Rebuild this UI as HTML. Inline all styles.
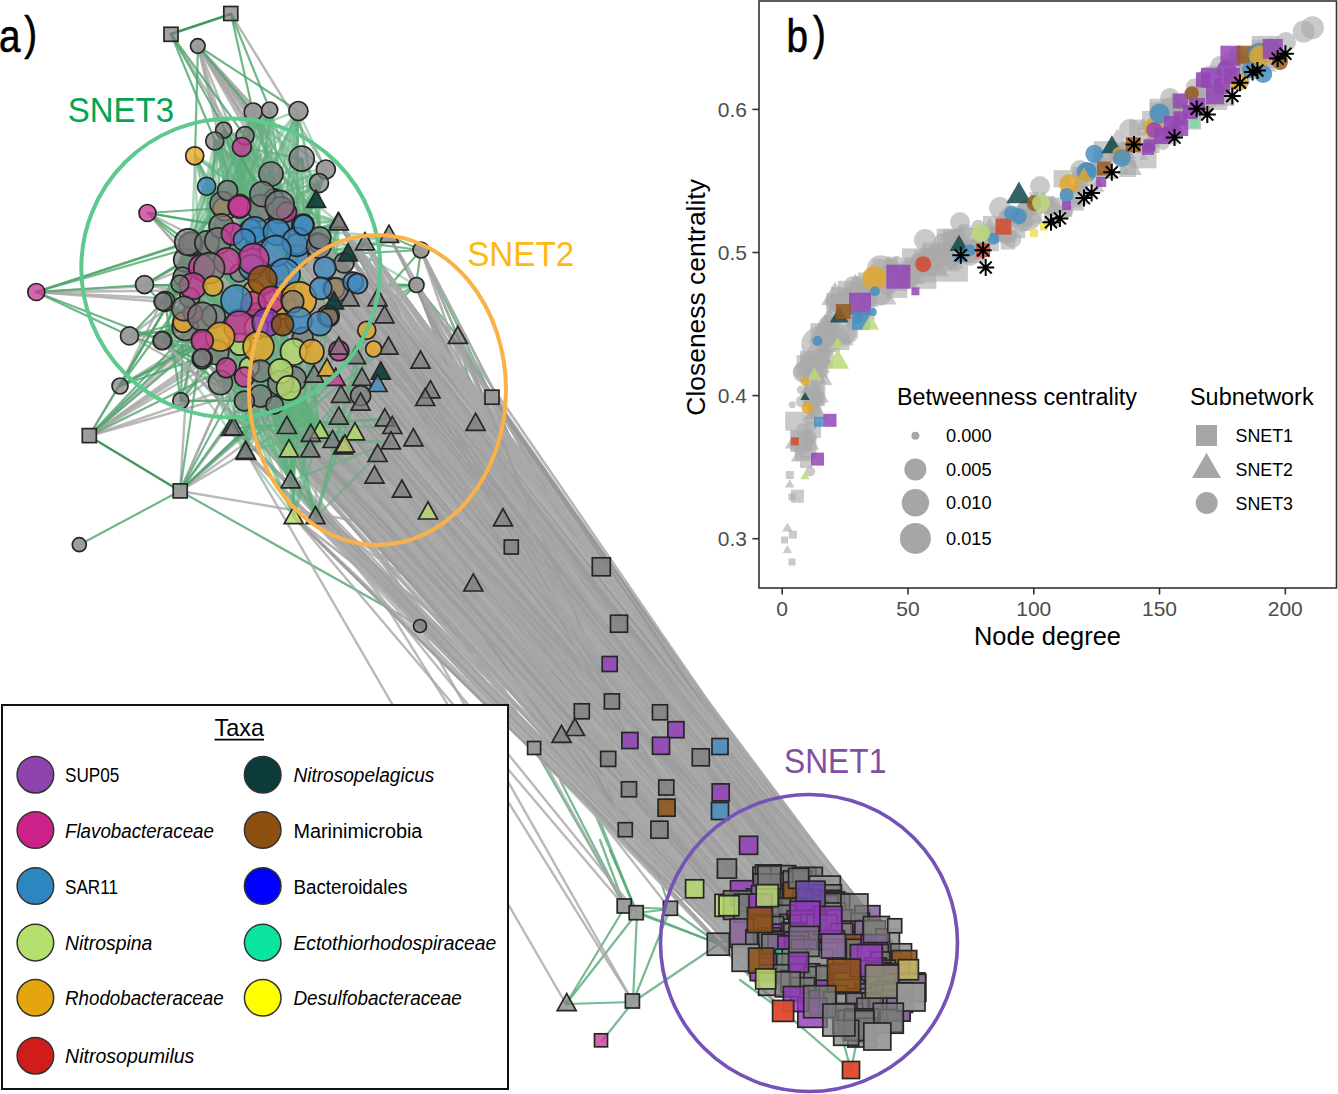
<!DOCTYPE html><html><head><meta charset="utf-8"><style>html,body{margin:0;padding:0;background:#fff;}body{width:1338px;height:1094px;overflow:hidden;}svg{display:block;}</style></head><body>
<svg width="1338" height="1094" viewBox="0 0 1338 1094" font-family="Liberation Sans, sans-serif">
<g stroke-linecap="round">
<path d="M198 46L256 125M198 46L266 137M198 46L267 133M144 285L277 232M130 336L220 337M162 341L281 383" stroke="#a8a8a8" stroke-width="2.4" stroke-opacity="0.8" fill="none"/>
<path d="M89 436L327 369M130 336L281 223M198 46L251 133M36 292L165 302M202 358L293 302M198 46L262 122" stroke="#a8a8a8" stroke-width="2.4" stroke-opacity="0.8" fill="none"/>
<path d="M198 46L257 238M148 213L213 286M198 46L267 121M180 491L341 396M89 436L348 254M231 14L330 175" stroke="#a8a8a8" stroke-width="2.4" stroke-opacity="0.8" fill="none"/>
<path d="M162 341L254 230M198 46L264 139M171 34L262 180M163 302L325 268M163 302L254 259M120 386L253 304" stroke="#a8a8a8" stroke-width="2.4" stroke-opacity="0.8" fill="none"/>
<path d="M163 302L183 322M198 46L257 137M198 46L268 132M180 491L314 375M89 436L180 284M144 285L281 210" stroke="#a8a8a8" stroke-width="2.4" stroke-opacity="0.8" fill="none"/>
<path d="M198 46L270 135M198 46L353 282M198 46L265 132M89 436L266 323M180 491L277 273M198 46L299 300" stroke="#a8a8a8" stroke-width="2.4" stroke-opacity="0.8" fill="none"/>
<path d="M198 46L254 292M89 436L277 273M36 292L262 280M180 491L277 273M89 436L336 290M144 285L236 300" stroke="#a8a8a8" stroke-width="2.4" stroke-opacity="0.8" fill="none"/>
<path d="M36 292L334 289M120 386L191 242M180 491L511 547M162 341L277 273M198 46L254 133M180 491L193 286" stroke="#a8a8a8" stroke-width="2.4" stroke-opacity="0.8" fill="none"/>
<path d="M148 213L207 243M198 46L269 125M130 336L402 490M180 491L289 388M180 491L374 349M202 358L348 254" stroke="#a8a8a8" stroke-width="2.4" stroke-opacity="0.8" fill="none"/>
<path d="M36 292L200 300M89 436L236 300M89 436L339 351M181 401L361 396M198 46L240 206M180 491L365 243" stroke="#a8a8a8" stroke-width="2.4" stroke-opacity="0.8" fill="none"/>
<path d="M202 358L239 273M181 401L254 292M148 213L213 286M89 436L283 306M120 386L321 288M198 46L256 121" stroke="#a8a8a8" stroke-width="2.4" stroke-opacity="0.8" fill="none"/>
<path d="M181 401L283 325M198 46L325 268" stroke="#a8a8a8" stroke-width="2.4" stroke-opacity="0.8" fill="none"/>
<path d="M260 371L232 234M183 322L191 244M260 208L222 204M297 242L191 244M339 351L258 347M220 383L299 300M242 147L214 316M239 327L356 357M321 288L221 226M252 267L317 242M222 204L184 308M240 206L242 147M184 308L343 447M183 322L252 267M165 302L341 396M262 194L232 234M239 207L185 328M353 282L256 327M240 206L253 112M165 302L260 396M339 351L345 445M252 267L341 396M244 240L239 273M297 242L188 242M220 337L262 194M207 243L353 282M183 322L236 300M239 322L392 427M325 268L216 352M220 383L413 439" stroke="#5fb07e" stroke-width="2.4" stroke-opacity="0.5" fill="none"/>
<path d="M281 223L334 302M297 242L281 223M251 230L184 308M321 288L374 476M220 383L281 223M218 241L252 267M245 136L287 212M317 242L320 324M165 302L202 341M260 396L294 517M207 186L328 316M258 347L207 186M195 156L244 377M239 207L343 447M272 300L385 419M260 371L311 434M209 268L215 141M277 232L319 246M202 359L239 322M302 159L336 290M214 316L239 207M258 347L316 517M232 234L270 110M299 321L185 328M293 379L374 476M281 383L251 308M202 359L244 401M344 263L224 130M275 405L163 341M227 261L261 313" stroke="#5fb07e" stroke-width="2.4" stroke-opacity="0.5" fill="none"/>
<path d="M320 238L298 111M239 327L239 322M328 316L287 427M274 199L222 204M297 244L215 141M297 244L303 225M281 223L339 417M216 352L381 372M320 324L274 199M277 232L334 302M339 351L327 369M254 259L333 441M220 383L291 481M281 210L336 290M297 256L298 111M260 208L385 419M202 359L195 156M297 256L202 267M185 328L316 517M222 204L294 352M202 341L184 308M185 328L320 238M260 208L289 450M202 359L374 349M274 199L317 242M297 244L319 246M184 308L353 282M232 234L321 288M193 313L260 371M289 388L334 289" stroke="#5fb07e" stroke-width="2.4" stroke-opacity="0.5" fill="none"/>
<path d="M285 291L416 285M239 207L297 242M220 337L356 357M281 223L338 222M303 338L391 442M193 313L239 322M254 230L388 347M256 319L416 285M275 405L221 226M216 352L336 378M215 141L298 111M302 159L339 351M213 286L392 427M321 288L281 223M260 396L343 447M353 282L291 481M254 292L374 349M339 351L303 338M163 341L299 300M339 351L343 447M193 286L184 308M215 141L227 261M186 260L389 236M220 383L239 322M214 316L378 299M190 298L270 110M316 201L254 259M321 288L225 209M287 212L207 243M244 240L291 481" stroke="#5fb07e" stroke-width="2.4" stroke-opacity="0.5" fill="none"/>
<path d="M339 351L378 385M207 243L163 341M251 308L260 371M254 292L389 236M334 289L339 223M298 111L260 371M297 256L254 292M329 317L218 241M183 322L188 242M336 290L336 378M239 273L317 242M285 291L207 243M277 232L251 230M207 243L240 344M245 136L226 368M317 242L242 147M226 368L298 111M244 401L339 417M281 371L328 316M299 300L378 385M312 352L193 286M304 225L215 141M298 111L202 317M275 405L361 396M239 327L362 378M266 323L202 341M317 242L344 263M297 256L183 322M285 274L320 238M336 290L328 316" stroke="#5fb07e" stroke-width="2.4" stroke-opacity="0.5" fill="none"/>
<path d="M260 208L240 206M257 238L291 481M188 242L316 201M232 234L334 302M253 304L254 292M320 238L291 481M303 338L260 371M239 207L338 222M244 240L391 442M277 273L339 347M272 300L339 223M281 371L289 450M289 388L256 327M218 241L252 267M180 284L256 327M262 280L297 244M271 174L184 308M321 288L334 302M184 308L256 327M297 256L276 251M239 273L183 322M319 246L260 371M220 383L299 300M262 194L193 313M293 302L281 371M232 234L384 316M319 246L391 442M202 341L186 260M319 246L299 321M239 273L221 226" stroke="#5fb07e" stroke-width="2.4" stroke-opacity="0.5" fill="none"/>
<path d="M353 282L185 328M338 222L227 261M226 368L391 442M202 317L193 313M283 306L402 490M183 322L348 254M227 261L336 290M193 286L183 322M239 207L246 452M321 288L239 322M215 141L253 304M329 317L202 341M183 322L314 375M190 298L239 207M207 186L285 291M218 241L213 286M239 207L252 267M207 243L298 111M213 286L252 267M245 136L272 300M180 284L249 367M334 289L355 433M251 260L220 337M207 186L216 352M226 368L333 441M214 316L378 385M293 302L251 308M316 201L209 268M294 352L281 223M256 327L184 308" stroke="#5fb07e" stroke-width="2.4" stroke-opacity="0.5" fill="none"/>
<path d="M262 194L202 341M283 306L221 226M276 251L218 241M180 284L260 396M283 306L165 302M303 338L224 130M244 377L281 210M222 204L297 256M287 212L253 112M220 337L193 286M239 273L271 174M254 292L165 302M218 241L339 347M258 347L344 263M221 226L239 322M260 396L291 481M236 300L256 327M252 267L293 379M202 341L266 323M207 186L240 206M293 379L220 337M297 256L339 351M207 186L183 322M285 291L361 403M266 323L303 225M298 111L326 170M277 273L367 330M214 316L207 243M303 338L338 222M303 338L358 284" stroke="#5fb07e" stroke-width="2.4" stroke-opacity="0.5" fill="none"/>
<path d="M224 130L276 251M285 274L207 243M312 352L344 263M207 243L289 450M281 223L224 130M256 327L391 442M240 206L207 186M191 244L216 352M244 377L202 267M226 368L345 445M254 259L336 290M280 205L274 199M202 341L242 147M283 325L281 371M240 206L215 141M281 371L262 280M202 317L336 290M260 208L213 286M244 401L374 349M190 298L355 433M222 204L202 341M262 280L182 276M293 379L319 246M232 234L191 242M277 232L320 238M209 268L244 401M202 359L297 256M240 206L202 359M283 325L302 159M249 367L207 243" stroke="#5fb07e" stroke-width="2.4" stroke-opacity="0.5" fill="none"/>
<path d="M294 352L416 285M277 273L281 371M221 226L378 455M285 291L202 341M297 256L251 260M228 190L207 243M202 267L240 344M244 377L239 322M227 261L348 254M207 186L254 230M281 223L325 268M303 225L289 450M182 276L191 244M256 327L202 341M287 212L378 455M209 268L163 341M293 302L314 375M184 308L183 322M220 337L321 288M222 204L276 251M289 388L336 290M216 352L319 246M285 274L260 208M316 201L240 206M274 199L202 341M163 341L249 367M344 263L266 323M251 308L345 445M240 344L338 222M297 244L220 337" stroke="#5fb07e" stroke-width="2.4" stroke-opacity="0.5" fill="none"/>
<path d="M244 377L327 369M283 325L320 431M193 286L281 383M258 347L294 352M185 328L256 319M297 256L240 344M221 226L277 273M260 208L251 308M260 396L345 445M317 242L281 210M316 201L256 319M353 282L221 226M163 341L367 330M283 306L338 222M216 352L251 260M287 212L299 321M297 244L326 170M213 286L260 208M240 206L193 286M254 292L258 347M207 186L319 246M274 199L244 401M281 383L251 308M329 317L361 403M344 263L287 427M289 388L303 338M240 344L207 243M271 174L270 110M329 317L413 439M214 316L339 223" stroke="#5fb07e" stroke-width="2.4" stroke-opacity="0.5" fill="none"/>
<path d="M260 208L227 261M328 316L339 347M312 352L245 136M202 341L297 256M297 256L302 159M256 327L325 268M325 268L320 324M266 323L246 452M244 401L191 244M281 223L378 385M261 313L220 337M285 274L339 417M190 298L356 357M277 232L239 273M256 327L285 291M281 210L328 316M239 327L280 205M281 223L294 517M275 405L392 427M353 282L253 112M260 396L193 313M207 243L378 455M302 159L304 225M180 284L361 403M271 174L326 170M251 260L281 371M239 322L304 225M320 238L224 130M256 319L240 206M289 388L385 419" stroke="#5fb07e" stroke-width="2.4" stroke-opacity="0.5" fill="none"/>
<path d="M207 243L244 401M213 286L287 427M226 368L184 308M334 289L336 378M226 368L304 225M193 286L281 210M297 242L314 375M209 268L304 225M338 222L190 298M303 338L215 141M260 396L195 156M244 240L234 428M298 111L256 327M215 141L302 159M185 328L297 256M186 260L325 268M326 170L253 112M239 327L389 236M183 322L202 359M281 210L165 302M274 199L384 316M303 338L304 225M256 319L220 383M240 344L185 328M216 352L391 442M297 244L283 306M163 341L294 517M239 322L254 292M251 260L260 371M193 286L367 330" stroke="#5fb07e" stroke-width="2.4" stroke-opacity="0.5" fill="none"/>
<path d="M249 367L242 147M297 242L334 302M165 302L218 241M257 238L222 204M254 259L289 388M240 206L256 327M165 302L245 136M225 209L195 156M216 352L202 317M294 352L188 242M213 286L202 317M180 284L378 455M285 274L182 276M244 401L240 344M258 347L355 433M260 371L291 481M227 261L207 243M344 263L320 324M328 316L186 260M251 230L385 419M316 201L328 316M245 136L277 273M224 130L320 324M277 273L298 111M285 274L298 111M244 377L362 378M225 209L392 427M285 291L385 419M287 212L289 388M180 284L416 285" stroke="#5fb07e" stroke-width="2.4" stroke-opacity="0.5" fill="none"/>
<path d="M326 170L316 201M328 316L240 206M299 321L325 268M303 338L285 274M281 223L216 352M202 317L207 243M277 232L299 321M183 322L236 300M220 383L384 316M254 259L413 439M202 341L297 244M303 225L213 286M251 230L262 280M226 368L285 291M184 308L378 299M220 337L242 147M252 267L339 347M303 225L293 379M277 232L341 396M338 222L320 324M258 347L339 347M303 225L289 450M260 371L274 199M270 110L227 261M254 292L385 419M277 232L251 260M239 322L345 445M220 383L236 300M316 201L202 341M285 274L327 369" stroke="#5fb07e" stroke-width="2.4" stroke-opacity="0.5" fill="none"/>
<path d="M262 280L327 369M244 377L240 206M283 306L260 208M281 383L321 288M285 291L240 206M299 321L294 517M202 317L291 481M244 401L319 183M298 111L213 286M193 286L287 212M242 147L251 308M249 367L317 242M260 208L240 344M245 136L329 317M253 304L190 298M182 276L256 327M262 194L226 368M271 174L321 288M258 347L274 199M294 352L299 321M338 222L274 199M285 274L285 291M320 238L319 183M293 379L416 285M191 242L190 298M312 352L221 226M244 401L256 327M163 341L244 377M240 206L183 322M202 341L339 417" stroke="#5fb07e" stroke-width="2.4" stroke-opacity="0.5" fill="none"/>
<path d="M272 300L374 476M275 405L374 476M319 183L222 204M236 300L381 372M304 225L245 136M276 251L244 240M240 344L245 136M260 396L320 431M266 323L326 170M252 267L287 212M339 351L258 347M281 371L180 284M336 290L253 304M202 359L215 141M232 234L195 156M245 136L244 240M328 316L334 289M302 159L304 225M312 352L304 225M232 234L202 267M302 159L281 210M180 284L253 112M338 222L281 223M244 401L326 170M240 206L186 260M222 204L281 371M281 210L240 206M336 290L239 273M258 347L270 110M183 322L297 242" stroke="#5fb07e" stroke-width="2.4" stroke-opacity="0.5" fill="none"/>
<path d="M240 344L325 268M182 276L277 273M258 347L207 186M252 267L227 261M293 302L260 396M202 341L275 405M299 300L374 349M251 230L358 284M240 206L222 204M202 341L256 327M353 282L254 230M299 321L381 372M244 401L182 276M287 212L416 285M227 261L344 263M191 242L239 327M202 267L188 242M251 308L325 268M254 292L202 267M274 199L260 208M312 352L191 242M303 338L339 223M262 194L317 242M191 244L328 316M213 286L348 254M254 230L353 282M277 273L165 302M190 298L325 268M209 268L245 136M213 286L334 289" stroke="#5fb07e" stroke-width="2.4" stroke-opacity="0.5" fill="none"/>
<path d="M260 371L416 285M182 276L262 280M224 130L163 341M202 341L183 322M182 276L224 130M240 206L326 170M213 286L343 447M353 282L277 232M320 324L297 256M319 246L319 183M272 300L253 304M353 282L240 206M329 317L336 378M207 243L262 280M317 242L239 322M251 230L299 321M191 242L254 230M281 223L374 349M244 401L362 378M191 242L350 299M297 242L317 242M216 352L320 324M185 328L297 244M281 223L165 302M320 324L281 210M303 338L261 313M221 226L272 300M193 286L253 304M240 206L299 321M188 242L297 242" stroke="#5fb07e" stroke-width="2.4" stroke-opacity="0.5" fill="none"/>
<path d="M258 347L272 300M344 263L283 306M253 304L285 291M353 282L262 194M249 367L402 490M260 396L256 319M312 352L224 130M202 317L239 322M304 225L320 238M227 261L277 273M277 232L193 286M165 302L202 341M297 244L262 194M191 242L314 375M260 208L341 396M256 319L226 368M287 212L384 316M328 316L329 317M299 300L367 330M218 241L374 349M281 383L298 111M244 240L303 338M353 282L202 359M193 286L365 243M225 209L285 291M191 242L339 351M289 388L348 254M244 401L261 313M293 302L297 256M304 225L262 194" stroke="#5fb07e" stroke-width="2.4" stroke-opacity="0.5" fill="none"/>
<path d="M165 302L320 431M276 251L310 450M253 112L251 260M277 273L339 347M319 183L280 205M216 352L280 205M220 337L256 327M202 341L299 321M293 379L385 419M319 183L244 401M165 302L227 261M334 289L334 302M245 136L214 316M303 338L374 349M232 234L321 288M303 225L180 284M224 130L283 306M226 368L225 209M244 240L334 289M213 286L336 290M209 268L378 299M293 302L281 383M334 289L391 442M184 308L251 260M244 377L271 174M191 242L293 379M202 341L272 300M186 260L202 359M287 212L353 282M297 242L188 242" stroke="#5fb07e" stroke-width="2.4" stroke-opacity="0.5" fill="none"/>
<path d="M185 328L239 207M251 230L272 300M214 316L341 396M297 242L207 186M260 208L253 304M249 367L257 238M216 352L202 317M216 352L334 289M325 268L232 234M281 383L341 396M186 260L281 383M281 223L253 304M260 208L221 226M261 313L185 328M254 292L333 441M207 243L348 254M182 276L232 234M214 316L289 450M207 186L321 288M207 243L378 385M336 290L289 388M236 300L283 306M298 111L262 194M260 371L345 445M251 260L190 298M297 256L184 308M281 223L291 481M260 371L345 445M297 242L319 246M353 282L389 236" stroke="#5fb07e" stroke-width="2.4" stroke-opacity="0.5" fill="none"/>
<path d="M193 313L299 321M220 337L297 256M329 317L244 377M281 210L281 223M257 238L341 396M261 313L262 194M207 186L329 317M254 259L252 267M266 323L392 427M299 300L281 223M216 352L316 201M299 321L191 242M251 260L303 225M254 292L232 234M188 242L242 147M213 286L251 260M207 186L220 383M165 302L314 375M242 147L266 323M261 313L262 194M317 242L343 447M239 273L277 232M236 300L381 372M336 290L374 349M240 206L242 147M281 223L339 351M297 244L281 371M281 210L299 321M293 379L202 341M260 208L262 280" stroke="#5fb07e" stroke-width="2.4" stroke-opacity="0.5" fill="none"/>
<path d="M298 111L216 352M163 341L297 242M218 241L312 352M239 207L193 313M239 207L314 375M260 208L277 273M251 308L385 419M251 308L274 199M240 344L298 111M240 206L244 401M183 322L232 234M283 325L202 317M287 212L291 481M281 223L341 396M297 242L254 292M281 223L228 190M289 388L344 263M239 207L242 147M193 286L312 352M239 207L303 225M254 259L185 328M221 226L191 242M240 344L252 267M226 368L257 238M239 327L277 232M258 347L236 300M165 302L249 367M227 261L339 351M277 232L221 226M297 244L182 276" stroke="#5fb07e" stroke-width="2.4" stroke-opacity="0.5" fill="none"/>
<path d="M215 141L191 244M271 174L221 226M293 379L374 349M344 263L221 226M242 147L302 159M221 226L244 377M183 322L355 433M183 322L297 242M244 401L367 330M236 300L193 286M193 286L239 273M251 230L202 359M253 304L384 316M220 383L362 378M249 367L190 298M202 341L291 481M260 371L320 324M281 210L193 286M239 327L249 367M244 401L289 388M320 324L272 300M344 263L239 207M294 352L289 388M274 199L350 299M239 273L293 302M283 325L202 317M281 371L297 242M321 288L218 241M202 341L299 321M289 388L202 359" stroke="#5fb07e" stroke-width="2.4" stroke-opacity="0.5" fill="none"/>
<path d="M165 302L402 490M202 341L281 223M188 242L202 359M252 267L215 141M256 319L186 260M251 260L239 273M221 226L262 280M221 226L226 368M271 174L207 186M276 251L251 230M260 371L325 268M251 308L191 244M272 300L281 383M281 223L195 156M275 405L183 322M281 210L261 313M266 323L402 490M316 201L339 351M242 147L193 313M302 159L183 322M256 327L254 292M193 286L240 344M260 396L240 206M334 289L378 455M321 288L325 268M193 286L339 351M285 291L209 268M253 304L209 268M281 383L239 273M188 242L289 388" stroke="#5fb07e" stroke-width="2.4" stroke-opacity="0.5" fill="none"/>
<path d="M251 308L202 267M207 243L345 445M218 241L299 300M251 230L341 396M260 396L378 385M283 306L186 260M277 232L225 209M320 324L311 434M299 321L320 324M277 232L311 434M218 241L239 322M227 261L378 455M239 327L350 299M260 371L207 243M239 322L191 244M239 273L280 205M257 238L362 378M244 240L165 302M202 341L207 243M303 225L245 136M224 130L240 206M257 238L202 341M289 388L193 313M256 327L339 347M321 288L416 285M283 325L249 367M270 110L303 338M226 368L254 259M275 405L191 244M244 401L165 302" stroke="#5fb07e" stroke-width="2.4" stroke-opacity="0.5" fill="none"/>
<path d="M283 306L297 256M207 186L249 367M260 396L262 280M222 204L329 317M277 232L246 452M215 141L283 325M251 230L321 288M294 352L254 292M188 242L258 347M339 351L339 347M272 300L254 292M319 183L202 341M257 238L260 208M344 263L281 210M188 242L182 276M299 321L261 313M325 268L413 439M294 352L191 242M191 242L334 302M227 261L327 369M191 242L294 352M285 274L240 206M303 225L336 378M253 112L218 241M182 276L228 190M299 321L402 490M193 286L374 476M316 201L220 337M163 341L188 242M195 156L281 371" stroke="#5fb07e" stroke-width="2.4" stroke-opacity="0.5" fill="none"/>
<path d="M299 300L281 210M325 268L374 476M281 371L254 259M297 256L256 327M260 371L311 434M281 210L215 141M260 371L251 260M242 147L270 110M214 316L289 450M182 276L209 268M207 186L316 201M303 338L260 208M180 284L165 302M344 263L215 141M224 130L240 344M297 256L334 302M334 289L374 476M226 368L281 223M338 222L285 291M221 226L165 302M202 267L362 378M226 368L254 292M232 234L281 210M226 368L320 238M266 323L339 347M260 396L381 372M183 322L234 428M202 341L225 209M188 242L287 427M236 300L291 481" stroke="#5fb07e" stroke-width="2.4" stroke-opacity="0.5" fill="none"/>
<path d="M260 396L185 328M297 242L374 476M185 328L333 441M163 341L274 199M283 325L240 206M281 383L185 328M319 246L299 321M188 242L327 369M317 242L193 286M214 316L355 433M232 234L361 403M202 359L215 141M253 112L297 244M184 308L304 225M207 243L209 268M191 242L281 383M188 242L275 405M251 230L298 111M287 212L254 230M185 328L202 341M262 194L239 273M283 325L224 130M239 207L320 324M338 222L299 300M297 242L220 383M245 136L320 324M262 280L182 276M321 288L260 396M272 300L215 141M202 341L291 481" stroke="#5fb07e" stroke-width="2.4" stroke-opacity="0.5" fill="none"/>
<path d="M253 112L281 210M239 273L365 243M293 302L298 111M220 383L287 212M256 319L218 241M240 206L261 313M222 204L220 337M193 313L281 371M249 367L320 238M239 327L334 302M297 244L277 232M182 276L254 292M266 323L385 419M262 280L257 238M191 242L214 316M185 328L202 341M297 244L245 136M244 240L304 225M251 260L276 251M287 212L320 238M283 306L207 186M190 298L252 267M195 156L190 298M281 371L240 206M242 147L260 208M283 325L281 210M244 377L385 419M260 371L277 273M285 291L334 302M325 268L355 433" stroke="#5fb07e" stroke-width="2.4" stroke-opacity="0.5" fill="none"/>
<path d="M236 300L262 280M256 319L281 210M191 242L254 292M298 111L297 242M182 276L191 244M294 352L378 455M272 300L207 186M239 273L320 431M319 183L281 210M344 263L320 324M251 308L280 205M225 209L327 369M207 243L202 341M193 313L236 300M244 377L202 267M270 110L186 260M239 273L262 280M287 212L402 490M256 319L227 261M228 190L202 341M254 230L258 347M244 377L257 238M338 222L224 130M285 291L253 112M256 327L378 455M271 174L253 112M283 325L262 280M186 260L341 396M184 308L260 371M242 147L277 232" stroke="#5fb07e" stroke-width="2.4" stroke-opacity="0.5" fill="none"/>
<path d="M209 268L339 223M270 110L252 267M180 284L214 316M256 319L276 251M224 130L220 383M182 276L350 299M326 170L222 204M220 337L209 268M240 206L253 304M220 383L378 299M271 174L299 321M165 302L348 254M256 327L202 341M319 246L185 328M215 141L336 290M287 212L378 385M283 306L374 349M260 371L180 284M193 313L356 357M226 368L287 427M293 302L320 431M298 111L297 242M272 300L374 349M289 388L312 352M244 401L251 260M283 325L367 330M220 383L256 319M293 379L228 190M239 207L355 433M256 327L262 280" stroke="#5fb07e" stroke-width="2.4" stroke-opacity="0.5" fill="none"/>
<path d="M221 226L283 325M262 194L281 371M213 286L253 112M220 337L251 230M293 379L256 327M271 174L321 288M202 267L163 341M254 292L257 238M207 186L274 199M271 174L281 210M299 300L343 447M191 242L367 330M214 316L180 284M188 242L392 427M329 317L256 319M232 234L374 476M329 317L310 450M270 110L317 242M281 223L348 254M207 186L312 352M228 190L285 274M299 300L215 141M262 280L195 156M191 244L345 445M256 319L378 299M328 316L283 325M285 291L338 222M277 232L336 290M186 260L242 147M240 206L253 112" stroke="#5fb07e" stroke-width="2.4" stroke-opacity="0.5" fill="none"/>
<path d="M215 141L328 316M253 112L336 290M283 306L381 372M232 234L314 375M285 274L281 210M319 183L253 112M180 284L367 330M253 112L262 194M182 276L225 209M216 352L384 316M253 112L180 284M180 284L334 289M245 136L207 186M191 244L299 300M244 401L270 110M283 325L361 396M190 298L182 276M256 327L274 199M226 368L325 268M271 174L249 367M252 267L270 110M220 337L378 455M339 351L240 344M319 246L252 267M226 368L361 396M184 308L262 194M251 308L293 379M244 240L213 286M186 260L254 259M222 204L391 442" stroke="#5fb07e" stroke-width="2.4" stroke-opacity="0.5" fill="none"/>
<path d="M236 300L291 481M320 324L214 316M163 341L256 319M277 232L326 170M320 324L333 441M317 242L236 300M193 313L283 306M186 260L327 369M254 259L221 226M226 368L311 434M244 240L339 351M202 341L227 261M262 280L186 260M193 286L274 199M262 194L195 156M326 170L213 286M260 371L327 369M184 308L224 130M272 300L185 328M215 141L220 383M336 290L236 300M244 401L293 302M281 223L251 260M294 352L388 347M302 159L191 244M253 304L207 186M245 136L232 234M277 232L251 308M207 186L274 199M312 352L260 396" stroke="#5fb07e" stroke-width="2.4" stroke-opacity="0.5" fill="none"/>
<path d="M191 242L165 302M289 388L329 317M232 234L202 359M249 367L365 243M260 396L246 452M262 280L287 427M275 405L384 316M185 328L261 313M221 226L365 243M289 388L361 403M202 341L310 450M182 276L389 236M193 286L297 242M283 325L262 280M244 401L319 183M262 280L240 206M209 268L254 259M193 313L249 367M277 273L319 183M316 201L252 267M329 317L339 223M334 289L191 244M242 147L260 371M334 289L358 284M190 298L339 223M294 352L367 330M228 190L260 371M252 267L289 388M186 260L339 223M242 147L257 238" stroke="#5fb07e" stroke-width="2.4" stroke-opacity="0.5" fill="none"/>
<path d="M202 341L218 241M299 300L281 223M283 325L391 442M182 276L378 385M293 302L362 378M180 284L193 313M221 226L207 243M281 210L256 327M244 401L232 234M224 130L272 300M222 204L191 242M240 206L362 378M261 313L251 230M240 206L254 230M218 241L291 481M216 352L374 349M236 300L281 371M202 359L327 369M253 112L329 317M244 240L361 403M202 359L251 260M183 322L240 344M353 282L303 225M303 338L287 212M277 273L254 230M299 321L320 431M202 359L251 260M260 208L384 316M228 190L338 222M256 319L361 403" stroke="#5fb07e" stroke-width="2.4" stroke-opacity="0.5" fill="none"/>
<path d="M261 313L251 230M329 317L270 110M281 371L311 434M239 327L244 240M285 291L343 447M188 242L298 111M216 352L239 273M195 156L319 246M191 242L275 405M239 273L256 319M260 396L246 452M239 207L190 298M193 286L319 246M262 280L327 369M271 174L281 371M239 322L326 170M236 300L245 136M253 112L213 286M185 328L378 385M317 242L244 401M185 328L183 322M297 256L274 199M285 291L236 300M336 290L254 259M266 323L195 156M252 267L283 325M240 206L251 308M260 208L320 324M319 246L218 241M299 321L193 286" stroke="#5fb07e" stroke-width="2.4" stroke-opacity="0.5" fill="none"/>
<path d="M249 367L334 302M236 300L336 290M239 322L251 308M227 261L317 242M294 352L317 242M317 242L261 313M202 341L338 222M191 242L333 441M285 274L365 243M221 226L389 236M183 322L341 396M165 302L281 371M319 183L285 291M283 325L207 186M283 306L385 419M261 313L345 445M202 341L244 240M270 110L299 321M256 327L294 352M257 238L183 322M218 241L232 234M221 226L254 259M251 230L213 286M258 347L209 268M224 130L165 302M329 317L283 325M213 286L303 338M244 401L291 481M270 110L274 199M180 284L191 242" stroke="#5fb07e" stroke-width="2.4" stroke-opacity="0.5" fill="none"/>
<path d="M329 317L214 316M202 267L378 455M193 286L275 405M272 300L416 285M283 325L312 352M222 204L277 273M163 341L384 316M299 321L391 442M316 201L298 111M328 316L367 330M320 238L254 230M254 230L262 280M304 225L207 186M209 268L266 323M232 234L202 359M328 316L183 322M240 344L202 267M207 186L293 302M186 260L378 299M251 260L413 439M297 244L245 136M180 284L319 183M275 405L293 302M191 244L297 244M240 206L320 431M207 186L254 259M260 371L236 300M283 306L391 442M285 274L257 238M299 300L220 383" stroke="#5fb07e" stroke-width="2.4" stroke-opacity="0.5" fill="none"/>
<path d="M253 304L262 194M320 324L336 290M304 225L215 141M289 388L260 371M190 298L277 232M225 209L333 441M221 226L310 450M317 242L281 210M221 226L202 341M191 244L184 308M253 112L258 347M184 308L218 241M271 174L216 352M260 208L326 170M239 273L182 276M280 205L180 284M193 286L378 385M207 243L220 337M225 209L319 183M317 242L311 434M221 226L202 341M329 317L226 368M285 291L202 359M293 379L317 242M240 206L392 427M257 238L287 212M213 286L311 434M334 289L218 241M185 328L258 347M180 284L234 428" stroke="#5fb07e" stroke-width="2.4" stroke-opacity="0.5" fill="none"/>
<path d="M281 371L320 431M320 238L355 433M283 306L392 427M245 136L257 238M281 210L163 341M281 371L236 300M251 260L254 230M283 306L256 327M299 300L261 313M244 401L325 268M320 324L226 368M188 242L345 445M245 136L281 383M281 223L334 289M297 242L329 317M226 368L321 288M253 112L353 282M277 232L378 299M320 324L285 291M184 308L163 341M303 338L190 298M299 321L215 141M202 341L224 130M293 379L358 284M281 223L184 308M191 244L163 341M220 383L350 299M334 289L378 299M312 352L343 447M182 276L338 222" stroke="#5fb07e" stroke-width="2.4" stroke-opacity="0.5" fill="none"/>
<path d="M225 209L325 268M312 352L266 323M218 241L299 321M252 267L413 439M283 325L362 378M293 302L384 316M258 347L303 225M252 267L226 368M163 341L297 244M218 241L239 207M202 267L260 371M239 322L191 244M224 130L191 242M207 243L285 291M252 267L334 289M236 300L266 323M251 260L353 282M220 383L378 385M239 207L236 300M312 352L336 378M328 316L182 276M320 324L358 284M182 276L260 396M191 244L358 284M239 207L275 405M239 207L220 337M281 223L311 434M185 328L202 267M344 263L216 352M221 226L240 206" stroke="#5fb07e" stroke-width="2.4" stroke-opacity="0.5" fill="none"/>
<path d="M240 206L209 268M220 337L316 201M253 304L344 263M321 288L339 223M289 388L240 344M317 242L316 517M202 359L254 292M239 327L239 273M270 110L260 208M277 273L190 298M251 308L345 445M328 316L271 174M191 242L239 322M303 225L244 401M287 212L276 251M260 396L256 327M185 328L320 324M256 319L215 141M191 244L254 292M262 280L261 313M285 274L261 313M297 242L182 276" stroke="#5fb07e" stroke-width="2.4" stroke-opacity="0.5" fill="none"/>
<path d="M162 341L240 344M171 34L215 141M458 337L511 547M231 14L270 110M148 213L239 207M130 336L185 328" stroke="#4ea56c" stroke-width="2.2" stroke-opacity="0.8" fill="none"/>
<path d="M148 213L251 230M180 491L420 626M180 491L258 347M148 213L188 242M162 341L190 298M36 292L130 336" stroke="#4ea56c" stroke-width="2.2" stroke-opacity="0.8" fill="none"/>
<path d="M120 386L180 284M120 386L202 341M89 436L202 341M144 285L213 286M163 302L185 328M36 292L188 242" stroke="#4ea56c" stroke-width="2.2" stroke-opacity="0.8" fill="none"/>
<path d="M148 213L209 268M421 250L378 299M163 302L220 337M421 250L348 254M416 285L384 316M181 401L165 302" stroke="#4ea56c" stroke-width="2.2" stroke-opacity="0.8" fill="none"/>
<path d="M198 46L195 156M36 292L163 341M120 386L216 352M144 285L186 260M89 436L226 368M421 250L365 243" stroke="#4ea56c" stroke-width="2.2" stroke-opacity="0.8" fill="none"/>
<path d="M130 336L183 322M171 34L262 194M198 46L253 112M163 302L188 242M421 250L492 397M144 285L186 260" stroke="#4ea56c" stroke-width="2.2" stroke-opacity="0.8" fill="none"/>
<path d="M202 358L244 401M421 250L458 337M181 401L244 401M389 236L421 250M181 401L183 322M130 336L226 368" stroke="#4ea56c" stroke-width="2.2" stroke-opacity="0.8" fill="none"/>
<path d="M198 46L298 111M181 401L239 327M458 337L492 397M416 285L421 250M36 292L207 243M144 285L202 341" stroke="#4ea56c" stroke-width="2.2" stroke-opacity="0.8" fill="none"/>
<path d="M180 491L202 341M202 358L184 308M231 14L253 112M36 292L144 285M162 341L220 383M180 491L275 405" stroke="#4ea56c" stroke-width="2.2" stroke-opacity="0.8" fill="none"/>
<path d="M36 292L191 242M130 336L180 284M79 545L180 491M180 491L289 388M416 285L358 284M416 285L458 337" stroke="#4ea56c" stroke-width="2.2" stroke-opacity="0.8" fill="none"/>
<path d="M89 436L180 284M416 285L476 424M144 285L213 286M120 386L193 286M181 401L202 317M202 358L202 341" stroke="#4ea56c" stroke-width="2.2" stroke-opacity="0.8" fill="none"/>
<path d="M120 386L239 322M202 358L202 341M180 491L244 401M89 436L214 316M162 341L216 352M89 436L202 317" stroke="#4ea56c" stroke-width="2.2" stroke-opacity="0.8" fill="none"/>
<path d="M492 397L601 567M163 302L190 298M202 358L202 359M171 34L245 136M163 302L193 286M130 336L185 328" stroke="#4ea56c" stroke-width="2.2" stroke-opacity="0.8" fill="none"/>
<path d="M148 213L221 226M162 341L183 322" stroke="#4ea56c" stroke-width="2.2" stroke-opacity="0.8" fill="none"/>
<path d="M231 14L171 34M89 436L180 491" stroke="#2f8a4c" stroke-width="2.4" stroke-opacity="0.9" fill="none"/>
<path d="M851 1070L860 1025M625 907L560 780M566 1004L625 907M633 1002L637 913M719 944L746 958M637 913L670 909" stroke="#55a874" stroke-width="2.2" stroke-opacity="0.8" fill="none"/>
<path d="M633 1002L719 944M670 909L695 889M670 909L719 944M783 1011L740 980M670 909L719 944M625 907L600 840" stroke="#55a874" stroke-width="2.2" stroke-opacity="0.8" fill="none"/>
<path d="M637 913L719 944M637 913L719 944M420 626L534 748M851 1070L840 1030M783 1011L851 1070M670 909L650 850" stroke="#55a874" stroke-width="2.2" stroke-opacity="0.8" fill="none"/>
<path d="M625 907L670 909M625 907L719 944M534 748L575 729M566 1004L637 913M534 748L625 907M566 1004L633 1002" stroke="#55a874" stroke-width="2.2" stroke-opacity="0.8" fill="none"/>
<path d="M633 1002L670 909M602 1041L633 1002M637 913L575 760M534 748L562 736M562 736L637 913M719 944L760 920" stroke="#55a874" stroke-width="2.2" stroke-opacity="0.8" fill="none"/>
<path d="M637 913L610 850" stroke="#55a874" stroke-width="2.2" stroke-opacity="0.8" fill="none"/>
<path d="M333 441L534 748M341 396L625 907M289 450L534 748M294 517L625 907M246 452L566 1004" stroke="#a8a8a8" stroke-width="2.4" stroke-opacity="0.8" fill="none"/>
<path d="M311 434L633 1002M310 450L670 909M234 428L420 626M320 431L420 626M291 481L420 626" stroke="#a8a8a8" stroke-width="2.4" stroke-opacity="0.8" fill="none"/>
<path d="M289 450L633 1002M316 517L637 913" stroke="#a8a8a8" stroke-width="2.4" stroke-opacity="0.8" fill="none"/>
<path d="M320 431L817 980M355 433L667 808M476 424L873 960M374 476L826 991M374 476L839 1020M378 299L898 998M511 547L821 893M355 433L769 877M473 584L875 1005M328 316L832 958M430 391L848 951M503 519L695 889M425 399L806 878M392 427L782 935M345 445L769 931M202 317L791 981M253 304L848 1020M334 302L874 948M190 298L760 920M266 323L763 896" stroke="#969696" stroke-width="2.6" stroke-opacity="0.85" fill="none"/>
<path d="M430 391L889 984M244 240L845 1003M374 476L799 962M256 327L695 889M348 254L879 975M378 299L868 933M339 347L802 926M336 378L610 664M374 349L828 920M428 512L806 941M260 396L812 1013M260 371L601 567M316 517L774 980M361 396L828 920M339 417L782 935M193 313L783 1011M328 316L832 951M333 441L676 730M391 442L877 1036M348 254L816 902" stroke="#b0b0b0" stroke-width="2.6" stroke-opacity="0.85" fill="none"/>
<path d="M256 327L782 935M293 302L848 987M339 347L875 1005M378 455L792 885M239 207L832 951M430 391L912 988M317 242L880 994M320 431L782 935M378 455L859 1001M283 306L805 916M285 274L877 1036M350 299L660 712M329 317L810 901M425 399L601 567M297 256L876 968M266 323L817 980M339 417L875 1005M316 517L695 889M378 299L897 976M333 441L791 981" stroke="#a9a9a9" stroke-width="2.6" stroke-opacity="0.85" fill="none"/>
<path d="M350 299L701 757M362 378L806 921M388 347L879 975M310 450L755 939M343 447L867 1020M388 347L871 1013M355 433L768 878M274 199L832 951M430 391L825 892M365 243L832 904M285 291L764 878M367 330L826 905M327 369L813 927M378 299L825 892M320 324L848 1018M316 517L766 979M361 396L805 916M281 383L788 984M348 254L867 918M476 424L608 759" stroke="#9c9c9c" stroke-width="2.6" stroke-opacity="0.85" fill="none"/>
<path d="M254 259L845 979M186 260L748 908M473 584L862 1033M277 232L813 927M281 210L805 916M367 330L854 908M321 288L859 974M334 302L817 980M381 372L842 934M391 442L676 730M334 302L783 878M327 369L795 930M350 299L880 962M311 434L826 991M378 385L806 921M341 396L766 900M348 254L901 954M385 419L625 830M503 519L793 910M333 441L791 981" stroke="#a4a4a4" stroke-width="2.6" stroke-opacity="0.85" fill="none"/>
<path d="M293 302L830 979M378 455L791 969M289 388L846 1033M327 369L832 951M272 300L630 740M287 212L832 958M361 396L795 930M260 208L833 946M356 357L815 920M378 455L806 921M277 232L828 920M367 330L876 930M336 378L832 958M402 490L830 979M381 372L798 897M344 263L911 997M358 284L799 878M334 302L783 878M334 289L848 951M260 208L832 904" stroke="#a4a4a4" stroke-width="2.6" stroke-opacity="0.85" fill="none"/>
<path d="M358 284L825 892M511 547L827 899M420 361L880 962M320 431L767 896M281 371L839 1020M391 442L890 1004M314 375L805 953M314 375L806 941M361 403L859 1001M503 519L880 962M413 439L660 712M476 424L911 997M316 517L761 961M511 547L608 759M299 300L871 1013M476 424L904 963M381 372L822 930M388 347L912 988M336 378L848 1018M316 517L796 999" stroke="#b0b0b0" stroke-width="2.6" stroke-opacity="0.85" fill="none"/>
<path d="M343 447L846 1033M365 243L908 970M345 445L856 1028M356 357L721 792M316 517L774 980M312 352L862 1032M473 584L661 746M334 302L799 878M350 299L827 899M274 199L806 921M378 385L806 878M425 399L897 976M420 361L808 882M297 244L835 908M289 450L774 980M289 388L749 901M272 300L817 980M333 441L848 1018M336 378L848 1018M358 284L897 976" stroke="#9c9c9c" stroke-width="2.6" stroke-opacity="0.85" fill="none"/>
<path d="M334 302L797 885M402 490L786 920M378 385L888 1018M321 288L659 830M320 431L797 964M428 512L749 845M333 441L760 920M276 251L802 926M341 396L839 1020M353 282L860 922M358 284L816 902M180 284L788 984M428 512L802 926M339 417L859 1026M378 299L720 811M356 357L880 994M339 347L891 998M220 337L748 908M297 242L813 927M341 396L760 905" stroke="#a9a9a9" stroke-width="2.6" stroke-opacity="0.85" fill="none"/>
<path d="M385 419L805 953M425 399L799 878M374 476L786 920M246 452L783 1011M358 284L904 963M385 419L867 1020M257 238L888 1018M336 378L882 1007M416 285L860 922M244 240L813 927M328 316L875 1005M356 357L792 911M291 481L774 980M392 427L806 921M232 234L610 664M430 391L805 916M251 230L796 936M384 316L832 904M257 238L822 930M345 445L791 949" stroke="#b0b0b0" stroke-width="2.6" stroke-opacity="0.85" fill="none"/>
<path d="M319 246L874 932M361 396L832 951M339 223L912 988M251 260L792 911M277 273L720 811M381 372L848 951M402 490L805 953M320 431L857 1004M348 254L904 963M385 419L844 976M402 490L695 889M511 547L888 1018M276 251L857 1004M341 396L806 921M281 210L880 962M240 206L813 927M320 431L738 905M361 403L805 953M428 512L791 969M293 302L720 811" stroke="#acacac" stroke-width="2.6" stroke-opacity="0.85" fill="none"/>
<path d="M350 299L768 878M254 230L816 902M367 330L867 918M316 517L769 940M294 352L792 885M358 284L888 941M316 517L761 961M252 267L830 979M425 399L720 811M339 417L846 1033M333 441L822 1003M402 490L774 946M367 330L859 974M251 308L608 759M321 288L831 944M254 292L831 944M317 242L873 960M277 232L629 789M428 512L848 1018M385 419L859 974" stroke="#b0b0b0" stroke-width="2.6" stroke-opacity="0.85" fill="none"/>
<path d="M327 369L849 995M503 519L842 934M361 396L832 958M339 347L871 1013M374 349L817 912M413 439L890 1004M388 347L874 948M344 263L695 889M343 447L727 869M239 273L871 1013M336 290L897 976M367 330L882 1007M358 284L868 933M303 225L828 920M355 433L778 942M336 378L721 792M358 284L845 979M402 490L803 929M388 347L815 920M276 251L888 1018" stroke="#969696" stroke-width="2.6" stroke-opacity="0.85" fill="none"/>
<path d="M420 361L867 918M239 322L826 991M320 431L729 906M299 300L701 757M293 302L848 1018M260 208L835 914M425 399L880 962M378 385L793 910M320 431L763 926M262 280L859 974M316 517L608 759M254 230L855 1019M343 447L822 1003M333 441L844 976M378 455L839 1020M365 243L876 930M283 325L867 1020M374 349L797 885M361 396L848 1018M378 455L860 1025" stroke="#a4a4a4" stroke-width="2.6" stroke-opacity="0.85" fill="none"/>
<path d="M420 361L835 908M285 291L806 941M348 254L880 962M476 424L832 904M314 375L844 976M226 368L761 961M374 476L837 1004M272 300L871 1013M350 299L868 933M384 316L880 962M244 401L839 1020M378 385L877 1036M256 327L760 905M339 223L874 948M378 385L720 811M303 225L891 1021M365 243L660 712M384 316L861 919M355 433L822 1003M365 243L904 963" stroke="#acacac" stroke-width="2.6" stroke-opacity="0.85" fill="none"/>
<path d="M183 322L791 981M430 391L828 920M378 299L825 892M385 419L768 889M239 207L822 930M311 434L748 908M365 243L874 932M430 391L832 958M430 391L911 997M317 242L842 934M348 254L880 994M251 230L882 1007M311 434L788 984M320 431L748 908M336 378L797 885M316 517L796 999M428 512L857 1004M503 519L825 892M355 433L720 746M473 584L695 889" stroke="#b0b0b0" stroke-width="2.6" stroke-opacity="0.85" fill="none"/>
<path d="M180 284L749 845M425 399L701 757M361 396L888 1018M325 268L625 830M281 210L898 998M285 291L859 1001M339 417L769 931M511 547L871 1013M358 284L891 1021M293 379L761 961M336 378L845 979M425 399L619 624M367 330L810 901M344 263L874 932M336 378L833 946M276 251L822 930M391 442L794 935M355 433L833 1000M374 349L832 904M388 347L859 974" stroke="#a4a4a4" stroke-width="2.6" stroke-opacity="0.85" fill="none"/>
<path d="M367 330L835 908M289 388L761 961M378 385L898 998M274 199L880 994M334 289L832 958M320 431L769 877M252 267L763 926M220 383L766 979M378 455L804 941M385 419L885 970M240 206L844 976M361 396L849 995M458 337L727 869M251 230L803 929M345 445L867 1020M293 379L743 893M185 328L771 943M388 347L797 885M303 338L827 899M413 439L832 958" stroke="#9c9c9c" stroke-width="2.6" stroke-opacity="0.85" fill="none"/>
<path d="M345 445L773 894M254 230L832 958M244 401L796 999M276 251L825 909M329 317L891 998M428 512L837 1004M244 240L813 927M473 584L804 941M476 424L910 988M319 246L861 919M339 417L805 953M511 547L793 910M283 325L794 935M299 300L832 904M413 439L720 746M281 210L817 912M260 208L844 976M336 290L911 997M251 230L625 830M275 405L738 905" stroke="#acacac" stroke-width="2.6" stroke-opacity="0.85" fill="none"/>
<path d="M384 316L898 998M320 431L761 961M310 450L800 980M327 369L803 929M341 396L786 920M232 234L848 1020M374 349L810 896M327 369L817 980M234 428L774 980M350 299L799 878M281 223L859 974M299 300L802 910M345 445L791 981M339 223L867 918M299 321L859 1001M336 290L876 968M285 274L749 845M239 273L845 1003M226 368L746 958M361 403L792 911" stroke="#9c9c9c" stroke-width="2.6" stroke-opacity="0.85" fill="none"/>
<path d="M303 225L874 948M476 424L854 908M425 399L835 914M299 321L764 878M297 244L805 916M356 357L875 1005M254 230L830 979M374 349L891 998M319 246L910 988M420 361L874 932M402 490L815 920M311 434L797 964M361 396L813 927M297 244L879 975M430 391L866 961M511 547L827 899M348 254L879 975M294 352L769 931M356 357L890 1004M356 357L848 951" stroke="#a9a9a9" stroke-width="2.6" stroke-opacity="0.85" fill="none"/>
<path d="M333 441L820 1002M289 388L744 933M374 476L795 930M420 361L832 951M256 327L803 990M345 445L769 940M384 316L912 988M294 517L746 958M234 428L774 980M348 254L630 740M285 274L842 934M378 455L848 1020M327 369L806 921M334 302L799 878M218 241L868 996M303 338L830 979M391 442L768 878M350 299L676 730M253 304L749 845M388 347L799 878" stroke="#b2b2b2" stroke-width="2.6" stroke-opacity="0.85" fill="none"/>
<path d="M339 223L821 893M336 378L832 951M343 447L749 901M345 445L721 792M299 321L880 994M299 321L803 929M321 288L871 1013M311 434L817 980M511 547L880 962M251 260L802 926M299 300L612 701M339 223L868 933M328 316L841 924M358 284L874 932M378 455L849 995M339 347L721 792M350 299L891 998M428 512L832 951M348 254L885 970M503 519L830 904" stroke="#a4a4a4" stroke-width="2.6" stroke-opacity="0.85" fill="none"/>
<path d="M384 316L825 892M334 302L898 1009M325 268L867 918M503 519L749 845M384 316L810 901M336 378L877 1036M334 302L889 984M378 385L880 962M188 242L778 942M236 300L774 946M391 442L844 976M503 519L842 934M261 313L767 896M476 424L885 970M430 391L835 914M254 259L880 1007M413 439L768 889M289 388L803 929M336 290L749 845M392 427L799 878" stroke="#b2b2b2" stroke-width="2.6" stroke-opacity="0.85" fill="none"/>
<path d="M339 417L859 1001M511 547L827 899M367 330L825 909M384 316L848 951M511 547L817 912M253 304L727 869M339 351L845 1003M333 441L856 1028M336 290L803 929M329 317L831 944M374 476L855 1019M374 349L783 878M361 396L806 921M413 439L880 1007M388 347L676 730M251 260L810 901M329 317L859 974M320 431L782 935M339 347L701 757M392 427L806 921" stroke="#a8a8a8" stroke-width="2.6" stroke-opacity="0.85" fill="none"/>
<path d="M378 299L876 930M285 291L796 936M260 208L629 789M348 254L861 919M361 403L871 1013M236 300L794 935M378 455L766 900M317 242L867 918M413 439L828 920M388 347L860 922M345 445L771 943M392 427L796 936M281 223L910 988M320 431L820 1002M251 260L792 911M341 396L804 941M430 391L783 878M473 584L768 889M339 347L848 987M339 347L817 912" stroke="#b0b0b0" stroke-width="2.6" stroke-opacity="0.85" fill="none"/>
<path d="M378 299L666 788M374 476L727 869M384 316L832 904M361 403L862 1032M276 251L848 987M334 302L676 730M476 424L874 932M511 547L810 896M416 285L630 740M473 584L659 830M299 321L845 1003M225 209L867 1020M281 210L799 878M303 225L874 948M361 396L773 894M388 347L810 896M320 238L848 951M328 316L805 916M253 304L805 979M239 322L803 990" stroke="#a8a8a8" stroke-width="2.6" stroke-opacity="0.85" fill="none"/>
<path d="M303 338L831 944M285 291L806 941M319 246L810 896M473 584L768 889M327 369L795 930M416 285L898 1009M251 260L630 740M348 254L860 922M339 417L720 746M378 299L808 882M511 547L848 951M416 285L667 808M378 299L806 878M353 282L876 930M316 517L676 730M276 251L802 910M266 323L833 946M473 584L666 788M402 490L768 878M385 419L877 1036" stroke="#b2b2b2" stroke-width="2.6" stroke-opacity="0.85" fill="none"/>
<path d="M222 204L773 894M402 490L875 1005M254 259L832 951M339 223L826 905M355 433L767 896M430 391L898 998M319 246L910 988M361 403L888 1018M310 450L755 939M367 330L842 934M365 243L867 918M314 375L793 910M320 431L659 830M256 327L848 1018M202 341L766 979M260 208L769 877M276 251L859 974M476 424L659 830M391 442L862 1032M299 321L844 976" stroke="#b0b0b0" stroke-width="2.6" stroke-opacity="0.85" fill="none"/>
<path d="M384 316L842 934M333 441L769 940M294 517L766 979M303 225L898 1009M358 284L897 976M355 433L862 1032M391 442L857 1004M385 419L898 1009M334 302L828 920M285 274L721 792M262 280L842 934M425 399L898 998M356 357L868 933M378 385L871 1013M391 442L835 914M299 321L667 808M511 547L866 961M384 316L813 927M319 246L835 914M374 349L831 944" stroke="#a8a8a8" stroke-width="2.6" stroke-opacity="0.85" fill="none"/>
<path d="M339 351L810 901M209 268L630 740M378 385L660 712M356 357L876 968M333 441L855 1019M202 341L764 967M374 476L805 979M391 442L862 1033M388 347L876 968M361 396L786 920M289 450L601 567M341 396L813 927M256 319L791 949M244 240L845 1003M276 251L835 914M344 263L860 922M428 512L797 885M391 442L804 941M274 199L873 960M391 442L727 869" stroke="#a8a8a8" stroke-width="2.6" stroke-opacity="0.85" fill="none"/>
<path d="M378 455L868 996M361 396L833 1000M348 254L859 974M392 427L815 920M374 349L815 920M389 236L721 792M281 210L830 904M385 419L727 869M374 349L810 896M262 280L833 1000M303 225L827 899M254 230L797 885M297 244L727 869M374 476L855 1019M381 372L859 974M365 243L667 808M413 439L832 951M391 442L831 944M355 433L805 953M260 208L889 984" stroke="#a8a8a8" stroke-width="2.6" stroke-opacity="0.85" fill="none"/>
<path d="M283 306L660 712M430 391L826 905M312 352L798 897M388 347L882 1007M328 316L833 946M413 439L880 994M381 372L661 746M365 243L882 982M262 280L891 1021M361 396L862 1033M321 288L816 902M325 268L783 878M334 302L882 982M341 396L612 701M291 481L791 981M297 242L792 885M350 299L873 960M336 378L806 941M378 385L871 1013M476 424L860 922" stroke="#a9a9a9" stroke-width="2.6" stroke-opacity="0.85" fill="none"/>
<path d="M256 327L782 935M367 330L826 905M391 442L721 792M333 441L749 901M378 299L835 908M358 284L897 976M320 324L804 941M374 349L890 1004M378 455L797 944M361 396L795 930M385 419L608 759M378 455L797 944M365 243L889 984M281 210L880 962M428 512L755 939M339 347L799 878M374 349L885 970M234 428L761 961M220 337L729 906M378 455L768 889" stroke="#9c9c9c" stroke-width="2.6" stroke-opacity="0.85" fill="none"/>
<path d="M311 434L610 664M258 347L760 920M413 439L888 1018M355 433L612 701M425 399L882 1007M361 396L806 921M378 385L862 1032M378 455L857 1004M345 445L796 999M251 308L806 941M402 490L792 911M343 447L720 811M287 212L821 893M362 378L849 995M365 243L825 892M378 385L825 909M289 388L846 1033M316 517L783 1011M334 302L895 1008M333 441L788 984" stroke="#a9a9a9" stroke-width="2.6" stroke-opacity="0.85" fill="none"/>
<path d="M339 223L897 976M253 304L763 896M378 455L832 951M339 417L774 946M310 450L766 979M362 378L790 924M381 372L880 994M281 383L761 961M361 403L608 759M343 447L796 936M345 445L748 908M277 273L796 936M361 403L844 976M325 268L866 961M385 419L802 910M334 302L873 960M420 361L835 908M287 212L813 927M392 427L833 946M476 424L889 984" stroke="#969696" stroke-width="2.6" stroke-opacity="0.85" fill="none"/>
<path d="M425 399L888 1018M275 405L771 943M333 441L743 893M492 397L701 757M392 427L798 897M293 302L769 940M473 584L768 878M345 445L748 908M476 424L832 904M339 351L793 910M334 289L833 946M336 378L767 896M402 490L804 941M428 512L757 899M492 397L861 919M325 268L810 901M252 267L805 916M320 324L833 946M476 424L897 976M334 302L877 1036" stroke="#a4a4a4" stroke-width="2.6" stroke-opacity="0.85" fill="none"/>
<path d="M334 302L842 934M473 584L612 701M253 304L667 808M421 250L660 712M193 286L839 1020M253 304L748 908M378 385L806 921M281 223L882 1007M336 378L790 924M358 284L891 998M385 419L895 1008M356 357L721 792M260 208L821 893M344 263L867 918M358 284L808 882M402 490L805 953M384 316L608 759M384 316L868 933M261 313L625 830M402 490L755 939" stroke="#acacac" stroke-width="2.6" stroke-opacity="0.85" fill="none"/>
<path d="M362 378L798 897M428 512L860 1025M299 300L783 878M388 347L891 1021M384 316L861 919M339 347L757 899M244 377L761 961M314 375L820 963M361 403L815 920M511 547L891 1021M378 385L769 877M249 367L738 905M391 442L859 1001M374 349L813 927M277 232L797 885M277 232L888 1018M327 369L877 1036M428 512L661 746M303 338L802 926M345 445L760 920" stroke="#b2b2b2" stroke-width="2.6" stroke-opacity="0.85" fill="none"/>
<path d="M283 325L849 995M285 291L868 996M430 391L608 759M299 321L805 916M303 225L816 902M361 396L764 878M310 450L846 1033M402 490L768 889M274 199L842 934M334 302L880 994M291 481L764 967M420 361L860 922M388 347L727 869M425 399L859 974M428 512L695 889M413 439L832 958M339 351L768 878M232 234L764 878M316 517L761 961M316 517L661 746" stroke="#b0b0b0" stroke-width="2.6" stroke-opacity="0.85" fill="none"/>
<path d="M339 223L619 624M343 447L774 946M425 399L810 901M343 447L839 1020M339 417L860 1025M391 442L832 958M345 445L769 931M374 476L791 969M281 223L833 946M425 399L882 1007M425 399L880 994M503 519L797 885M378 385L822 930M293 379L817 980M416 285L666 788M277 232L825 892M336 378L880 994M358 284L871 1013M378 385L768 878M356 357L879 975" stroke="#a4a4a4" stroke-width="2.6" stroke-opacity="0.85" fill="none"/>
<path d="M261 313L848 987M361 403L768 878M303 225L858 949M392 427L791 949M285 291L768 889M476 424L876 930M320 431L791 969M350 299L874 932M392 427L802 910M350 299L612 701M317 242L889 984M334 302L904 963M374 476L763 896M328 316L803 929M336 378L767 896M339 223L876 930M388 347L612 701M281 223L880 962M341 396L803 929M378 455L844 976" stroke="#a9a9a9" stroke-width="2.6" stroke-opacity="0.85" fill="none"/>
<path d="M430 391L874 948M316 517L766 979M361 403L783 878M216 352L761 961M320 238L898 998M385 419L667 808M362 378L820 963M413 439L612 701M385 419L871 1013M385 419L803 929M336 378L773 894M275 405L782 935M378 385L858 949M381 372L830 904M339 417L767 896M374 476L849 995M473 584L837 1004M260 208L842 934M287 212L861 919M334 302L849 995" stroke="#969696" stroke-width="2.6" stroke-opacity="0.85" fill="none"/>
<path d="M297 242L720 746M328 316L866 961M503 519L625 830M274 199L799 878M362 378L786 920M310 450L774 946M378 455L797 944M336 290L910 988M358 284L835 908M257 238L816 902M378 455L805 979M285 291L769 877M492 397L910 988M333 441L846 1033M328 316L848 951M374 476L769 940M320 324L859 974M428 512L817 912M378 299L874 948M476 424L876 930" stroke="#a4a4a4" stroke-width="2.6" stroke-opacity="0.85" fill="none"/>
<path d="M339 347L882 1007M193 286L755 939M473 584L891 1021M299 300L888 1018M277 273L845 979M350 299L854 908M428 512L804 941M334 302L895 1008M334 302L825 892M339 223L612 701M473 584L820 963M428 512L845 979M339 223L908 970M343 447L791 981M388 347L898 998M275 405L788 984M511 547L874 948M202 317L763 926M362 378L792 885M320 431L764 967" stroke="#969696" stroke-width="2.6" stroke-opacity="0.85" fill="none"/>
<path d="M341 396L796 936M473 584L804 941M251 308L720 811M402 490L805 979M299 321L813 927M251 308L791 949M339 417L817 980M287 212L816 902M374 349L848 951M381 372L832 904M503 519L895 1005M253 304L833 1000M420 361L619 624M325 268L875 1005M244 401L796 999M381 372L832 958M303 338L882 1007M511 547L630 740M473 584L676 730M361 403L791 949" stroke="#a4a4a4" stroke-width="2.6" stroke-opacity="0.85" fill="none"/>
<path d="M275 405L761 961M316 517L774 980M333 441L630 740M402 490L859 1026M299 321L720 746M348 254L897 976M281 383L791 981M365 243L891 1021M339 347L813 927M336 378L805 979M333 441L817 980M343 447L799 962M355 433L813 927M381 372L890 1004M365 243L866 961M378 455L612 701M257 238L880 994M320 431L791 969M339 417L837 1004M281 210L830 904" stroke="#b0b0b0" stroke-width="2.6" stroke-opacity="0.85" fill="none"/>
<path d="M402 490L701 757M339 347L844 976M378 385L806 878M193 286L796 999M348 254L660 712M402 490L871 1013M293 302L630 740M413 439L880 994M358 284L904 963M320 431L857 1004M252 267L844 976M276 251L666 788M358 284L880 962M430 391L890 1004M334 289L862 1032M374 476L826 991M339 347L844 976M299 321L760 905M339 223L630 740M348 254L721 792" stroke="#a4a4a4" stroke-width="2.6" stroke-opacity="0.85" fill="none"/>
<path d="M343 447L790 924M367 330L868 933M476 424L830 904M341 396L793 910M327 369L831 944M334 289L854 908M277 232L835 908M413 439L769 877M473 584L877 1036M339 347L888 1018M413 439L798 897M348 254L874 948M374 476L862 1033M260 208L610 664M260 208L908 970M277 273L619 624M281 210L910 988M314 375L727 869M378 299L908 970M289 388L782 935" stroke="#9c9c9c" stroke-width="2.6" stroke-opacity="0.85" fill="none"/>
<path d="M327 369L867 1020M356 357L764 878M476 424L861 919M503 519L867 1020M367 330L792 885M361 396L848 951M316 517L774 980M254 259L877 1036M336 290L887 994M310 450L805 979M476 424L874 948M425 399L868 933M244 240L857 1004M310 450L660 712M260 371L833 1000M345 445L877 1036M254 259L877 1036M343 447L749 901M358 284L885 970M385 419L701 757" stroke="#b2b2b2" stroke-width="2.6" stroke-opacity="0.85" fill="none"/>
<path d="M378 385L857 1004M334 302L861 919M333 441L845 979M503 519L911 997M244 377L812 1013M251 260L806 921M327 369L833 946M511 547L882 1007M329 317L810 896M492 397L841 924M262 280L805 916M256 319L812 1013M320 238L866 961M361 396L619 624M341 396L661 746M402 490L782 935M213 286L630 740M321 288L825 909M343 447L820 963M428 512L817 912" stroke="#b0b0b0" stroke-width="2.6" stroke-opacity="0.85" fill="none"/>
<path d="M503 519L816 902M374 476L803 990M251 230L891 1021M374 349L810 896M251 230L859 974M297 256L727 869M420 361L720 746M320 238L867 918M252 267L891 1021M503 519L828 920M261 313L845 979M339 223L885 970M402 490L848 987M355 433L760 905M334 302L890 1004M191 242L766 900M336 378L848 1018M339 417L806 941M240 344L788 984M320 238L721 792" stroke="#b2b2b2" stroke-width="2.6" stroke-opacity="0.85" fill="none"/>
<path d="M333 441L856 1028M261 313L831 944M289 388L760 905M511 547L895 1005M239 322L738 905M320 431L774 946M345 445L782 935M253 304L805 916M343 447L862 1033M339 417L805 979M345 445L782 935M374 349L825 909M344 263L880 962M246 452L746 958M341 396L760 905M350 299L830 904M388 347L816 902M294 517L667 808M402 490L769 940M358 284L629 789" stroke="#a4a4a4" stroke-width="2.6" stroke-opacity="0.85" fill="none"/>
<path d="M275 405L774 946M320 238L861 919M402 490L839 1020M222 204L786 920M420 361L876 930M251 308L773 894M311 434L766 979M333 441L846 1033M262 280L810 896M336 378L848 1018M492 397L885 970M511 547L831 944M220 337L846 1033M256 319L629 789M476 424L867 918M287 212L825 892M234 428L774 980M355 433L816 902M246 452L764 967M413 439L831 944" stroke="#9c9c9c" stroke-width="2.6" stroke-opacity="0.85" fill="none"/>
<path d="M378 455L743 893M358 284L882 1007M511 547L817 912M316 517L774 980M378 299L874 932M425 399L835 914M353 282L835 914M358 284L904 963M345 445L763 926M287 212L661 746M294 352L805 916M281 210L817 912M320 238L832 904M350 299L887 994M374 476L791 949M275 405L796 999M251 260L667 808M260 371L761 961M348 254L876 930M391 442L608 759" stroke="#a8a8a8" stroke-width="2.6" stroke-opacity="0.85" fill="none"/>
<path d="M202 341L791 949M321 288L882 1007M180 284L791 981M365 243L868 933M339 417L749 901M367 330L873 960M287 427L769 940M365 243L876 930M339 417L877 1036M256 327L764 878M281 210L797 885M473 584L830 979M428 512L808 882M428 512L676 730M254 292L803 929M476 424L854 908M378 299L808 882M476 424L874 948M327 369L820 963M385 419L766 900" stroke="#969696" stroke-width="2.6" stroke-opacity="0.85" fill="none"/>
<path d="M381 372L659 830M356 357L798 897M336 378L806 941M334 302L768 889M336 378L608 759M341 396L820 1002M319 246L783 878M428 512L767 896M345 445L768 889M281 210L911 997M511 547L882 982M362 378L815 920M384 316L873 960M511 547L816 902M311 434L797 964M362 378L857 1004M492 397L666 788M328 316L695 889M385 419L793 910M378 299L874 948" stroke="#9c9c9c" stroke-width="2.6" stroke-opacity="0.85" fill="none"/>
<path d="M345 445L763 926M334 302L879 975M378 455L764 878M384 316L601 567M381 372L768 878M362 378L797 885M430 391L880 994M207 243L812 1013M503 519L890 1004M355 433L773 894M341 396L805 916M339 347L619 624M336 290L854 908M333 441L800 980M428 512L782 935M365 243L861 919M374 349L601 567M511 547L619 624M492 397L861 919M297 256L887 994" stroke="#a8a8a8" stroke-width="2.6" stroke-opacity="0.85" fill="none"/>
<path d="M420 361L880 994M385 419L826 905M254 259L760 905M221 226L763 896M320 431L721 792M297 244L911 997M420 361L888 941M328 316L858 949M391 442L875 1005M281 371L812 1013M316 517L729 906M355 433L738 905M388 347L827 899M285 274L806 921M343 447L833 1000M365 243L612 701M420 361L911 997M239 207L832 951M511 547L885 970M416 285L832 904" stroke="#b0b0b0" stroke-width="2.6" stroke-opacity="0.85" fill="none"/>
<path d="M362 378L832 958M355 433L848 1020M294 517L625 830M260 396L761 961M328 316L822 930M430 391L889 984M378 385L898 998M294 517L774 980M345 445L794 935M339 223L904 963M251 308L659 830M276 251L768 878M378 299L885 970M283 325L763 896M297 242L828 920M365 243L860 922M402 490L676 730M374 349L889 984M234 428L774 980M503 519L727 869" stroke="#b2b2b2" stroke-width="2.6" stroke-opacity="0.85" fill="none"/>
<path d="M341 396L855 1019M334 302L832 904M391 442L768 889M392 427L832 951M327 369L796 936M319 246L882 982M327 369L768 889M356 357L832 951M350 299L888 1018M320 431L743 893M341 396L832 951M511 547L695 889M367 330L908 970M385 419L844 976M428 512L792 911M336 290L910 988M402 490L822 1003M339 417L701 757M385 419L820 963M353 282L888 941" stroke="#a8a8a8" stroke-width="2.6" stroke-opacity="0.85" fill="none"/>
<path d="M297 242L868 933M385 419L806 921M339 417L757 899M339 417L848 1020M311 434L796 999M256 327L797 944M385 419L877 1036M320 431L791 949M262 280L629 789M320 238L842 934M316 517L782 935M281 371L748 908M334 302L803 929M425 399L835 914M473 584L661 746M425 399L817 912M362 378L793 910M430 391L874 948M345 445L846 1033M287 427L766 979" stroke="#b2b2b2" stroke-width="2.6" stroke-opacity="0.85" fill="none"/>
<path d="M350 299L874 932M334 289L880 994M202 341L761 961M391 442L792 911M316 517L667 808M339 417L799 962M258 347L748 908M327 369L805 953M283 306L849 995M358 284L897 976M320 238L908 970M402 490L806 941M184 308L788 984M378 455L845 1003M254 230L898 998M348 254L810 896M430 391L835 914M420 361L891 998M339 347L802 910M257 238L875 1005" stroke="#a8a8a8" stroke-width="2.6" stroke-opacity="0.85" fill="none"/>
<path d="M388 347L797 885M476 424L835 908M343 447L846 1033M416 285L660 712M334 302L661 746M281 383L743 893M365 243L835 908M476 424L885 970M310 450L846 1033M413 439L858 949M350 299L797 885M185 328L812 1013M339 347L895 1008M328 316L721 792M316 517L774 980M261 313L773 894M226 368L796 999M378 455L805 953M356 357L828 920M281 223L764 878" stroke="#9c9c9c" stroke-width="2.6" stroke-opacity="0.85" fill="none"/>
<path d="M343 447L748 908M341 396L859 1026M361 403L768 889M361 403L876 968M374 349L629 789M336 290L841 924M256 319L817 980M362 378L848 1018M374 349L831 944M392 427L773 894M291 481L791 981M367 330L898 1009M362 378L805 953M256 327L848 1018M361 403L875 1005M254 230L816 902M413 439L875 1005M356 357L810 896M391 442L875 1005M511 547L810 896" stroke="#b0b0b0" stroke-width="2.6" stroke-opacity="0.85" fill="none"/>
<path d="M388 347L808 882M428 512L871 1013M254 259L832 951M339 417L796 936M336 378L792 911M297 256L841 924M361 403L848 951M420 361L876 930M356 357L797 885M252 267L808 882M336 290L890 1004M476 424L880 994M384 316L911 997M503 519L854 908M276 251L882 1007M378 385L630 740M297 244L859 974M355 433L880 1007M339 223L827 899M421 250L612 701" stroke="#a8a8a8" stroke-width="2.6" stroke-opacity="0.85" fill="none"/>
<path d="M353 282L879 975M391 442L666 788M297 242L832 904M244 240L830 979M339 223L876 930M244 377L761 961M262 280L831 944M297 256L875 1005M348 254L868 933M334 302L873 960M202 267L820 1002M355 433L839 1020M391 442L875 1005M355 433L793 910M312 352L849 995M428 512L721 792M420 361L661 746M244 240L805 979M350 299L659 830M213 286L757 899" stroke="#acacac" stroke-width="2.6" stroke-opacity="0.85" fill="none"/>
<path d="M367 330L891 1021M184 308L612 701M336 378L783 878M402 490L766 900M345 445L796 999M358 284L816 902M362 378L882 1007M184 308L846 1033M378 299L858 949M374 476L630 740M378 299L874 932M254 230L848 951M476 424L860 922M381 372L810 901M361 403L877 1036M392 427L832 958M388 347L897 976M367 330L749 845M492 397L667 808M336 378L804 941" stroke="#969696" stroke-width="2.6" stroke-opacity="0.85" fill="none"/>
<path d="M348 254L888 941M362 378L844 976M334 289L833 946M392 427L667 808M345 445L743 893M345 445L769 940M311 434L837 1004M218 241L837 1004M239 273L782 935M252 267L877 1036M374 476L868 996M281 383L755 939M274 199L891 1021M374 476L803 929M374 349L859 1001M348 254L880 962M413 439L816 902M254 259L820 963M336 290L832 904M374 476L701 757" stroke="#a4a4a4" stroke-width="2.6" stroke-opacity="0.85" fill="none"/>
<path d="M343 447L845 1003M316 517L796 999M348 254L867 918M240 206L859 1001M339 347L813 927M348 254L882 982M356 357L826 905M391 442L695 889M362 378L769 877M378 299L721 792M356 357L822 930M381 372L695 889M294 352L727 869M473 584L802 926M213 286L749 901M365 243L880 962M413 439L890 1004M402 490L738 905M361 396L859 1001M339 347L805 953" stroke="#9c9c9c" stroke-width="2.6" stroke-opacity="0.85" fill="none"/>
<path d="M260 208L859 1001M378 385L822 930M378 455L800 980M389 236L610 664M339 417L793 910M299 300L848 951M362 378L831 944M251 308L848 1020M378 299L867 918M328 316L830 979M344 263L898 998M473 584L820 1002M327 369L862 1032M256 319L763 926M253 304L791 949M384 316L874 948M297 256L799 878M336 378L832 958M321 288L773 894M213 286L769 940" stroke="#969696" stroke-width="2.6" stroke-opacity="0.85" fill="none"/>
<path d="M274 199L625 830M345 445L862 1033M341 396L867 1020M428 512L803 929M251 308L748 908M274 199L880 962M384 316L854 908M350 299L885 970M356 357L768 878M358 284L868 933M327 369L790 924M374 349L868 996M353 282L826 905M413 439L859 974M341 396L830 979M299 300L875 1005M367 330L848 951M266 323L796 936M348 254L911 997M272 300L763 896" stroke="#b0b0b0" stroke-width="2.6" stroke-opacity="0.85" fill="none"/>
<path d="M327 369L859 1026M350 299L876 968M384 316L867 918M381 372L889 984M220 383L729 906M283 325L845 979M327 369L790 924M361 396L879 975M402 490L877 1036M350 299L898 1009M374 349L887 994M185 328L755 939M348 254L891 998M416 285L608 759M274 199L842 934M287 427L676 730M320 324L773 894M339 347L845 979M327 369L833 946M339 223L876 930" stroke="#acacac" stroke-width="2.6" stroke-opacity="0.85" fill="none"/>
<path d="M339 351L832 904M374 349L898 1009M251 230L802 926M297 242L880 962M320 238L848 951M272 300L868 996M289 388L862 1033M362 378L825 892M334 302L844 976M314 375L760 905M285 274L848 951M367 330L910 988M341 396L802 926M343 447L766 900M381 372L895 1008M327 369L792 885M361 403L782 935M378 385L880 994M476 424L835 908M384 316L904 963" stroke="#a4a4a4" stroke-width="2.6" stroke-opacity="0.85" fill="none"/>
<path d="M316 517L764 967M430 391L817 912M425 399L830 904M425 399L895 1008M256 327L786 920M334 302L612 701M339 417L796 936M430 391L875 1005M503 519L882 982M254 259L833 946M257 238L813 927M385 419L877 1036M345 445L848 1020M350 299L827 899M413 439L792 911M348 254L897 976M385 419L833 946M374 349L868 996M297 242L880 994M392 427L773 894" stroke="#a9a9a9" stroke-width="2.6" stroke-opacity="0.85" fill="none"/>
<path d="M320 431L727 869M348 254L867 918M320 431L771 943M294 352L721 792M283 306L769 877M413 439L795 930M275 405L721 792M209 268L788 984M299 321L871 1013M249 367L796 999M388 347L874 948M299 300L859 1001M244 401L788 984M511 547L871 1013M311 434L727 869M353 282L841 924M289 450L744 933M350 299L842 934M334 289L880 962M345 445L805 953" stroke="#9c9c9c" stroke-width="2.6" stroke-opacity="0.85" fill="none"/>
<path d="M256 327L760 905M425 399L799 878M374 476L748 908M356 357L868 996M257 238L630 740M385 419L786 920M314 375L743 893M341 396L804 941M388 347L831 944M402 490L764 878M503 519L873 960M374 476L845 1003M378 299L666 788M358 284L835 914M355 433L612 701M252 267L813 927M361 396L797 885M473 584L763 896M361 403L849 995M356 357L845 1003" stroke="#acacac" stroke-width="2.6" stroke-opacity="0.85" fill="none"/>
<path d="M361 396L845 979M378 299L874 932M413 439L882 1007M388 347L873 960M316 517L761 961M281 210L817 912M355 433L805 916M339 351L802 926M251 260L845 979M317 242L841 924M476 424L841 924M358 284L874 948M350 299L895 1008M388 347L873 960M391 442L660 712M391 442L848 987M381 372L769 877M361 403L867 1020M339 223L860 922M281 223L868 996" stroke="#b2b2b2" stroke-width="2.6" stroke-opacity="0.85" fill="none"/>
<path d="M254 259L772 941M329 317L882 1007M362 378L810 896M244 377L749 901M430 391L885 970M260 396L769 940M225 209L792 911M260 208L831 944M362 378L875 1005M402 490L796 936M392 427L871 1013M216 352L720 746M473 584L845 1003M202 341L748 908M285 274L859 952M343 447L832 958M358 284L873 960M473 584L764 878M385 419L832 958M339 347L797 885" stroke="#b2b2b2" stroke-width="2.6" stroke-opacity="0.85" fill="none"/>
<path d="M281 210L797 885M358 284L898 1009M420 361L825 892M511 547L828 920M361 403L875 1005M262 280L792 885M314 375L773 894M289 388L659 830M256 319L729 906M289 450L729 906M430 391L832 904M285 291L830 979M251 308L748 908M381 372L799 878M361 403L608 759M367 330L868 933M365 243L876 930M413 439L667 808M356 357L769 877M333 441L806 921" stroke="#b0b0b0" stroke-width="2.6" stroke-opacity="0.85" fill="none"/>
<path d="M185 328L848 1018M428 512L630 740M413 439L797 885M413 439L859 952M285 291L768 878M297 256L810 896M362 378L766 900M281 223L813 927M428 512L804 941M384 316L880 962M358 284L867 918M341 396L763 896M388 347L895 1008M385 419L769 877M476 424L885 970M285 291L810 901M341 396L832 951M289 450L729 906M356 357L833 946M361 396L676 730" stroke="#9c9c9c" stroke-width="2.6" stroke-opacity="0.85" fill="none"/>
<path d="M257 238L612 701M473 584L813 927M384 316L821 893M252 267L832 951M413 439L826 905M339 347L833 946M361 396L871 1013M336 378L799 962M361 403L833 946M341 396L720 811M240 344L729 906M341 396L868 996M378 299L868 933M277 273L802 910M339 347L831 944M341 396L791 949M425 399L810 896M365 243L601 567M333 441L837 1004M503 519L873 960" stroke="#acacac" stroke-width="2.6" stroke-opacity="0.85" fill="none"/>
<path d="M384 316L835 908M193 313L729 906M310 450L766 900M367 330L874 948M336 378L891 1021M473 584L764 878M297 242L871 1013M350 299L816 902M289 388L760 905M381 372L815 920M344 263L873 960M339 417L855 1019M254 259L802 926M251 308L832 958M385 419L868 996M378 385L805 916M374 476L757 899M339 223L808 882M339 417L839 1020M365 243L867 918" stroke="#a9a9a9" stroke-width="2.6" stroke-opacity="0.85" fill="none"/>
<path d="M384 316L720 746M343 447L796 999M254 230L813 927M388 347L799 878M297 244L816 902M262 280L749 901M473 584L855 1019M350 299L858 949M348 254L861 919M345 445L769 877M320 431L794 935M336 378L727 869M378 299L661 746M333 441L660 712M503 519L882 1007M378 385L799 878M385 419L875 1005M355 433L860 1025M339 417L768 889M328 316L666 788" stroke="#b0b0b0" stroke-width="2.6" stroke-opacity="0.85" fill="none"/>
<path d="M348 254L897 976M350 299L805 916M246 452L764 967M339 417L766 900M428 512L813 927M503 519L830 904M303 338L855 1019M262 280L832 951M503 519L890 1004M320 431L855 1019M381 372L802 910M361 396L848 987M391 442L659 830M336 378L839 1020M361 396L768 889M503 519L799 878M367 330L832 958M361 396L610 664M503 519L885 970M339 351L835 908" stroke="#b2b2b2" stroke-width="2.6" stroke-opacity="0.85" fill="none"/>
<path d="M378 455L766 900M391 442L803 929M428 512L797 944M348 254L911 997M186 260L676 730M428 512L748 908M339 347L630 740M254 292L848 1020M276 251L882 1007M350 299L608 759M361 396L877 1036M336 290L826 905M312 352L792 885M365 243L629 789M350 299L610 664M260 208L802 926M214 316L755 939M428 512L786 920M348 254L895 1005M285 274L845 979" stroke="#9c9c9c" stroke-width="2.6" stroke-opacity="0.85" fill="none"/>
<path d="M384 316L860 922M310 450L760 920M343 447L845 1003M339 347L880 994M334 302L833 946M336 290L895 1005M185 328L667 808M336 378L822 930M336 290L891 1021M361 403L660 712M420 361L897 976M384 316L854 908M378 455L832 958M333 441L805 953M327 369L862 1033M314 375L817 980M251 308L839 1020M287 212L835 908M311 434L743 893M327 369L773 894" stroke="#acacac" stroke-width="2.6" stroke-opacity="0.85" fill="none"/>
<path d="M339 417L757 899M367 330L841 924M374 349L831 944M378 455L768 878M320 431L720 811M283 306L666 788M384 316L797 885M274 199L660 712M310 450L661 746M374 476L760 920M391 442L797 885M361 396L859 974M184 308L749 901M287 212L911 997M378 455L667 808M297 242L783 878M384 316L808 882M310 450L761 961M345 445L832 951M281 210L844 976" stroke="#a4a4a4" stroke-width="2.6" stroke-opacity="0.85" fill="none"/>
<path d="M392 427L601 567M378 385L841 924M388 347L825 909M378 455L806 878M333 441L608 759M234 428L761 961M253 304L826 991M384 316L861 919M274 199L666 788M378 299L832 951M311 434L760 920M339 347L831 944M320 431L760 905M163 341L766 979M388 347L889 984M254 259L820 1002M420 361L898 1009M297 242L880 1007M314 375L833 946M320 431L797 964" stroke="#9c9c9c" stroke-width="2.6" stroke-opacity="0.85" fill="none"/>
<path d="M420 361L854 908M428 512L857 1004M355 433L812 1013M257 238L768 878M339 351L833 946M256 327L848 1018M374 476L749 901M266 323L743 893M251 260L880 1007M321 288L817 912M257 238L612 701M283 306L849 995M378 299L629 789M355 433L871 1013M257 238L660 712M325 268L783 878M320 431L625 830M378 385L803 929M374 476L660 712M262 280L769 877" stroke="#b0b0b0" stroke-width="2.6" stroke-opacity="0.85" fill="none"/>
<path d="M254 230L797 885M336 378L845 979M413 439L802 910M252 267L794 935M367 330L897 976M413 439L608 759M473 584L786 920M275 405L761 961M277 232L822 930M333 441L830 979M348 254L817 912M244 377L766 979M355 433L802 910M350 299L835 914M367 330L873 960M339 417L859 1026M339 223L867 918M339 351L794 935M391 442L796 936M291 481L783 1011" stroke="#969696" stroke-width="2.6" stroke-opacity="0.85" fill="none"/>
<path d="M385 419L831 944M276 251L867 1020M272 300L795 930M425 399L891 1021M299 321L839 1020M511 547L610 664M473 584L820 963M232 234L806 921M339 351L802 910M384 316L861 919M420 361L888 941M339 347L859 974M428 512L862 1033M345 445L667 808M361 396L867 1020M336 378L805 953M325 268L842 934M384 316L897 976M350 299L898 998M361 403L802 926" stroke="#a8a8a8" stroke-width="2.6" stroke-opacity="0.85" fill="none"/>
<path d="M374 349L890 1004M320 431L791 981M311 434L749 845M281 210L867 918M333 441L667 808M239 327L788 984M339 417L796 936M381 372L888 1018M244 240L795 930M374 349L825 909M473 584L799 962M511 547L802 910M374 476L760 905M283 325L796 936M374 349L882 982M378 299L876 930M350 299L835 914M334 302L911 997M511 547L866 961M299 321L764 878" stroke="#b0b0b0" stroke-width="2.6" stroke-opacity="0.85" fill="none"/>
<path d="M277 232L802 910M202 267L859 1001M378 385L832 958M365 243L806 878M385 419L849 995M287 212L854 908M339 223L860 922M361 396L888 1018M287 212L910 988M244 377L746 958M336 378L757 899M253 304L791 949M225 209L783 878M281 371L630 740M356 357L825 892M277 232L848 951M361 396L790 924M341 396L803 929M356 357L844 976M341 396L806 921" stroke="#acacac" stroke-width="2.6" stroke-opacity="0.85" fill="none"/>
<path d="M333 441L748 908M420 361L874 948M345 445L817 980M362 378L911 997M378 455L792 911M209 268L848 1020M355 433L848 1020M339 347L820 963M251 230L608 759M294 352L844 976M355 433L849 995M251 230L792 911M391 442L792 885M350 299L835 908M430 391L832 904M420 361L827 899M293 379L667 808M503 519L895 1008M327 369L804 941M218 241L790 924" stroke="#acacac" stroke-width="2.6" stroke-opacity="0.85" fill="none"/>
<path d="M253 304L763 926M283 306L786 920M339 417L812 1013M416 285L661 746M254 230L720 746M333 441L796 936M336 378L783 878M327 369L845 979M348 254L888 941M341 396L867 1020M378 385L830 904M421 250L660 712M274 199L859 974M294 352L839 1020M310 450L791 981M378 385L820 963M260 371L839 1020M425 399L619 624M381 372L891 1021M310 450L764 967" stroke="#a8a8a8" stroke-width="2.6" stroke-opacity="0.85" fill="none"/>
<path d="M345 445L771 943M256 319L790 924M384 316L835 908M252 267L820 963M378 455L813 927M341 396L601 567M293 302L845 979M261 313L849 995M420 361L898 998M252 267L629 789M348 254L859 952M348 254L866 961M299 300L813 927M392 427L848 987M252 267L813 927M183 322L764 967M348 254L910 988M293 302L849 995M511 547L828 920M343 447L748 908" stroke="#b0b0b0" stroke-width="2.6" stroke-opacity="0.85" fill="none"/>
<path d="M285 274L792 911M348 254L874 948M339 417L790 924M350 299L810 896M294 352L856 1028M428 512L695 889M256 327L826 991M297 244L888 1018M413 439L877 1036M311 434L744 933M358 284L667 808M392 427L831 944M378 455L845 1003M381 372L720 746M240 206L764 878M297 256L817 912M218 241L848 1020M254 292L797 964M339 223L873 960M328 316L769 877" stroke="#9c9c9c" stroke-width="2.6" stroke-opacity="0.85" fill="none"/>
<path d="M285 274L701 757M378 299L912 988M339 223L908 970M425 399L799 878M266 323L799 962M256 319L860 1025M425 399L827 899M339 347L695 889M281 223L813 927M358 284L792 885M251 308L857 1004M336 378L802 910M193 286L804 941M202 317L744 933M310 450L766 979M287 212L792 885M274 199L832 958M283 306L849 995M385 419L720 811M473 584L749 845" stroke="#a9a9a9" stroke-width="2.6" stroke-opacity="0.85" fill="none"/>
<path d="M381 372L817 912M384 316L832 904M314 375L803 990M344 263L612 701M343 447L661 746M381 372L825 909M362 378L868 996M328 316L797 885M378 299L897 976M339 417L862 1033M320 238L873 960M378 299L873 960M336 378L803 929M277 232L727 869M361 396L832 958M277 232L821 893M281 383L799 962M413 439L891 998M336 378L768 878M244 240L831 944" stroke="#b0b0b0" stroke-width="2.6" stroke-opacity="0.85" fill="none"/>
<path d="M350 299L885 970M473 584L820 963M303 338L848 1018M293 302L764 878M392 427L871 1013M430 391L880 994M356 357L805 916M492 397L630 740M283 306L855 1019M362 378L816 902M186 260L761 961M333 441L799 962M367 330L666 788M333 441L849 995M285 291L813 927M244 401L761 961M420 361L876 930M425 399L897 976M511 547L720 746M384 316L861 919" stroke="#a4a4a4" stroke-width="2.6" stroke-opacity="0.85" fill="none"/>
<path d="M355 433L768 889M232 234L815 920M317 242L835 914M361 396L830 979M336 290L882 982M492 397L721 792M378 455L848 987M186 260L788 984M227 261L778 942M361 403L806 921M281 371L769 940M430 391L841 924M343 447L830 979M416 285L868 933M362 378L832 951M358 284L858 949M294 517L766 979M503 519L805 916M339 417L839 1020M391 442L727 869" stroke="#9c9c9c" stroke-width="2.6" stroke-opacity="0.85" fill="none"/>
<path d="M336 378L882 1007M492 397L861 919M503 519L841 924M321 288L882 982M362 378L891 1021M251 230L888 1018M339 417L806 921M339 417L806 921M277 273L833 946M391 442L625 830M329 317L660 712M321 288L889 984M503 519L799 878M339 351L764 878M334 289L802 910M334 302L799 878M388 347L815 920M361 396L802 926M420 361L873 960M287 212L813 927" stroke="#969696" stroke-width="2.6" stroke-opacity="0.85" fill="none"/>
<path d="M511 547L882 1007M297 256L720 746M356 357L813 927M339 347L804 941M374 349L625 830M425 399L911 997M254 230L820 963M339 223L854 908M345 445L760 920M213 286L782 935M327 369L619 624M285 274L783 878M339 347L799 962M356 357L844 976M378 299L912 988M339 417L743 893M253 304L871 1013M333 441L619 624M334 302L625 830M336 378L768 889" stroke="#a4a4a4" stroke-width="2.6" stroke-opacity="0.85" fill="none"/>
<path d="M402 490L833 1000M374 349L874 948M402 490L796 936M367 330L889 984M297 256L816 902M327 369L875 1005M251 260L859 974M261 313L659 830M511 547L898 1009M391 442L803 929M391 442L856 1028M476 424L895 1008M254 292L817 980M281 223L830 904M283 306L855 1019M320 238L874 948M367 330L898 1009M257 238L786 920M428 512L832 958M420 361L727 869" stroke="#a4a4a4" stroke-width="2.6" stroke-opacity="0.85" fill="none"/>
<path d="M385 419L797 885M325 268L898 1009M353 282L874 948M356 357L764 878M361 403L882 1007M378 385L897 976M277 273L796 936M420 361L885 970M183 322L788 984M425 399L901 954M262 280L805 916M392 427L773 894M289 388L797 964M261 313L856 1028M503 519L895 1005M276 251L727 869M355 433L839 1020M283 325L839 1020M492 397L799 878M476 424L666 788" stroke="#a8a8a8" stroke-width="2.6" stroke-opacity="0.85" fill="none"/>
<path d="M336 378L810 896M183 322L755 939M336 378L833 1000M339 223L825 892M312 352L773 894M378 299L825 892M320 431L774 946M339 223L720 811M327 369L767 896M334 289L805 916M358 284L867 918M266 323L783 878M503 519L825 892M327 369L844 976M341 396L630 740M297 244L830 979M343 447L757 899M355 433L720 811M343 447L797 964M251 230L797 885" stroke="#a9a9a9" stroke-width="2.6" stroke-opacity="0.85" fill="none"/>
<path d="M281 383L791 969M276 251L727 869M378 385L822 930M283 325L805 916M299 300L768 878M277 232L898 1009M388 347L874 948M339 347L845 979M385 419L817 980M283 306L792 911M311 434L748 908M328 316L880 1007M281 210L891 1021M339 223L861 919M353 282L831 944M328 316L882 1007M348 254L889 984M428 512L790 924M310 450L771 943M339 417L837 1004" stroke="#a4a4a4" stroke-width="2.6" stroke-opacity="0.85" fill="none"/>
<path d="M381 372L837 1004M251 260L848 951M392 427L828 920M348 254L898 998M391 442L806 941M336 378L877 1036M283 306L813 927M378 385L832 958M391 442L804 941M388 347L821 893M473 584L832 951M367 330L808 882M355 433L767 896M220 337L805 979M297 242L859 974M416 285L720 746M378 299L910 988M260 396L791 969M320 431L755 939M333 441L848 1018" stroke="#a9a9a9" stroke-width="2.6" stroke-opacity="0.85" fill="none"/>
<path d="M385 419L831 944M327 369L701 757M218 241L790 924M345 445L820 963M312 352L891 1021M256 327L867 1020M334 289L798 897M327 369L610 664M333 441L612 701M339 417L676 730M476 424L806 878M260 371L796 999M503 519L891 998M473 584L768 889M293 379L826 991M374 476L799 962M334 302L835 908M378 455L763 896M361 396L783 878M392 427L802 926" stroke="#a4a4a4" stroke-width="2.6" stroke-opacity="0.85" fill="none"/>
<path d="M244 377L791 949M281 371L667 808M350 299L816 902M378 455L797 964M430 391L826 905M283 306L859 1001M339 347L803 990M254 230L831 944M320 431L755 939M402 490L805 953M367 330L889 984M327 369L701 757M341 396L612 701M413 439L858 949M355 433L845 1003M334 302L666 788M336 378L844 976M355 433L760 905M341 396L820 963M430 391L783 878" stroke="#9c9c9c" stroke-width="2.6" stroke-opacity="0.85" fill="none"/>
<path d="M193 313L721 792M339 347L882 982M252 267L855 1019M350 299L873 960M381 372L797 885M246 452L766 979M343 447L800 980M320 431L839 1020M402 490L813 927M413 439L830 904M344 263L885 970M374 349L835 914M281 210L841 924M293 302L832 958M425 399L898 998M303 225L835 914M511 547L832 958M378 299L848 951M299 321L831 944M336 378L803 929" stroke="#9c9c9c" stroke-width="2.6" stroke-opacity="0.85" fill="none"/>
<path d="M378 299L889 984M294 352L803 990M336 290L661 746M293 379L769 931M428 512L764 878M202 317L744 933M356 357L727 869M350 299L908 970M254 259L768 878M339 223L610 664M319 246L910 988M283 325L773 894M378 385L806 921M413 439L816 902M392 427L871 1013M392 427L844 976M343 447L774 946M402 490L806 941M425 399L880 994M362 378L885 970" stroke="#acacac" stroke-width="2.6" stroke-opacity="0.85" fill="none"/>
<path d="M353 282L910 988M339 223L876 930M355 433L749 901M511 547L831 944M266 323L848 1020M413 439L880 994M378 385L661 746M254 292L806 941M378 299L895 1005M285 274L608 759M503 519L848 951M297 244L831 944M348 254L868 933M378 455L867 1020M311 434L803 990M254 292L832 951M281 371L630 740M378 299L860 922M503 519L891 1021M339 351L891 1021" stroke="#a4a4a4" stroke-width="2.6" stroke-opacity="0.85" fill="none"/>
<path d="M430 391L854 908M428 512L848 1018M374 349L832 958M343 447L797 885M358 284L911 997M333 441L791 969M339 347L825 909M316 517L746 958M281 223L727 869M378 299L676 730M381 372L791 949M249 367L701 757M358 284L898 998M283 306L832 951M413 439L882 1007M319 246L792 911M320 238L810 896M367 330L874 948M239 273L786 920M261 313L769 877" stroke="#a9a9a9" stroke-width="2.6" stroke-opacity="0.85" fill="none"/>
<path d="M378 299L908 970M341 396L848 987M333 441L791 949M378 455L792 911M251 308L629 789M202 341L803 990M476 424L901 954M362 378L815 920M274 199L831 944M345 445L799 962M276 251L795 930M348 254L601 567M244 401L701 757M392 427L891 1021M503 519L882 982M402 490L844 976M416 285L625 830M361 396L805 916M343 447L788 984M281 223L874 948" stroke="#969696" stroke-width="2.6" stroke-opacity="0.85" fill="none"/>
<path d="M391 442L630 740M476 424L861 919M256 327L804 941M362 378L610 664M388 347L880 962M261 313L805 979M339 347L630 740M378 455L822 1003M420 361L911 997M283 325L805 953M378 455L817 980M244 377L601 567M316 517L774 980M388 347L868 933M378 385L859 1026M355 433L792 885M476 424L868 933M365 243L889 984M358 284L861 919M378 455L804 941" stroke="#acacac" stroke-width="2.6" stroke-opacity="0.85" fill="none"/>
<path d="M262 280L868 996M207 243L802 926M350 299L799 878M430 391L860 922M413 439L810 901M355 433L768 878M336 378L797 964M281 223L882 982M327 369L837 1004M345 445L785 959M310 450L822 1003M251 230L806 941M428 512L767 896M388 347L601 567M388 347L873 960M476 424L876 930M361 403L701 757M381 372L880 962M320 324L860 1025M473 584L857 1004" stroke="#b0b0b0" stroke-width="2.6" stroke-opacity="0.85" fill="none"/>
<path d="M277 232L842 934M257 238L797 944M374 349L873 960M266 323L826 991M276 251L766 900M343 447L862 1032M333 441L774 946M297 256L816 902M310 450L837 1004M365 243L897 976M385 419L832 951M476 424L612 701M430 391L887 994M413 439L859 1001M391 442L797 885M214 316L760 920M339 347L768 878M314 375L859 1001M356 357L880 994M384 316L889 984" stroke="#a9a9a9" stroke-width="2.6" stroke-opacity="0.85" fill="none"/>
<path d="M297 256L848 987M222 204L813 927M277 273L803 929M281 223L882 1007M348 254L887 994M339 223L897 976M374 349L860 922M317 242L844 976M391 442L804 941M275 405L796 999M327 369L798 897M186 260L755 939M310 450L812 1013M256 319L792 885M358 284L841 924M356 357L825 892M367 330L880 962M244 240L802 926M458 337L612 701M251 230L830 904" stroke="#acacac" stroke-width="2.6" stroke-opacity="0.85" fill="none"/>
<path d="M334 302L799 878M384 316L825 909M262 280L877 1036M336 378L810 896M254 292L833 1000M402 490L783 878M334 289L895 1005M385 419L805 916M367 330L887 994M258 347L805 916M299 300L749 845M350 299L601 567M384 316L749 845M277 232L830 979M385 419L839 1020M362 378L888 1018M276 251L880 994M362 378L810 901M254 230L845 1003M320 324L835 908" stroke="#b2b2b2" stroke-width="2.6" stroke-opacity="0.85" fill="none"/>
<path d="M473 584L625 830M341 396L794 935M430 391L874 948M362 378L764 878M362 378L880 994M333 441L800 980M339 417L782 935M333 441L848 1018M316 517L766 979M336 378L625 830M392 427L798 897M361 396L822 930M244 401L764 967M503 519L832 904M334 302L858 949M384 316L831 944M402 490L830 979M214 316L667 808M333 441L748 908M413 439L804 941" stroke="#9c9c9c" stroke-width="2.6" stroke-opacity="0.85" fill="none"/>
<path d="M202 341L729 906M378 299L871 1013M421 250L625 830M333 441L748 908M289 450L769 940M473 584L806 878M293 302L846 1033M202 359L666 788M348 254L868 933M420 361L897 976M381 372L808 882M385 419L763 896M327 369L877 1036M336 290L805 916M358 284L860 922M297 244L806 941M392 427L764 878M297 242L798 897M378 385L795 930M334 302L891 998" stroke="#a8a8a8" stroke-width="2.6" stroke-opacity="0.85" fill="none"/>
<path d="M381 372L890 1004M420 361L880 994M413 439L859 952M299 300L797 944M420 361L830 904M336 378L844 976M328 316L875 1005M327 369L799 962M293 379L667 808M476 424L874 948M319 246L806 878M511 547L880 1007M274 199L816 902M299 321L806 941M378 385L895 1005M365 243L873 960M339 223L889 984M336 290L769 877M244 377L667 808M381 372L793 910" stroke="#a8a8a8" stroke-width="2.6" stroke-opacity="0.85" fill="none"/>
<path d="M317 242L859 974M281 210L868 996M391 442L806 921M222 204L831 944M392 427L845 1003M374 476L822 1003M413 439L768 878M277 232L880 1007M355 433L877 1036M385 419L749 845M310 450L849 995M425 399L880 994M262 280L794 935M358 284L826 905M190 298L791 981M473 584L871 1013M356 357L880 1007M381 372L797 885M333 441L794 935M388 347L880 994" stroke="#b2b2b2" stroke-width="2.6" stroke-opacity="0.85" fill="none"/>
<path d="M381 372L794 935M355 433L862 1033M303 225L889 984M374 349L859 952M276 251L797 885M294 352L803 929M428 512L888 1018M361 403L803 929M283 325L797 964M345 445L794 935M336 378L773 894M339 223L612 701M511 547L880 994M428 512L877 1036M244 240L760 905M384 316L880 962M333 441L849 995M378 455L773 894M473 584L859 1026M320 431L791 969" stroke="#9c9c9c" stroke-width="2.6" stroke-opacity="0.85" fill="none"/>
<path d="M321 288L895 1005M361 396L720 746M214 316L755 939M345 445L625 830M348 254L874 948M260 371L738 905M392 427L848 951M339 351L817 912M311 434L771 943M283 325L720 746M283 325L766 900M367 330L625 830M361 403L877 1036M251 260L871 1013M425 399L826 905M378 299L629 789M511 547L882 1007M350 299L825 892M339 347L871 1013M355 433L749 845" stroke="#969696" stroke-width="2.6" stroke-opacity="0.85" fill="none"/>
<path d="M362 378L880 1007M503 519L612 701M381 372L891 1021M385 419L820 963M339 417L803 990M249 367L800 980M325 268L610 664M294 352L800 980M274 199L835 908M381 372L832 904M327 369L786 920M361 396L826 905M348 254L842 934M391 442L860 1025M381 372L882 1007M388 347L817 912M287 427L788 984M334 289L876 930M473 584L859 1026M503 519L832 904" stroke="#a8a8a8" stroke-width="2.6" stroke-opacity="0.85" fill="none"/>
<path d="M314 375L830 979M311 434L772 941M251 260L763 896M314 375L790 924M402 490L625 830M191 244L661 746M339 417L833 1000M213 286L839 1020M334 289L880 994M276 251L861 919M339 417L803 990M339 347L825 892M428 512L830 979M348 254L867 918M163 341L761 961M348 254L815 920M287 212L873 960M239 327L803 990M367 330L848 951M343 447L767 896" stroke="#a9a9a9" stroke-width="2.6" stroke-opacity="0.85" fill="none"/>
<path d="M420 361L860 922M285 291L816 902M333 441L822 1003M378 299L825 909M252 267L806 921M183 322L625 830M283 325L880 1007M343 447L774 946M378 455L769 877M285 274L802 910M320 431L782 935M476 424L867 918M343 447L786 920M384 316L860 922M350 299L880 1007M367 330L842 934M511 547L815 920M275 405L610 664M374 476L792 911M503 519L817 912" stroke="#9c9c9c" stroke-width="2.6" stroke-opacity="0.85" fill="none"/>
<path d="M365 243L897 976M333 441L749 845M333 441L625 830M320 431L812 1013M402 490L844 976M365 243L908 970M511 547L873 960M425 399L895 1005M234 428L764 967M239 207L882 1007M361 403L859 1001M287 212L885 970M348 254L661 746M413 439L769 877M236 300L768 889M339 417L855 1019M341 396L804 941M378 455L805 916M361 403L875 1005M353 282L842 934" stroke="#a9a9a9" stroke-width="2.6" stroke-opacity="0.85" fill="none"/>
<path d="M343 447L848 1020M350 299L810 896M428 512L895 1008M378 299L874 948M476 424L904 963M287 427L763 896M320 431L629 789M388 347L876 968M336 378L786 920M378 299L860 922M492 397L885 970M244 240L895 1005M345 445L820 963M261 313L769 931M254 230L806 941M336 378L813 927M258 347L757 899M388 347L701 757M285 274L610 664M254 230L844 976" stroke="#969696" stroke-width="2.6" stroke-opacity="0.85" fill="none"/>
<path d="M348 254L904 963M425 399L880 962M258 347L782 935M430 391L629 789M361 396L889 984M320 431L785 959M209 268L794 935M358 284L887 994M314 375L839 1020M336 378L720 811M365 243L667 808M339 351L766 900M384 316L876 930M402 490L783 878M356 357L749 901M476 424L854 908M367 330L835 914M473 584L805 916M430 391L825 909M311 434L749 901" stroke="#b0b0b0" stroke-width="2.6" stroke-opacity="0.85" fill="none"/>
<path d="M391 442L855 1019M339 223L912 988M202 359L766 979M327 369L862 1033M356 357L848 951M261 313L769 931M345 445L860 1025M392 427L797 885M374 476L766 900M186 260L796 936M473 584L797 885M402 490L608 759M327 369L767 896M391 442L857 1004M328 316L810 896M227 261L806 941M334 302L861 919M341 396L778 942M358 284L867 918M388 347L882 982" stroke="#a9a9a9" stroke-width="2.6" stroke-opacity="0.85" fill="none"/>
<path d="M476 424L797 885M361 396L799 878M281 223L880 1007M244 240L830 979M277 232L885 970M402 490L805 916M378 385L805 916M293 379L822 1003M350 299L901 954M251 260L877 1036M413 439L895 1005M256 319L629 789M381 372L895 1008M334 302L882 982M343 447L846 1033M473 584L817 980M277 232L832 958M336 378L844 976M246 452L746 958M430 391L828 920" stroke="#b2b2b2" stroke-width="2.6" stroke-opacity="0.85" fill="none"/>
<path d="M374 349L867 1020M251 308L848 1018M257 238L768 889M378 385L848 951M316 517L783 1011M358 284L911 997M430 391L889 984M257 238L806 921M392 427L859 974M339 347L813 927M260 208L826 905M251 230L875 1005M287 212L666 788M334 302L695 889M281 383L772 941M182 276L729 906M343 447L772 941M388 347L608 759M320 324L802 926M385 419L859 1026" stroke="#a8a8a8" stroke-width="2.6" stroke-opacity="0.85" fill="none"/>
<path d="M402 490L837 1004M367 330L667 808M345 445L848 1018M209 268L782 935M385 419L867 1020M341 396L848 1020M476 424L885 970M503 519L798 897M378 299L830 904M293 302L868 933M420 361L891 998M402 490L804 941M388 347L799 878M320 431L846 1033M310 450L771 943M428 512L803 929M388 347L890 1004M425 399L876 968M320 238L885 970M355 433L760 905" stroke="#9c9c9c" stroke-width="2.6" stroke-opacity="0.85" fill="none"/>
<path d="M356 357L783 878M381 372L882 1007M297 242L831 944M328 316L868 996M329 317L832 958M511 547L701 757M341 396L769 877M260 371L812 1013M350 299L821 893M362 378L859 1001M350 299L880 962M334 302L848 951M258 347L804 941M254 259L768 889M374 349L826 905M425 399L854 908M299 321L802 926M374 476L860 1025M361 403L798 897M384 316L885 970" stroke="#acacac" stroke-width="2.6" stroke-opacity="0.85" fill="none"/>
<path d="M312 352L891 1021M355 433L802 926M402 490L771 943M311 434L812 1013M299 321L797 885M339 351L845 979M378 299L827 899M341 396L859 1001M378 299L861 919M381 372L895 1008M297 242L891 1021M503 519L661 746M458 337L911 997M374 349L898 1009M378 385L666 788M345 445L795 930M253 304L749 901M327 369L844 976M283 325L802 910M420 361L898 998" stroke="#a9a9a9" stroke-width="2.6" stroke-opacity="0.85" fill="none"/>
<path d="M275 405L791 969M367 330L810 901M384 316L630 740M336 290L885 970M303 225L797 885M214 316L769 940M374 349L882 982M355 433L783 878M283 325L880 1007M458 337L612 701M348 254L821 893M336 378L868 996M378 299L666 788M341 396L877 1036M345 445L822 1003M244 240L802 926M430 391L867 918M277 232L810 901M356 357L832 951M339 347L875 1005" stroke="#9c9c9c" stroke-width="2.6" stroke-opacity="0.85" fill="none"/>
<path d="M253 304L803 990M183 322L746 958M378 299L805 916M339 223L749 845M276 251L873 960M240 206L769 877M253 304L805 953M185 328L661 746M388 347L876 930M374 476L820 1002M458 337L629 789M381 372L768 878M378 455L805 916M345 445L848 1020M320 238L880 962M356 357L880 994" stroke="#a4a4a4" stroke-width="2.6" stroke-opacity="0.85" fill="none"/>
<path d="M320 431L297 256M246 452L329 317M291 481L312 352M333 441L186 260M310 450L183 322M316 517L356 357M234 428L339 347M234 428L191 242M294 517L285 291M246 452L165 302M234 428L234 428M234 428L297 256" stroke="#5cb07c" stroke-width="2.4" stroke-opacity="0.6" fill="none"/>
<path d="M289 450L355 433M310 450L183 322M289 450L222 204M316 517L251 230M311 434L193 313M289 450L281 223M291 481L256 327M310 450L183 322M316 517L362 378M333 441L275 405M311 434L274 199M291 481L261 313" stroke="#5cb07c" stroke-width="2.4" stroke-opacity="0.6" fill="none"/>
<path d="M310 450L261 313M234 428L385 419M289 450L328 316M294 517L311 434M294 517L329 317M234 428L236 300M311 434L202 317M294 517L293 379M289 450L183 322M287 427L339 351M316 517L236 300M311 434L222 204" stroke="#5cb07c" stroke-width="2.4" stroke-opacity="0.6" fill="none"/>
<path d="M333 441L236 300M316 517L222 204M246 452L293 302M320 431L254 292M320 431L299 321M294 517L293 302M287 427L239 322M287 427L388 347M234 428L355 433M291 481L391 442M310 450L240 344M333 441L180 284" stroke="#5cb07c" stroke-width="2.4" stroke-opacity="0.6" fill="none"/>
<path d="M320 431L202 341M320 431L294 517M246 452L257 238M333 441L391 442M289 450L266 323M287 427L312 352M246 452L216 352M287 427L336 378M246 452L311 434M320 431L190 298M310 450L202 341M287 427L392 427" stroke="#5cb07c" stroke-width="2.4" stroke-opacity="0.6" fill="none"/>
<path d="M311 434L274 199M246 452L257 238M291 481L289 388M310 450L310 450M234 428L281 371M291 481L180 284M316 517L367 330M310 450L213 286M310 450L312 352M311 434L339 417M316 517L226 368M289 450L249 367" stroke="#5cb07c" stroke-width="2.4" stroke-opacity="0.6" fill="none"/>
<path d="M333 441L185 328M333 441L281 371M294 517L202 317M287 427L202 359M291 481L244 377M311 434L252 267M234 428L385 419M316 517L281 383M311 434L202 267M289 450L191 244M333 441L193 313M246 452L222 204" stroke="#5cb07c" stroke-width="2.4" stroke-opacity="0.6" fill="none"/>
<path d="M320 431L202 267M333 441L361 396M287 427L193 286M291 481L260 371M294 517L220 337M287 427L256 319M316 517L378 455M294 517L257 238M294 517L283 325M289 450L277 273M246 452L240 206M291 481L249 367" stroke="#5cb07c" stroke-width="2.4" stroke-opacity="0.6" fill="none"/>
<path d="M311 434L341 396M320 431L374 349M320 431L333 441" stroke="#5cb07c" stroke-width="2.4" stroke-opacity="0.6" fill="none"/>
</g>
<circle cx="251.4" cy="307.6" r="10.9" fill="#8e5216" fill-opacity="0.85" stroke="#262626" stroke-width="1.7"/>
<circle cx="261.4" cy="313.4" r="12.2" fill="#7a7a7a" fill-opacity="0.7" stroke="#262626" stroke-width="1.7"/>
<circle cx="255.6" cy="318.9" r="9.4" fill="#7a7a7a" fill-opacity="0.7" stroke="#262626" stroke-width="1.7"/>
<circle cx="224.6" cy="209.0" r="11.5" fill="#e7a728" fill-opacity="0.8" stroke="#262626" stroke-width="1.7"/>
<circle cx="277.2" cy="273.2" r="11.6" fill="#7a7a7a" fill-opacity="0.7" stroke="#262626" stroke-width="1.7"/>
<circle cx="280.8" cy="223.1" r="12.3" fill="#3d8ac2" fill-opacity="0.75" stroke="#262626" stroke-width="1.7"/>
<circle cx="328.3" cy="315.9" r="10.9" fill="#8e5216" fill-opacity="0.85" stroke="#262626" stroke-width="1.7"/>
<circle cx="249.3" cy="366.9" r="9.9" fill="#b8dc6e" fill-opacity="0.8" stroke="#262626" stroke-width="1.7"/>
<circle cx="185.3" cy="327.5" r="13.0" fill="#7a7a7a" fill-opacity="0.7" stroke="#262626" stroke-width="1.7"/>
<circle cx="297.4" cy="256.2" r="11.1" fill="#3d8ac2" fill-opacity="0.75" stroke="#262626" stroke-width="1.7"/>
<circle cx="222.4" cy="204.0" r="12.4" fill="#7a7a7a" fill-opacity="0.7" stroke="#262626" stroke-width="1.7"/>
<circle cx="333.8" cy="288.7" r="10.6" fill="#e7a728" fill-opacity="0.8" stroke="#262626" stroke-width="1.7"/>
<circle cx="183.1" cy="322.2" r="10.1" fill="#e7a728" fill-opacity="0.8" stroke="#262626" stroke-width="1.7"/>
<circle cx="185.7" cy="259.8" r="12.0" fill="#7a7a7a" fill-opacity="0.7" stroke="#262626" stroke-width="1.7"/>
<circle cx="191.2" cy="241.7" r="9.0" fill="#7a7a7a" fill-opacity="0.7" stroke="#262626" stroke-width="1.7"/>
<circle cx="253.7" cy="292.2" r="11.2" fill="#e7a728" fill-opacity="0.8" stroke="#262626" stroke-width="1.7"/>
<circle cx="250.5" cy="230.0" r="10.7" fill="#3d8ac2" fill-opacity="0.75" stroke="#262626" stroke-width="1.7"/>
<circle cx="239.1" cy="272.9" r="9.0" fill="#7a7a7a" fill-opacity="0.7" stroke="#262626" stroke-width="1.7"/>
<circle cx="273.9" cy="198.8" r="9.9" fill="#3d8ac2" fill-opacity="0.75" stroke="#262626" stroke-width="1.7"/>
<circle cx="216.5" cy="352.3" r="12.3" fill="#7a7a7a" fill-opacity="0.7" stroke="#262626" stroke-width="1.7"/>
<circle cx="239.5" cy="205.6" r="11.3" fill="#7a7a7a" fill-opacity="0.7" stroke="#262626" stroke-width="1.7"/>
<circle cx="213.7" cy="316.3" r="11.5" fill="#7a7a7a" fill-opacity="0.7" stroke="#262626" stroke-width="1.7"/>
<circle cx="192.9" cy="313.3" r="9.5" fill="#c93a96" fill-opacity="0.78" stroke="#262626" stroke-width="1.7"/>
<circle cx="239.5" cy="321.7" r="12.6" fill="#7a7a7a" fill-opacity="0.7" stroke="#262626" stroke-width="1.7"/>
<circle cx="317.2" cy="242.4" r="9.6" fill="#3d8ac2" fill-opacity="0.75" stroke="#262626" stroke-width="1.7"/>
<circle cx="283.2" cy="306.3" r="12.8" fill="#e7a728" fill-opacity="0.8" stroke="#262626" stroke-width="1.7"/>
<circle cx="328.8" cy="316.7" r="9.2" fill="#7a7a7a" fill-opacity="0.7" stroke="#262626" stroke-width="1.7"/>
<circle cx="189.6" cy="297.6" r="10.0" fill="#7a7a7a" fill-opacity="0.7" stroke="#262626" stroke-width="1.7"/>
<circle cx="296.8" cy="244.0" r="10.2" fill="#7a7a7a" fill-opacity="0.7" stroke="#262626" stroke-width="1.7"/>
<circle cx="201.6" cy="341.3" r="9.5" fill="#7a7a7a" fill-opacity="0.7" stroke="#262626" stroke-width="1.7"/>
<circle cx="256.3" cy="327.2" r="11.5" fill="#b8dc6e" fill-opacity="0.8" stroke="#262626" stroke-width="1.7"/>
<circle cx="220.4" cy="382.6" r="12.0" fill="#7a7a7a" fill-opacity="0.7" stroke="#262626" stroke-width="1.7"/>
<circle cx="182.4" cy="276.4" r="9.2" fill="#7a7a7a" fill-opacity="0.7" stroke="#262626" stroke-width="1.7"/>
<circle cx="201.7" cy="267.4" r="12.9" fill="#c93a96" fill-opacity="0.78" stroke="#262626" stroke-width="1.7"/>
<circle cx="251.1" cy="259.5" r="11.4" fill="#3d8ac2" fill-opacity="0.75" stroke="#262626" stroke-width="1.7"/>
<circle cx="336.2" cy="289.7" r="11.8" fill="#7a7a7a" fill-opacity="0.7" stroke="#262626" stroke-width="1.7"/>
<circle cx="284.5" cy="291.3" r="10.2" fill="#e7a728" fill-opacity="0.8" stroke="#262626" stroke-width="1.7"/>
<circle cx="251.6" cy="267.2" r="12.6" fill="#3d8ac2" fill-opacity="0.75" stroke="#262626" stroke-width="1.7"/>
<circle cx="302.7" cy="337.8" r="10.4" fill="#7a7a7a" fill-opacity="0.7" stroke="#262626" stroke-width="1.7"/>
<circle cx="293.3" cy="379.2" r="12.8" fill="#7a7a7a" fill-opacity="0.7" stroke="#262626" stroke-width="1.7"/>
<circle cx="190.8" cy="244.0" r="11.9" fill="#7a7a7a" fill-opacity="0.7" stroke="#262626" stroke-width="1.7"/>
<circle cx="239.9" cy="344.4" r="10.8" fill="#b8dc6e" fill-opacity="0.8" stroke="#262626" stroke-width="1.7"/>
<circle cx="253.3" cy="303.7" r="12.0" fill="#c93a96" fill-opacity="0.78" stroke="#262626" stroke-width="1.7"/>
<circle cx="256.6" cy="238.3" r="11.0" fill="#3d8ac2" fill-opacity="0.75" stroke="#262626" stroke-width="1.7"/>
<circle cx="280.6" cy="383.3" r="12.6" fill="#7a7a7a" fill-opacity="0.7" stroke="#262626" stroke-width="1.7"/>
<circle cx="188.0" cy="242.0" r="13.2" fill="#7a7a7a" fill-opacity="0.7" stroke="#262626" stroke-width="1.7"/>
<circle cx="207.0" cy="243.0" r="12.1" fill="#7a7a7a" fill-opacity="0.7" stroke="#262626" stroke-width="1.7"/>
<circle cx="221.3" cy="226.0" r="12.1" fill="#7a7a7a" fill-opacity="0.7" stroke="#262626" stroke-width="1.7"/>
<circle cx="218.0" cy="241.0" r="13.2" fill="#7a7a7a" fill-opacity="0.7" stroke="#262626" stroke-width="1.7"/>
<circle cx="239.4" cy="207.0" r="11.0" fill="#c93a96" fill-opacity="0.78" stroke="#262626" stroke-width="1.7"/>
<circle cx="260.5" cy="208.0" r="13.2" fill="#7a7a7a" fill-opacity="0.7" stroke="#262626" stroke-width="1.7"/>
<circle cx="280.6" cy="210.0" r="13.2" fill="#7a7a7a" fill-opacity="0.7" stroke="#262626" stroke-width="1.7"/>
<circle cx="286.6" cy="212.0" r="9.9" fill="#c93a96" fill-opacity="0.78" stroke="#262626" stroke-width="1.7"/>
<circle cx="303.0" cy="225.0" r="11.0" fill="#3d8ac2" fill-opacity="0.75" stroke="#262626" stroke-width="1.7"/>
<circle cx="232.4" cy="234.0" r="11.0" fill="#c93a96" fill-opacity="0.78" stroke="#262626" stroke-width="1.7"/>
<circle cx="254.5" cy="230.0" r="13.2" fill="#3d8ac2" fill-opacity="0.75" stroke="#262626" stroke-width="1.7"/>
<circle cx="276.6" cy="232.0" r="13.2" fill="#3d8ac2" fill-opacity="0.75" stroke="#262626" stroke-width="1.7"/>
<circle cx="296.7" cy="242.0" r="14.3" fill="#3d8ac2" fill-opacity="0.75" stroke="#262626" stroke-width="1.7"/>
<circle cx="244.4" cy="240.0" r="11.0" fill="#3d8ac2" fill-opacity="0.75" stroke="#262626" stroke-width="1.7"/>
<circle cx="318.8" cy="246.0" r="12.1" fill="#7a7a7a" fill-opacity="0.7" stroke="#262626" stroke-width="1.7"/>
<circle cx="319.8" cy="238.0" r="11.0" fill="#7a7a7a" fill-opacity="0.7" stroke="#262626" stroke-width="1.7"/>
<circle cx="275.6" cy="251.0" r="15.4" fill="#3d8ac2" fill-opacity="0.75" stroke="#262626" stroke-width="1.7"/>
<circle cx="253.5" cy="259.0" r="15.4" fill="#c93a96" fill-opacity="0.78" stroke="#262626" stroke-width="1.7"/>
<circle cx="227.3" cy="261.0" r="13.2" fill="#c93a96" fill-opacity="0.78" stroke="#262626" stroke-width="1.7"/>
<circle cx="209.2" cy="268.0" r="15.4" fill="#7a7a7a" fill-opacity="0.7" stroke="#262626" stroke-width="1.7"/>
<circle cx="344.0" cy="263.0" r="9.9" fill="#7a7a7a" fill-opacity="0.7" stroke="#262626" stroke-width="1.7"/>
<circle cx="324.8" cy="268.0" r="11.0" fill="#3d8ac2" fill-opacity="0.75" stroke="#262626" stroke-width="1.7"/>
<circle cx="353.0" cy="282.0" r="9.9" fill="#3d8ac2" fill-opacity="0.75" stroke="#262626" stroke-width="1.7"/>
<circle cx="284.6" cy="274.0" r="15.4" fill="#3d8ac2" fill-opacity="0.75" stroke="#262626" stroke-width="1.7"/>
<circle cx="262.5" cy="280.0" r="14.3" fill="#8e5216" fill-opacity="0.85" stroke="#262626" stroke-width="1.7"/>
<circle cx="193.0" cy="286.0" r="13.2" fill="#c93a96" fill-opacity="0.78" stroke="#262626" stroke-width="1.7"/>
<circle cx="213.0" cy="286.0" r="9.9" fill="#e7a728" fill-opacity="0.8" stroke="#262626" stroke-width="1.7"/>
<circle cx="180.0" cy="284.0" r="8.8" fill="#7a7a7a" fill-opacity="0.7" stroke="#262626" stroke-width="1.7"/>
<circle cx="165.0" cy="301.5" r="9.9" fill="#7a7a7a" fill-opacity="0.7" stroke="#262626" stroke-width="1.7"/>
<circle cx="184.0" cy="308.5" r="12.1" fill="#7a7a7a" fill-opacity="0.7" stroke="#262626" stroke-width="1.7"/>
<circle cx="202.2" cy="316.6" r="14.3" fill="#7a7a7a" fill-opacity="0.7" stroke="#262626" stroke-width="1.7"/>
<circle cx="236.4" cy="300.5" r="15.4" fill="#3d8ac2" fill-opacity="0.75" stroke="#262626" stroke-width="1.7"/>
<circle cx="271.6" cy="299.5" r="13.2" fill="#c93a96" fill-opacity="0.78" stroke="#262626" stroke-width="1.7"/>
<circle cx="298.7" cy="299.5" r="17.6" fill="#e7a728" fill-opacity="0.8" stroke="#262626" stroke-width="1.7"/>
<circle cx="292.7" cy="301.5" r="11.0" fill="#7a7a7a" fill-opacity="0.7" stroke="#262626" stroke-width="1.7"/>
<circle cx="320.8" cy="288.4" r="11.0" fill="#3d8ac2" fill-opacity="0.75" stroke="#262626" stroke-width="1.7"/>
<circle cx="298.7" cy="320.6" r="13.2" fill="#3d8ac2" fill-opacity="0.75" stroke="#262626" stroke-width="1.7"/>
<circle cx="319.8" cy="323.6" r="12.1" fill="#3d8ac2" fill-opacity="0.75" stroke="#262626" stroke-width="1.7"/>
<circle cx="239.4" cy="326.6" r="15.4" fill="#c93a96" fill-opacity="0.78" stroke="#262626" stroke-width="1.7"/>
<circle cx="266.5" cy="322.6" r="14.3" fill="#9238bb" fill-opacity="0.8" stroke="#262626" stroke-width="1.7"/>
<circle cx="282.6" cy="324.6" r="11.0" fill="#8e5216" fill-opacity="0.85" stroke="#262626" stroke-width="1.7"/>
<circle cx="220.3" cy="336.7" r="14.3" fill="#e7a728" fill-opacity="0.8" stroke="#262626" stroke-width="1.7"/>
<circle cx="202.2" cy="340.7" r="11.0" fill="#c93a96" fill-opacity="0.78" stroke="#262626" stroke-width="1.7"/>
<circle cx="258.5" cy="346.7" r="15.4" fill="#e7a728" fill-opacity="0.8" stroke="#262626" stroke-width="1.7"/>
<circle cx="293.7" cy="351.8" r="13.2" fill="#b8dc6e" fill-opacity="0.8" stroke="#262626" stroke-width="1.7"/>
<circle cx="311.8" cy="351.8" r="12.1" fill="#e7a728" fill-opacity="0.8" stroke="#262626" stroke-width="1.7"/>
<circle cx="338.9" cy="350.8" r="9.9" fill="#c93a96" fill-opacity="0.78" stroke="#262626" stroke-width="1.7"/>
<circle cx="202.2" cy="358.8" r="9.9" fill="#7a7a7a" fill-opacity="0.7" stroke="#262626" stroke-width="1.7"/>
<circle cx="226.3" cy="367.8" r="9.9" fill="#c93a96" fill-opacity="0.78" stroke="#262626" stroke-width="1.7"/>
<circle cx="244.4" cy="377.0" r="9.9" fill="#c93a96" fill-opacity="0.78" stroke="#262626" stroke-width="1.7"/>
<circle cx="260.5" cy="371.0" r="11.0" fill="#7a7a7a" fill-opacity="0.7" stroke="#262626" stroke-width="1.7"/>
<circle cx="280.6" cy="371.0" r="12.1" fill="#b8dc6e" fill-opacity="0.8" stroke="#262626" stroke-width="1.7"/>
<circle cx="288.6" cy="388.0" r="12.1" fill="#b8dc6e" fill-opacity="0.8" stroke="#262626" stroke-width="1.7"/>
<circle cx="260.5" cy="396.0" r="11.0" fill="#7a7a7a" fill-opacity="0.7" stroke="#262626" stroke-width="1.7"/>
<circle cx="244.4" cy="401.0" r="9.9" fill="#7a7a7a" fill-opacity="0.7" stroke="#262626" stroke-width="1.7"/>
<circle cx="274.6" cy="405.0" r="8.8" fill="#7a7a7a" fill-opacity="0.7" stroke="#262626" stroke-width="1.7"/>
<circle cx="163.0" cy="340.7" r="8.8" fill="#7a7a7a" fill-opacity="0.7" stroke="#262626" stroke-width="1.7"/>
<rect x="164.0" y="27.3" width="14.0" height="14.0" fill="#7a7a7a" fill-opacity="0.7" stroke="#262626" stroke-width="1.7"/>
<rect x="223.8" y="6.5" width="14.0" height="14.0" fill="#7a7a7a" fill-opacity="0.7" stroke="#262626" stroke-width="1.7"/>
<circle cx="197.8" cy="46.0" r="7.3" fill="#999999" fill-opacity="0.95" stroke="#262626" stroke-width="1.7"/>
<circle cx="253.2" cy="112.0" r="9.0" fill="#999999" fill-opacity="0.95" stroke="#262626" stroke-width="1.7"/>
<circle cx="269.7" cy="110.0" r="8.0" fill="#999999" fill-opacity="0.95" stroke="#262626" stroke-width="1.7"/>
<circle cx="298.4" cy="111.0" r="9.5" fill="#999999" fill-opacity="0.95" stroke="#262626" stroke-width="1.7"/>
<circle cx="223.6" cy="130.2" r="8.0" fill="#7a7a7a" fill-opacity="0.7" stroke="#262626" stroke-width="1.7"/>
<circle cx="214.8" cy="141.0" r="9.0" fill="#7a7a7a" fill-opacity="0.7" stroke="#262626" stroke-width="1.7"/>
<circle cx="245.0" cy="135.7" r="9.0" fill="#7a7a7a" fill-opacity="0.7" stroke="#262626" stroke-width="1.7"/>
<circle cx="241.9" cy="147.0" r="9.5" fill="#c93a96" fill-opacity="0.78" stroke="#262626" stroke-width="1.7"/>
<circle cx="194.7" cy="155.8" r="9.0" fill="#e7a728" fill-opacity="0.8" stroke="#262626" stroke-width="1.7"/>
<circle cx="301.7" cy="158.6" r="12.5" fill="#7a7a7a" fill-opacity="0.7" stroke="#262626" stroke-width="1.7"/>
<circle cx="325.8" cy="169.5" r="9.5" fill="#999999" fill-opacity="0.95" stroke="#262626" stroke-width="1.7"/>
<circle cx="319.0" cy="183.0" r="9.5" fill="#7a7a7a" fill-opacity="0.7" stroke="#262626" stroke-width="1.7"/>
<circle cx="271.0" cy="174.0" r="12.0" fill="#7a7a7a" fill-opacity="0.7" stroke="#262626" stroke-width="1.7"/>
<circle cx="206.6" cy="186.3" r="9.0" fill="#3d8ac2" fill-opacity="0.75" stroke="#262626" stroke-width="1.7"/>
<circle cx="227.6" cy="190.5" r="10.0" fill="#7a7a7a" fill-opacity="0.7" stroke="#262626" stroke-width="1.7"/>
<polygon points="316.0,190.3 306.5,207.4 325.5,207.4" fill="#0d3c3c" fill-opacity="0.9" stroke="#262626" stroke-width="1.7" stroke-linejoin="miter"/>
<circle cx="262.4" cy="194.2" r="12.5" fill="#7a7a7a" fill-opacity="0.7" stroke="#262626" stroke-width="1.7"/>
<circle cx="279.7" cy="205.2" r="14.5" fill="#7a7a7a" fill-opacity="0.7" stroke="#262626" stroke-width="1.7"/>
<circle cx="239.5" cy="206.5" r="11.0" fill="#c93a96" fill-opacity="0.78" stroke="#262626" stroke-width="1.7"/>
<polygon points="338.0,213.0 330.0,227.4 346.0,227.4" fill="#7a7a7a" fill-opacity="0.7" stroke="#262626" stroke-width="1.7" stroke-linejoin="miter"/>
<circle cx="303.5" cy="225.0" r="10.0" fill="#3d8ac2" fill-opacity="0.75" stroke="#262626" stroke-width="1.7"/>
<circle cx="36.3" cy="292.0" r="8.5" fill="#c93a96" fill-opacity="0.78" stroke="#262626" stroke-width="1.7"/>
<circle cx="147.5" cy="213.0" r="8.5" fill="#c93a96" fill-opacity="0.78" stroke="#262626" stroke-width="1.7"/>
<circle cx="144.5" cy="284.6" r="9.0" fill="#999999" fill-opacity="0.95" stroke="#262626" stroke-width="1.7"/>
<circle cx="163.0" cy="301.6" r="9.0" fill="#7a7a7a" fill-opacity="0.7" stroke="#262626" stroke-width="1.7"/>
<circle cx="129.5" cy="335.9" r="9.0" fill="#999999" fill-opacity="0.95" stroke="#262626" stroke-width="1.7"/>
<circle cx="162.0" cy="340.7" r="9.0" fill="#7a7a7a" fill-opacity="0.7" stroke="#262626" stroke-width="1.7"/>
<circle cx="202.0" cy="358.0" r="9.0" fill="#7a7a7a" fill-opacity="0.7" stroke="#262626" stroke-width="1.7"/>
<circle cx="120.0" cy="386.0" r="8.0" fill="#7a7a7a" fill-opacity="0.7" stroke="#262626" stroke-width="1.7"/>
<circle cx="180.8" cy="400.7" r="8.0" fill="#7a7a7a" fill-opacity="0.7" stroke="#262626" stroke-width="1.7"/>
<rect x="82.3" y="428.6" width="14.0" height="14.0" fill="#999999" fill-opacity="0.95" stroke="#262626" stroke-width="1.7"/>
<rect x="173.2" y="483.9" width="14.0" height="14.0" fill="#999999" fill-opacity="0.95" stroke="#262626" stroke-width="1.7"/>
<circle cx="79.3" cy="544.7" r="7.0" fill="#999999" fill-opacity="0.95" stroke="#262626" stroke-width="1.7"/>
<polygon points="231.0,418.2 221.5,435.3 240.5,435.3" fill="#7a7a7a" fill-opacity="0.7" stroke="#262626" stroke-width="1.7" stroke-linejoin="miter"/>
<polygon points="246.0,442.3 236.5,459.4 255.5,459.4" fill="#7a7a7a" fill-opacity="0.7" stroke="#262626" stroke-width="1.7" stroke-linejoin="miter"/>
<circle cx="420.0" cy="626.0" r="6.5" fill="#7a7a7a" fill-opacity="0.7" stroke="#262626" stroke-width="1.7"/>
<polygon points="338.8,212.7 329.3,229.8 348.3,229.8" fill="#7a7a7a" fill-opacity="0.7" stroke="#262626" stroke-width="1.7" stroke-linejoin="miter"/>
<polygon points="389.0,225.2 379.5,242.3 398.5,242.3" fill="#999999" fill-opacity="0.95" stroke="#262626" stroke-width="1.7" stroke-linejoin="miter"/>
<polygon points="365.0,232.7 355.5,249.8 374.5,249.8" fill="#7a7a7a" fill-opacity="0.7" stroke="#262626" stroke-width="1.7" stroke-linejoin="miter"/>
<circle cx="421.0" cy="250.0" r="8.0" fill="#999999" fill-opacity="0.95" stroke="#262626" stroke-width="1.7"/>
<circle cx="416.5" cy="285.0" r="7.5" fill="#999999" fill-opacity="0.95" stroke="#262626" stroke-width="1.7"/>
<polygon points="348.0,243.7 338.5,260.8 357.5,260.8" fill="#0d3c3c" fill-opacity="0.9" stroke="#262626" stroke-width="1.7" stroke-linejoin="miter"/>
<polygon points="349.7,288.7 340.2,305.8 359.2,305.8" fill="#7a7a7a" fill-opacity="0.7" stroke="#262626" stroke-width="1.7" stroke-linejoin="miter"/>
<polygon points="377.6,288.7 368.1,305.8 387.1,305.8" fill="#7a7a7a" fill-opacity="0.7" stroke="#262626" stroke-width="1.7" stroke-linejoin="miter"/>
<polygon points="384.5,305.7 375.0,322.8 394.0,322.8" fill="#7a7a7a" fill-opacity="0.7" stroke="#262626" stroke-width="1.7" stroke-linejoin="miter"/>
<polygon points="334.0,291.7 324.5,308.8 343.5,308.8" fill="#0d3c3c" fill-opacity="0.9" stroke="#262626" stroke-width="1.7" stroke-linejoin="miter"/>
<circle cx="357.5" cy="283.7" r="10.0" fill="#3d8ac2" fill-opacity="0.75" stroke="#262626" stroke-width="1.7"/>
<polygon points="457.8,326.3 448.3,343.4 467.3,343.4" fill="#7a7a7a" fill-opacity="0.7" stroke="#262626" stroke-width="1.7" stroke-linejoin="miter"/>
<polygon points="388.5,337.1 379.0,354.2 398.0,354.2" fill="#7a7a7a" fill-opacity="0.7" stroke="#262626" stroke-width="1.7" stroke-linejoin="miter"/>
<polygon points="420.5,351.1 411.0,368.2 430.0,368.2" fill="#7a7a7a" fill-opacity="0.7" stroke="#262626" stroke-width="1.7" stroke-linejoin="miter"/>
<polygon points="380.8,362.0 371.3,379.1 390.3,379.1" fill="#0d3c3c" fill-opacity="0.9" stroke="#262626" stroke-width="1.7" stroke-linejoin="miter"/>
<polygon points="377.6,374.4 368.1,391.5 387.1,391.5" fill="#3d8ac2" fill-opacity="0.75" stroke="#262626" stroke-width="1.7" stroke-linejoin="miter"/>
<polygon points="362.0,368.2 352.5,385.3 371.5,385.3" fill="#7a7a7a" fill-opacity="0.7" stroke="#262626" stroke-width="1.7" stroke-linejoin="miter"/>
<polygon points="338.8,337.1 329.3,354.2 348.3,354.2" fill="#7a7a7a" fill-opacity="0.7" stroke="#262626" stroke-width="1.7" stroke-linejoin="miter"/>
<polygon points="355.9,346.5 346.4,363.6 365.4,363.6" fill="#7a7a7a" fill-opacity="0.7" stroke="#262626" stroke-width="1.7" stroke-linejoin="miter"/>
<circle cx="366.8" cy="330.3" r="9.0" fill="#e7a728" fill-opacity="0.8" stroke="#262626" stroke-width="1.7"/>
<circle cx="373.6" cy="349.0" r="8.0" fill="#e7a728" fill-opacity="0.8" stroke="#262626" stroke-width="1.7"/>
<polygon points="430.5,380.7 421.0,397.8 440.0,397.8" fill="#7a7a7a" fill-opacity="0.7" stroke="#262626" stroke-width="1.7" stroke-linejoin="miter"/>
<polygon points="425.2,388.4 415.7,405.5 434.7,405.5" fill="#7a7a7a" fill-opacity="0.7" stroke="#262626" stroke-width="1.7" stroke-linejoin="miter"/>
<rect x="485.0" y="390.2" width="14.0" height="14.0" fill="#999999" fill-opacity="0.95" stroke="#262626" stroke-width="1.7"/>
<polygon points="475.6,413.3 466.1,430.4 485.1,430.4" fill="#7a7a7a" fill-opacity="0.7" stroke="#262626" stroke-width="1.7" stroke-linejoin="miter"/>
<polygon points="341.0,385.3 331.5,402.4 350.5,402.4" fill="#7a7a7a" fill-opacity="0.7" stroke="#262626" stroke-width="1.7" stroke-linejoin="miter"/>
<circle cx="360.6" cy="395.6" r="10.0" fill="#7a7a7a" fill-opacity="0.7" stroke="#262626" stroke-width="1.7"/>
<polygon points="360.6,393.1 351.1,410.2 370.1,410.2" fill="#7a7a7a" fill-opacity="0.7" stroke="#262626" stroke-width="1.7" stroke-linejoin="miter"/>
<polygon points="314.0,365.1 304.5,382.2 323.5,382.2" fill="#7a7a7a" fill-opacity="0.7" stroke="#262626" stroke-width="1.7" stroke-linejoin="miter"/>
<polygon points="335.7,368.2 326.2,385.3 345.2,385.3" fill="#c93a96" fill-opacity="0.78" stroke="#262626" stroke-width="1.7" stroke-linejoin="miter"/>
<polygon points="327.0,358.7 317.5,375.8 336.5,375.8" fill="#e7a728" fill-opacity="0.8" stroke="#262626" stroke-width="1.7" stroke-linejoin="miter"/>
<polygon points="338.8,407.1 329.3,424.2 348.3,424.2" fill="#7a7a7a" fill-opacity="0.7" stroke="#262626" stroke-width="1.7" stroke-linejoin="miter"/>
<polygon points="384.8,408.7 375.3,425.8 394.3,425.8" fill="#7a7a7a" fill-opacity="0.7" stroke="#262626" stroke-width="1.7" stroke-linejoin="miter"/>
<polygon points="392.3,416.4 382.8,433.5 401.8,433.5" fill="#7a7a7a" fill-opacity="0.7" stroke="#262626" stroke-width="1.7" stroke-linejoin="miter"/>
<polygon points="413.4,428.7 403.9,445.8 422.9,445.8" fill="#7a7a7a" fill-opacity="0.7" stroke="#262626" stroke-width="1.7" stroke-linejoin="miter"/>
<polygon points="391.0,431.7 381.5,448.8 400.5,448.8" fill="#7a7a7a" fill-opacity="0.7" stroke="#262626" stroke-width="1.7" stroke-linejoin="miter"/>
<polygon points="377.6,444.4 368.1,461.5 387.1,461.5" fill="#7a7a7a" fill-opacity="0.7" stroke="#262626" stroke-width="1.7" stroke-linejoin="miter"/>
<polygon points="374.5,466.1 365.0,483.2 384.0,483.2" fill="#7a7a7a" fill-opacity="0.7" stroke="#262626" stroke-width="1.7" stroke-linejoin="miter"/>
<polygon points="401.9,480.1 392.4,497.2 411.4,497.2" fill="#7a7a7a" fill-opacity="0.7" stroke="#262626" stroke-width="1.7" stroke-linejoin="miter"/>
<polygon points="428.0,501.9 418.5,519.0 437.5,519.0" fill="#b8dc6e" fill-opacity="0.8" stroke="#262626" stroke-width="1.7" stroke-linejoin="miter"/>
<polygon points="503.0,508.7 493.5,525.8 512.5,525.8" fill="#7a7a7a" fill-opacity="0.7" stroke="#262626" stroke-width="1.7" stroke-linejoin="miter"/>
<rect x="504.3" y="540.0" width="14.0" height="14.0" fill="#7a7a7a" fill-opacity="0.7" stroke="#262626" stroke-width="1.7"/>
<polygon points="286.9,416.4 277.4,433.5 296.4,433.5" fill="#7a7a7a" fill-opacity="0.7" stroke="#262626" stroke-width="1.7" stroke-linejoin="miter"/>
<polygon points="320.0,421.1 310.5,438.2 329.5,438.2" fill="#b8dc6e" fill-opacity="0.8" stroke="#262626" stroke-width="1.7" stroke-linejoin="miter"/>
<polygon points="310.8,424.2 301.3,441.3 320.3,441.3" fill="#7a7a7a" fill-opacity="0.7" stroke="#262626" stroke-width="1.7" stroke-linejoin="miter"/>
<polygon points="355.0,422.7 345.5,439.8 364.5,439.8" fill="#b8dc6e" fill-opacity="0.8" stroke="#262626" stroke-width="1.7" stroke-linejoin="miter"/>
<polygon points="332.6,430.4 323.1,447.5 342.1,447.5" fill="#7a7a7a" fill-opacity="0.7" stroke="#262626" stroke-width="1.7" stroke-linejoin="miter"/>
<polygon points="343.0,436.7 333.5,453.8 352.5,453.8" fill="#c93a96" fill-opacity="0.78" stroke="#262626" stroke-width="1.7" stroke-linejoin="miter"/>
<polygon points="345.0,435.1 335.5,452.2 354.5,452.2" fill="#b8dc6e" fill-opacity="0.8" stroke="#262626" stroke-width="1.7" stroke-linejoin="miter"/>
<polygon points="310.2,439.7 300.7,456.8 319.7,456.8" fill="#7a7a7a" fill-opacity="0.7" stroke="#262626" stroke-width="1.7" stroke-linejoin="miter"/>
<polygon points="289.0,439.7 279.5,456.8 298.5,456.8" fill="#b8dc6e" fill-opacity="0.8" stroke="#262626" stroke-width="1.7" stroke-linejoin="miter"/>
<polygon points="245.5,441.3 236.0,458.4 255.0,458.4" fill="#7a7a7a" fill-opacity="0.7" stroke="#262626" stroke-width="1.7" stroke-linejoin="miter"/>
<polygon points="290.6,470.7 281.1,487.8 300.1,487.8" fill="#7a7a7a" fill-opacity="0.7" stroke="#262626" stroke-width="1.7" stroke-linejoin="miter"/>
<polygon points="293.7,506.6 284.2,523.7 303.2,523.7" fill="#b8dc6e" fill-opacity="0.8" stroke="#262626" stroke-width="1.7" stroke-linejoin="miter"/>
<polygon points="315.5,506.6 306.0,523.7 325.0,523.7" fill="#7a7a7a" fill-opacity="0.7" stroke="#262626" stroke-width="1.7" stroke-linejoin="miter"/>
<polygon points="233.7,417.7 224.2,434.8 243.2,434.8" fill="#7a7a7a" fill-opacity="0.7" stroke="#262626" stroke-width="1.7" stroke-linejoin="miter"/>
<polygon points="473.3,573.9 463.8,591.0 482.8,591.0" fill="#7a7a7a" fill-opacity="0.7" stroke="#262626" stroke-width="1.7" stroke-linejoin="miter"/>
<rect x="592.3" y="557.8" width="18.0" height="18.0" fill="#7a7a7a" fill-opacity="0.7" stroke="#262626" stroke-width="1.7"/>
<rect x="610.5" y="615.2" width="17.0" height="17.0" fill="#7a7a7a" fill-opacity="0.7" stroke="#262626" stroke-width="1.7"/>
<rect x="602.2" y="656.5" width="15.0" height="15.0" fill="#9238bb" fill-opacity="0.8" stroke="#262626" stroke-width="1.7"/>
<rect x="604.4" y="693.9" width="15.0" height="15.0" fill="#7a7a7a" fill-opacity="0.7" stroke="#262626" stroke-width="1.7"/>
<rect x="574.3" y="703.8" width="15.0" height="15.0" fill="#7a7a7a" fill-opacity="0.7" stroke="#262626" stroke-width="1.7"/>
<polygon points="574.9,718.4 565.4,735.5 584.4,735.5" fill="#7a7a7a" fill-opacity="0.7" stroke="#262626" stroke-width="1.7" stroke-linejoin="miter"/>
<polygon points="561.5,725.3 552.0,742.4 571.0,742.4" fill="#7a7a7a" fill-opacity="0.7" stroke="#262626" stroke-width="1.7" stroke-linejoin="miter"/>
<rect x="652.5" y="704.8" width="15.0" height="15.0" fill="#7a7a7a" fill-opacity="0.7" stroke="#262626" stroke-width="1.7"/>
<rect x="667.9" y="721.7" width="16.0" height="16.0" fill="#9238bb" fill-opacity="0.8" stroke="#262626" stroke-width="1.7"/>
<rect x="621.9" y="732.5" width="16.0" height="16.0" fill="#9238bb" fill-opacity="0.8" stroke="#262626" stroke-width="1.7"/>
<rect x="652.5" y="737.3" width="17.0" height="17.0" fill="#9238bb" fill-opacity="0.8" stroke="#262626" stroke-width="1.7"/>
<rect x="600.7" y="751.4" width="15.0" height="15.0" fill="#7a7a7a" fill-opacity="0.7" stroke="#262626" stroke-width="1.7"/>
<rect x="692.3" y="748.8" width="17.0" height="17.0" fill="#7a7a7a" fill-opacity="0.7" stroke="#262626" stroke-width="1.7"/>
<rect x="712.0" y="738.5" width="16.0" height="16.0" fill="#3d8ac2" fill-opacity="0.75" stroke="#262626" stroke-width="1.7"/>
<rect x="621.5" y="781.8" width="15.0" height="15.0" fill="#7a7a7a" fill-opacity="0.7" stroke="#262626" stroke-width="1.7"/>
<rect x="658.8" y="780.0" width="15.0" height="15.0" fill="#7a7a7a" fill-opacity="0.7" stroke="#262626" stroke-width="1.7"/>
<rect x="658.1" y="799.2" width="17.0" height="17.0" fill="#8e5216" fill-opacity="0.85" stroke="#262626" stroke-width="1.7"/>
<rect x="712.2" y="783.9" width="17.0" height="17.0" fill="#9238bb" fill-opacity="0.8" stroke="#262626" stroke-width="1.7"/>
<rect x="711.5" y="802.5" width="17.0" height="17.0" fill="#3d8ac2" fill-opacity="0.75" stroke="#262626" stroke-width="1.7"/>
<rect x="618.3" y="822.7" width="14.0" height="14.0" fill="#7a7a7a" fill-opacity="0.7" stroke="#262626" stroke-width="1.7"/>
<rect x="650.9" y="821.2" width="17.0" height="17.0" fill="#7a7a7a" fill-opacity="0.7" stroke="#262626" stroke-width="1.7"/>
<rect x="739.6" y="836.3" width="18.0" height="18.0" fill="#9238bb" fill-opacity="0.8" stroke="#262626" stroke-width="1.7"/>
<rect x="717.4" y="859.1" width="19.0" height="19.0" fill="#7a7a7a" fill-opacity="0.7" stroke="#262626" stroke-width="1.7"/>
<rect x="685.6" y="879.8" width="18.0" height="18.0" fill="#b8dc6e" fill-opacity="0.8" stroke="#262626" stroke-width="1.7"/>
<rect x="527.6" y="741.5" width="13.0" height="13.0" fill="#999999" fill-opacity="0.95" stroke="#262626" stroke-width="1.7"/>
<rect x="617.2" y="899.0" width="14.0" height="14.0" fill="#999999" fill-opacity="0.95" stroke="#262626" stroke-width="1.7"/>
<rect x="629.2" y="905.7" width="14.0" height="14.0" fill="#999999" fill-opacity="0.95" stroke="#262626" stroke-width="1.7"/>
<rect x="663.4" y="901.3" width="14.0" height="14.0" fill="#999999" fill-opacity="0.95" stroke="#262626" stroke-width="1.7"/>
<polygon points="566.7,993.6 557.2,1010.7 576.2,1010.7" fill="#7a7a7a" fill-opacity="0.7" stroke="#262626" stroke-width="1.7" stroke-linejoin="miter"/>
<rect x="625.4" y="994.0" width="14.0" height="14.0" fill="#999999" fill-opacity="0.95" stroke="#262626" stroke-width="1.7"/>
<rect x="594.5" y="1033.8" width="13.0" height="13.0" fill="#c93a96" fill-opacity="0.78" stroke="#262626" stroke-width="1.7"/>
<rect x="842.5" y="1061.5" width="17.0" height="17.0" fill="#de4a2c" fill-opacity="0.95" stroke="#262626" stroke-width="1.7"/>
<rect x="707.3" y="933.2" width="22.0" height="22.0" fill="#7a7a7a" fill-opacity="0.7" stroke="#262626" stroke-width="1.7"/>
<rect x="715.0" y="894.4" width="22.0" height="22.0" fill="#b8dc6e" fill-opacity="0.8" stroke="#262626" stroke-width="1.7"/>
<rect x="752.9" y="867.2" width="21.6" height="21.6" fill="#7a7a7a" fill-opacity="0.7" stroke="#262626" stroke-width="1.7"/>
<rect x="755.5" y="864.9" width="25.6" height="25.6" fill="#7a7a7a" fill-opacity="0.7" stroke="#262626" stroke-width="1.7"/>
<rect x="771.0" y="865.6" width="24.6" height="24.6" fill="#7a7a7a" fill-opacity="0.7" stroke="#262626" stroke-width="1.7"/>
<rect x="730.5" y="880.7" width="24.5" height="24.5" fill="#9238bb" fill-opacity="0.8" stroke="#262626" stroke-width="1.7"/>
<rect x="795.7" y="867.7" width="20.1" height="20.1" fill="#7a7a7a" fill-opacity="0.7" stroke="#262626" stroke-width="1.7"/>
<rect x="753.3" y="874.0" width="30.2" height="30.2" fill="#7a7a7a" fill-opacity="0.7" stroke="#262626" stroke-width="1.7"/>
<rect x="779.8" y="872.7" width="24.3" height="24.3" fill="#8a6a9a" fill-opacity="0.9" stroke="#262626" stroke-width="1.7"/>
<rect x="783.2" y="870.9" width="28.4" height="28.4" fill="#7a7a7a" fill-opacity="0.7" stroke="#262626" stroke-width="1.7"/>
<rect x="792.7" y="867.4" width="29.6" height="29.6" fill="#7a7a7a" fill-opacity="0.7" stroke="#262626" stroke-width="1.7"/>
<rect x="753.5" y="887.1" width="18.3" height="18.3" fill="#7a7a7a" fill-opacity="0.7" stroke="#262626" stroke-width="1.7"/>
<rect x="738.2" y="890.9" width="20.7" height="20.7" fill="#7a7a7a" fill-opacity="0.7" stroke="#262626" stroke-width="1.7"/>
<rect x="763.1" y="884.3" width="19.5" height="19.5" fill="#9238bb" fill-opacity="0.8" stroke="#262626" stroke-width="1.7"/>
<rect x="746.4" y="888.8" width="20.8" height="20.8" fill="#7a7a7a" fill-opacity="0.7" stroke="#262626" stroke-width="1.7"/>
<rect x="723.6" y="890.8" width="28.6" height="28.6" fill="#7a7a7a" fill-opacity="0.7" stroke="#262626" stroke-width="1.7"/>
<rect x="751.5" y="885.7" width="28.8" height="28.8" fill="#8a6a9a" fill-opacity="0.9" stroke="#262626" stroke-width="1.7"/>
<rect x="734.2" y="894.2" width="27.8" height="27.8" fill="#7a7a7a" fill-opacity="0.7" stroke="#262626" stroke-width="1.7"/>
<rect x="749.0" y="894.1" width="22.8" height="22.8" fill="#9238bb" fill-opacity="0.8" stroke="#262626" stroke-width="1.7"/>
<rect x="783.5" y="882.2" width="29.9" height="29.9" fill="#8e5216" fill-opacity="0.85" stroke="#262626" stroke-width="1.7"/>
<rect x="808.6" y="880.3" width="24.5" height="24.5" fill="#7a7a7a" fill-opacity="0.7" stroke="#262626" stroke-width="1.7"/>
<rect x="809.4" y="876.1" width="30.9" height="30.9" fill="#999999" fill-opacity="0.95" stroke="#262626" stroke-width="1.7"/>
<rect x="798.2" y="888.9" width="24.5" height="24.5" fill="#8a6a9a" fill-opacity="0.9" stroke="#262626" stroke-width="1.7"/>
<rect x="805.4" y="891.6" width="20.4" height="20.4" fill="#7a7a7a" fill-opacity="0.7" stroke="#262626" stroke-width="1.7"/>
<rect x="812.9" y="884.8" width="28.5" height="28.5" fill="#7a7a7a" fill-opacity="0.7" stroke="#262626" stroke-width="1.7"/>
<rect x="782.0" y="899.1" width="22.0" height="22.0" fill="#7a7a7a" fill-opacity="0.7" stroke="#262626" stroke-width="1.7"/>
<rect x="778.6" y="898.2" width="26.2" height="26.2" fill="#7a7a7a" fill-opacity="0.7" stroke="#262626" stroke-width="1.7"/>
<rect x="790.5" y="898.4" width="23.4" height="23.4" fill="#7a7a7a" fill-opacity="0.7" stroke="#262626" stroke-width="1.7"/>
<rect x="819.7" y="894.0" width="19.8" height="19.8" fill="#7a7a7a" fill-opacity="0.7" stroke="#262626" stroke-width="1.7"/>
<rect x="811.3" y="890.3" width="29.6" height="29.6" fill="#9238bb" fill-opacity="0.8" stroke="#262626" stroke-width="1.7"/>
<rect x="819.9" y="892.0" width="24.7" height="24.7" fill="#9238bb" fill-opacity="0.8" stroke="#262626" stroke-width="1.7"/>
<rect x="751.3" y="914.5" width="24.0" height="24.0" fill="#9238bb" fill-opacity="0.8" stroke="#262626" stroke-width="1.7"/>
<rect x="770.9" y="905.3" width="29.7" height="29.7" fill="#7a7a7a" fill-opacity="0.7" stroke="#262626" stroke-width="1.7"/>
<rect x="811.8" y="895.6" width="26.2" height="26.2" fill="#7a7a7a" fill-opacity="0.7" stroke="#262626" stroke-width="1.7"/>
<rect x="730.0" y="918.9" width="28.3" height="28.3" fill="#8a6a9a" fill-opacity="0.9" stroke="#262626" stroke-width="1.7"/>
<rect x="805.8" y="900.8" width="22.1" height="22.1" fill="#7a7a7a" fill-opacity="0.7" stroke="#262626" stroke-width="1.7"/>
<rect x="820.8" y="893.6" width="28.9" height="28.9" fill="#7a7a7a" fill-opacity="0.7" stroke="#262626" stroke-width="1.7"/>
<rect x="779.9" y="914.4" width="19.5" height="19.5" fill="#7a7a7a" fill-opacity="0.7" stroke="#262626" stroke-width="1.7"/>
<rect x="753.7" y="916.6" width="29.8" height="29.8" fill="#7a7a7a" fill-opacity="0.7" stroke="#262626" stroke-width="1.7"/>
<rect x="794.9" y="909.9" width="21.6" height="21.6" fill="#7a7a7a" fill-opacity="0.7" stroke="#262626" stroke-width="1.7"/>
<rect x="823.9" y="903.0" width="21.5" height="21.5" fill="#8d8b76" fill-opacity="0.9" stroke="#262626" stroke-width="1.7"/>
<rect x="805.1" y="910.6" width="19.7" height="19.7" fill="#7a7a7a" fill-opacity="0.7" stroke="#262626" stroke-width="1.7"/>
<rect x="745.8" y="929.7" width="19.3" height="19.3" fill="#7a7a7a" fill-opacity="0.7" stroke="#262626" stroke-width="1.7"/>
<rect x="787.1" y="910.7" width="29.7" height="29.7" fill="#9238bb" fill-opacity="0.8" stroke="#262626" stroke-width="1.7"/>
<rect x="783.9" y="919.1" width="21.6" height="21.6" fill="#999999" fill-opacity="0.95" stroke="#262626" stroke-width="1.7"/>
<rect x="771.2" y="924.1" width="21.7" height="21.7" fill="#9238bb" fill-opacity="0.8" stroke="#262626" stroke-width="1.7"/>
<rect x="757.4" y="927.9" width="23.4" height="23.4" fill="#7a7a7a" fill-opacity="0.7" stroke="#262626" stroke-width="1.7"/>
<rect x="788.9" y="915.1" width="28.5" height="28.5" fill="#7a7a7a" fill-opacity="0.7" stroke="#262626" stroke-width="1.7"/>
<rect x="800.4" y="914.3" width="25.7" height="25.7" fill="#7a7a7a" fill-opacity="0.7" stroke="#262626" stroke-width="1.7"/>
<rect x="762.6" y="932.0" width="18.5" height="18.5" fill="#8a6a9a" fill-opacity="0.9" stroke="#262626" stroke-width="1.7"/>
<rect x="781.7" y="922.6" width="25.4" height="25.4" fill="#7a7a7a" fill-opacity="0.7" stroke="#262626" stroke-width="1.7"/>
<rect x="758.6" y="930.6" width="24.6" height="24.6" fill="#7a7a7a" fill-opacity="0.7" stroke="#262626" stroke-width="1.7"/>
<rect x="783.8" y="923.8" width="23.6" height="23.6" fill="#7a7a7a" fill-opacity="0.7" stroke="#262626" stroke-width="1.7"/>
<rect x="767.9" y="931.7" width="19.7" height="19.7" fill="#9238bb" fill-opacity="0.8" stroke="#262626" stroke-width="1.7"/>
<rect x="827.0" y="910.0" width="27.5" height="27.5" fill="#8a6a9a" fill-opacity="0.9" stroke="#262626" stroke-width="1.7"/>
<rect x="807.0" y="914.7" width="30.0" height="30.0" fill="#7a7a7a" fill-opacity="0.7" stroke="#262626" stroke-width="1.7"/>
<rect x="851.5" y="909.8" width="18.3" height="18.3" fill="#3ecf9f" fill-opacity="0.85" stroke="#262626" stroke-width="1.7"/>
<rect x="854.8" y="905.7" width="25.1" height="25.1" fill="#8a6a9a" fill-opacity="0.9" stroke="#262626" stroke-width="1.7"/>
<rect x="761.8" y="934.2" width="24.5" height="24.5" fill="#7a7a7a" fill-opacity="0.7" stroke="#262626" stroke-width="1.7"/>
<rect x="851.0" y="913.2" width="18.4" height="18.4" fill="#7a7a7a" fill-opacity="0.7" stroke="#262626" stroke-width="1.7"/>
<rect x="791.9" y="927.3" width="27.3" height="27.3" fill="#9238bb" fill-opacity="0.8" stroke="#262626" stroke-width="1.7"/>
<rect x="784.5" y="932.1" width="24.1" height="24.1" fill="#9238bb" fill-opacity="0.8" stroke="#262626" stroke-width="1.7"/>
<rect x="777.9" y="935.9" width="26.3" height="26.3" fill="#9238bb" fill-opacity="0.8" stroke="#262626" stroke-width="1.7"/>
<rect x="830.7" y="923.4" width="22.1" height="22.1" fill="#7a7a7a" fill-opacity="0.7" stroke="#262626" stroke-width="1.7"/>
<rect x="817.8" y="930.7" width="26.6" height="26.6" fill="#8a6a9a" fill-opacity="0.9" stroke="#262626" stroke-width="1.7"/>
<rect x="854.9" y="920.2" width="26.2" height="26.2" fill="#8a6a9a" fill-opacity="0.9" stroke="#262626" stroke-width="1.7"/>
<rect x="863.0" y="920.8" width="22.2" height="22.2" fill="#8d8b76" fill-opacity="0.9" stroke="#262626" stroke-width="1.7"/>
<rect x="791.4" y="939.6" width="26.9" height="26.9" fill="#9238bb" fill-opacity="0.8" stroke="#262626" stroke-width="1.7"/>
<rect x="775.4" y="949.2" width="19.8" height="19.8" fill="#3ecf9f" fill-opacity="0.85" stroke="#262626" stroke-width="1.7"/>
<rect x="750.3" y="953.6" width="27.0" height="27.0" fill="#9238bb" fill-opacity="0.8" stroke="#262626" stroke-width="1.7"/>
<rect x="820.2" y="939.2" width="23.2" height="23.2" fill="#999999" fill-opacity="0.95" stroke="#262626" stroke-width="1.7"/>
<rect x="782.2" y="949.1" width="29.8" height="29.8" fill="#7a7a7a" fill-opacity="0.7" stroke="#262626" stroke-width="1.7"/>
<rect x="836.9" y="940.0" width="22.7" height="22.7" fill="#3ecf9f" fill-opacity="0.85" stroke="#262626" stroke-width="1.7"/>
<rect x="776.6" y="953.7" width="29.8" height="29.8" fill="#7a7a7a" fill-opacity="0.7" stroke="#262626" stroke-width="1.7"/>
<rect x="843.3" y="934.5" width="28.7" height="28.7" fill="#8e5216" fill-opacity="0.85" stroke="#262626" stroke-width="1.7"/>
<rect x="875.9" y="928.8" width="23.5" height="23.5" fill="#7a7a7a" fill-opacity="0.7" stroke="#262626" stroke-width="1.7"/>
<rect x="817.1" y="942.5" width="30.1" height="30.1" fill="#7a7a7a" fill-opacity="0.7" stroke="#262626" stroke-width="1.7"/>
<rect x="806.6" y="949.5" width="26.1" height="26.1" fill="#999999" fill-opacity="0.95" stroke="#262626" stroke-width="1.7"/>
<rect x="846.1" y="939.3" width="25.1" height="25.1" fill="#7a7a7a" fill-opacity="0.7" stroke="#262626" stroke-width="1.7"/>
<rect x="861.0" y="934.6" width="26.2" height="26.2" fill="#9238bb" fill-opacity="0.8" stroke="#262626" stroke-width="1.7"/>
<rect x="758.6" y="964.7" width="30.6" height="30.6" fill="#7a7a7a" fill-opacity="0.7" stroke="#262626" stroke-width="1.7"/>
<rect x="780.9" y="971.0" width="20.9" height="20.9" fill="#8d8b76" fill-opacity="0.9" stroke="#262626" stroke-width="1.7"/>
<rect x="789.5" y="969.8" width="20.6" height="20.6" fill="#7a7a7a" fill-opacity="0.7" stroke="#262626" stroke-width="1.7"/>
<rect x="790.1" y="963.8" width="29.5" height="29.5" fill="#7a7a7a" fill-opacity="0.7" stroke="#262626" stroke-width="1.7"/>
<rect x="857.7" y="944.5" width="30.9" height="30.9" fill="#7a7a7a" fill-opacity="0.7" stroke="#262626" stroke-width="1.7"/>
<rect x="890.7" y="943.8" width="20.8" height="20.8" fill="#7a7a7a" fill-opacity="0.7" stroke="#262626" stroke-width="1.7"/>
<rect x="804.1" y="966.6" width="26.2" height="26.2" fill="#7a7a7a" fill-opacity="0.7" stroke="#262626" stroke-width="1.7"/>
<rect x="870.8" y="952.0" width="19.3" height="19.3" fill="#7a7a7a" fill-opacity="0.7" stroke="#262626" stroke-width="1.7"/>
<rect x="816.1" y="965.4" width="26.9" height="26.9" fill="#7a7a7a" fill-opacity="0.7" stroke="#262626" stroke-width="1.7"/>
<rect x="790.7" y="977.7" width="23.8" height="23.8" fill="#7a7a7a" fill-opacity="0.7" stroke="#262626" stroke-width="1.7"/>
<rect x="865.4" y="958.0" width="20.9" height="20.9" fill="#8d8b76" fill-opacity="0.9" stroke="#262626" stroke-width="1.7"/>
<rect x="846.5" y="960.7" width="25.5" height="25.5" fill="#999999" fill-opacity="0.95" stroke="#262626" stroke-width="1.7"/>
<rect x="830.2" y="963.9" width="30.4" height="30.4" fill="#9238bb" fill-opacity="0.8" stroke="#262626" stroke-width="1.7"/>
<rect x="892.0" y="950.6" width="24.7" height="24.7" fill="#8e5216" fill-opacity="0.85" stroke="#262626" stroke-width="1.7"/>
<rect x="875.2" y="960.1" width="20.1" height="20.1" fill="#7a7a7a" fill-opacity="0.7" stroke="#262626" stroke-width="1.7"/>
<rect x="816.1" y="980.3" width="20.5" height="20.5" fill="#9238bb" fill-opacity="0.8" stroke="#262626" stroke-width="1.7"/>
<rect x="866.7" y="962.5" width="24.5" height="24.5" fill="#8a6a9a" fill-opacity="0.9" stroke="#262626" stroke-width="1.7"/>
<rect x="834.1" y="972.9" width="27.6" height="27.6" fill="#8d8b76" fill-opacity="0.9" stroke="#262626" stroke-width="1.7"/>
<rect x="884.4" y="963.8" width="25.0" height="25.0" fill="#9238bb" fill-opacity="0.8" stroke="#262626" stroke-width="1.7"/>
<rect x="809.8" y="990.3" width="25.0" height="25.0" fill="#9238bb" fill-opacity="0.8" stroke="#262626" stroke-width="1.7"/>
<rect x="833.1" y="979.5" width="31.0" height="31.0" fill="#7a7a7a" fill-opacity="0.7" stroke="#262626" stroke-width="1.7"/>
<rect x="819.2" y="985.8" width="28.0" height="28.0" fill="#7a7a7a" fill-opacity="0.7" stroke="#262626" stroke-width="1.7"/>
<rect x="879.8" y="974.1" width="19.3" height="19.3" fill="#7a7a7a" fill-opacity="0.7" stroke="#262626" stroke-width="1.7"/>
<rect x="823.9" y="991.6" width="25.3" height="25.3" fill="#7a7a7a" fill-opacity="0.7" stroke="#262626" stroke-width="1.7"/>
<rect x="797.8" y="998.2" width="29.1" height="29.1" fill="#9238bb" fill-opacity="0.8" stroke="#262626" stroke-width="1.7"/>
<rect x="836.3" y="993.7" width="18.3" height="18.3" fill="#999999" fill-opacity="0.95" stroke="#262626" stroke-width="1.7"/>
<rect x="855.5" y="984.0" width="24.5" height="24.5" fill="#8a6a9a" fill-opacity="0.9" stroke="#262626" stroke-width="1.7"/>
<rect x="870.5" y="985.1" width="18.1" height="18.1" fill="#3ecf9f" fill-opacity="0.85" stroke="#262626" stroke-width="1.7"/>
<rect x="847.3" y="988.7" width="24.3" height="24.3" fill="#8a6a9a" fill-opacity="0.9" stroke="#262626" stroke-width="1.7"/>
<rect x="874.4" y="981.5" width="25.1" height="25.1" fill="#7a7a7a" fill-opacity="0.7" stroke="#262626" stroke-width="1.7"/>
<rect x="895.6" y="972.9" width="29.3" height="29.3" fill="#9238bb" fill-opacity="0.8" stroke="#262626" stroke-width="1.7"/>
<rect x="845.9" y="993.2" width="21.4" height="21.4" fill="#7a7a7a" fill-opacity="0.7" stroke="#262626" stroke-width="1.7"/>
<rect x="899.0" y="974.3" width="26.9" height="26.9" fill="#7a7a7a" fill-opacity="0.7" stroke="#262626" stroke-width="1.7"/>
<rect x="877.1" y="984.6" width="26.9" height="26.9" fill="#7a7a7a" fill-opacity="0.7" stroke="#262626" stroke-width="1.7"/>
<rect x="883.0" y="982.9" width="29.5" height="29.5" fill="#7a7a7a" fill-opacity="0.7" stroke="#262626" stroke-width="1.7"/>
<rect x="862.2" y="993.0" width="24.7" height="24.7" fill="#7a7a7a" fill-opacity="0.7" stroke="#262626" stroke-width="1.7"/>
<rect x="868.2" y="995.1" width="23.6" height="23.6" fill="#9238bb" fill-opacity="0.8" stroke="#262626" stroke-width="1.7"/>
<rect x="880.3" y="994.5" width="20.0" height="20.0" fill="#7a7a7a" fill-opacity="0.7" stroke="#262626" stroke-width="1.7"/>
<rect x="869.4" y="994.7" width="25.1" height="25.1" fill="#7a7a7a" fill-opacity="0.7" stroke="#262626" stroke-width="1.7"/>
<rect x="832.9" y="1003.4" width="30.0" height="30.0" fill="#7a7a7a" fill-opacity="0.7" stroke="#262626" stroke-width="1.7"/>
<rect x="880.4" y="990.4" width="29.4" height="29.4" fill="#7a7a7a" fill-opacity="0.7" stroke="#262626" stroke-width="1.7"/>
<rect x="857.0" y="998.2" width="28.8" height="28.8" fill="#7a7a7a" fill-opacity="0.7" stroke="#262626" stroke-width="1.7"/>
<rect x="838.3" y="1010.2" width="19.5" height="19.5" fill="#8a6a9a" fill-opacity="0.9" stroke="#262626" stroke-width="1.7"/>
<rect x="844.8" y="1009.0" width="20.8" height="20.8" fill="#7a7a7a" fill-opacity="0.7" stroke="#262626" stroke-width="1.7"/>
<rect x="882.8" y="996.1" width="24.7" height="24.7" fill="#8a6a9a" fill-opacity="0.9" stroke="#262626" stroke-width="1.7"/>
<rect x="886.8" y="997.8" width="23.3" height="23.3" fill="#8a6a9a" fill-opacity="0.9" stroke="#262626" stroke-width="1.7"/>
<rect x="855.0" y="1008.8" width="23.3" height="23.3" fill="#7a7a7a" fill-opacity="0.7" stroke="#262626" stroke-width="1.7"/>
<rect x="845.8" y="1011.5" width="27.7" height="27.7" fill="#7a7a7a" fill-opacity="0.7" stroke="#262626" stroke-width="1.7"/>
<rect x="847.0" y="1018.6" width="18.3" height="18.3" fill="#7a7a7a" fill-opacity="0.7" stroke="#262626" stroke-width="1.7"/>
<rect x="880.1" y="1009.5" width="22.4" height="22.4" fill="#7a7a7a" fill-opacity="0.7" stroke="#262626" stroke-width="1.7"/>
<rect x="852.1" y="1022.0" width="19.6" height="19.6" fill="#8a6a9a" fill-opacity="0.9" stroke="#262626" stroke-width="1.7"/>
<rect x="847.8" y="1018.3" width="28.7" height="28.7" fill="#7a7a7a" fill-opacity="0.7" stroke="#262626" stroke-width="1.7"/>
<rect x="757.9" y="865.9" width="23.0" height="23.0" fill="#7a7a7a" fill-opacity="0.7" stroke="#262626" stroke-width="1.7"/>
<rect x="788.6" y="868.3" width="20.0" height="20.0" fill="#7a7a7a" fill-opacity="0.7" stroke="#262626" stroke-width="1.7"/>
<rect x="756.2" y="884.7" width="22.0" height="22.0" fill="#b8dc6e" fill-opacity="0.8" stroke="#262626" stroke-width="1.7"/>
<rect x="719.0" y="895.7" width="20.0" height="20.0" fill="#b8dc6e" fill-opacity="0.8" stroke="#262626" stroke-width="1.7"/>
<rect x="796.0" y="881.2" width="29.0" height="29.0" fill="#6c4aa8" fill-opacity="0.9" stroke="#262626" stroke-width="1.7"/>
<rect x="840.9" y="894.0" width="27.0" height="27.0" fill="#7a7a7a" fill-opacity="0.7" stroke="#262626" stroke-width="1.7"/>
<rect x="813.9" y="906.4" width="28.0" height="28.0" fill="#9238bb" fill-opacity="0.8" stroke="#262626" stroke-width="1.7"/>
<rect x="790.0" y="901.3" width="30.0" height="30.0" fill="#9238bb" fill-opacity="0.8" stroke="#262626" stroke-width="1.7"/>
<rect x="747.4" y="907.5" width="25.0" height="25.0" fill="#8e5216" fill-opacity="0.85" stroke="#262626" stroke-width="1.7"/>
<rect x="863.4" y="916.5" width="26.0" height="26.0" fill="#7a7a7a" fill-opacity="0.7" stroke="#262626" stroke-width="1.7"/>
<rect x="887.7" y="918.8" width="14.0" height="14.0" fill="#999999" fill-opacity="0.95" stroke="#262626" stroke-width="1.7"/>
<rect x="789.0" y="926.4" width="30.0" height="30.0" fill="#7a7a7a" fill-opacity="0.7" stroke="#262626" stroke-width="1.7"/>
<rect x="821.4" y="934.0" width="24.0" height="24.0" fill="#8a6a9a" fill-opacity="0.9" stroke="#262626" stroke-width="1.7"/>
<rect x="732.1" y="944.3" width="27.0" height="27.0" fill="#999999" fill-opacity="0.95" stroke="#262626" stroke-width="1.7"/>
<rect x="748.6" y="948.1" width="25.0" height="25.0" fill="#8e5216" fill-opacity="0.85" stroke="#262626" stroke-width="1.7"/>
<rect x="788.6" y="952.4" width="20.0" height="20.0" fill="#9238bb" fill-opacity="0.8" stroke="#262626" stroke-width="1.7"/>
<rect x="850.3" y="944.6" width="32.0" height="32.0" fill="#9238bb" fill-opacity="0.8" stroke="#262626" stroke-width="1.7"/>
<rect x="898.4" y="959.7" width="20.0" height="20.0" fill="#c9bb66" fill-opacity="0.85" stroke="#262626" stroke-width="1.7"/>
<rect x="865.4" y="965.1" width="33.0" height="33.0" fill="#8d8b76" fill-opacity="0.9" stroke="#262626" stroke-width="1.7"/>
<rect x="827.5" y="959.1" width="33.0" height="33.0" fill="#8e5216" fill-opacity="0.85" stroke="#262626" stroke-width="1.7"/>
<rect x="897.0" y="983.0" width="28.0" height="28.0" fill="#999999" fill-opacity="0.95" stroke="#262626" stroke-width="1.7"/>
<rect x="775.2" y="971.9" width="25.0" height="25.0" fill="#7a7a7a" fill-opacity="0.7" stroke="#262626" stroke-width="1.7"/>
<rect x="755.7" y="968.9" width="20.0" height="20.0" fill="#b8dc6e" fill-opacity="0.8" stroke="#262626" stroke-width="1.7"/>
<rect x="783.4" y="986.5" width="25.0" height="25.0" fill="#9238bb" fill-opacity="0.8" stroke="#262626" stroke-width="1.7"/>
<rect x="803.7" y="985.7" width="32.0" height="32.0" fill="#7a7a7a" fill-opacity="0.7" stroke="#262626" stroke-width="1.7"/>
<rect x="873.3" y="1003.2" width="30.0" height="30.0" fill="#7a7a7a" fill-opacity="0.7" stroke="#262626" stroke-width="1.7"/>
<rect x="844.0" y="1010.5" width="30.0" height="30.0" fill="#7a7a7a" fill-opacity="0.7" stroke="#262626" stroke-width="1.7"/>
<rect x="863.8" y="1023.0" width="27.0" height="27.0" fill="#999999" fill-opacity="0.95" stroke="#262626" stroke-width="1.7"/>
<rect x="833.7" y="1020.3" width="25.0" height="25.0" fill="#7a7a7a" fill-opacity="0.7" stroke="#262626" stroke-width="1.7"/>
<rect x="822.9" y="1004.0" width="32.0" height="32.0" fill="#7a7a7a" fill-opacity="0.7" stroke="#262626" stroke-width="1.7"/>
<rect x="772.6" y="1000.4" width="21.0" height="21.0" fill="#de4a2c" fill-opacity="0.95" stroke="#262626" stroke-width="1.7"/>
<circle cx="230.8" cy="268" r="149.5" fill="none" stroke="#5dc98c" stroke-width="4"/>
<ellipse cx="377.5" cy="390" rx="128.5" ry="155" fill="none" stroke="#f9b24a" stroke-width="4"/>
<circle cx="809" cy="943" r="148.5" fill="none" stroke="#7452b6" stroke-width="3.6"/>
<text transform="translate(67.7,121.8) scale(1,1.1)" font-size="32.2" fill="#00a651" textLength="106.4" lengthAdjust="spacingAndGlyphs">SNET3</text>
<text transform="translate(467.2,265.9) scale(1,1.1)" font-size="32.4" fill="#fdb912" textLength="107.1" lengthAdjust="spacingAndGlyphs">SNET2</text>
<text transform="translate(784,772.5) scale(1,1.15)" font-size="31" fill="#824ea4" textLength="102.3" lengthAdjust="spacingAndGlyphs">SNET1</text>
<text transform="translate(-1,51.5) scale(0.83,1)" font-size="46.5" fill="#000" stroke="#000" stroke-width="0.6">a<tspan dx="4.7" dy="-2.4">)</tspan></text>
<rect x="2" y="705" width="506" height="384" fill="#fff" stroke="#111" stroke-width="2"/>
<text x="214.5" y="735.5" font-size="23.4" fill="#000" text-anchor="start" textLength="49.4" lengthAdjust="spacingAndGlyphs">Taxa</text>
<line x1="214.5" y1="739.6" x2="264" y2="739.6" stroke="#000" stroke-width="1.6"/>
<circle cx="35.4" cy="774.7" r="18.3" fill="#8e44ad" stroke="#333" stroke-width="1.5"/>
<text x="65" y="782.2" font-size="19.5" fill="#000" text-anchor="start" textLength="54.4" lengthAdjust="spacingAndGlyphs">SUP05</text>
<circle cx="35.4" cy="830" r="18.3" fill="#cc2189" stroke="#333" stroke-width="1.5"/>
<text x="65" y="837.5" font-size="19.5" fill="#000" text-anchor="start" textLength="148.9" lengthAdjust="spacingAndGlyphs" font-style="italic">Flavobacteraceae</text>
<circle cx="35.4" cy="886" r="18.3" fill="#2e86c1" stroke="#333" stroke-width="1.5"/>
<text x="65" y="893.5" font-size="19.5" fill="#000" text-anchor="start" textLength="52.9" lengthAdjust="spacingAndGlyphs">SAR11</text>
<circle cx="35.4" cy="942.6" r="18.3" fill="#b5e06e" stroke="#333" stroke-width="1.5"/>
<text x="65" y="950.1" font-size="19.5" fill="#000" text-anchor="start" textLength="87.4" lengthAdjust="spacingAndGlyphs" font-style="italic">Nitrospina</text>
<circle cx="35.4" cy="997.8" r="18.3" fill="#e5a50f" stroke="#333" stroke-width="1.5"/>
<text x="65" y="1005.3" font-size="19.5" fill="#000" text-anchor="start" textLength="158.6" lengthAdjust="spacingAndGlyphs" font-style="italic">Rhodobacteraceae</text>
<circle cx="35.4" cy="1055.7" r="18.3" fill="#d11c1c" stroke="#333" stroke-width="1.5"/>
<text x="65" y="1063.2" font-size="19.5" fill="#000" text-anchor="start" textLength="129.4" lengthAdjust="spacingAndGlyphs" font-style="italic">Nitrosopumilus</text>
<circle cx="262.7" cy="774.7" r="18.3" fill="#0b3b3b" stroke="#333" stroke-width="1.5"/>
<text x="293.4" y="782.2" font-size="19.5" fill="#000" text-anchor="start" textLength="141" lengthAdjust="spacingAndGlyphs" font-style="italic">Nitrosopelagicus</text>
<circle cx="262.7" cy="830" r="18.3" fill="#8b4f0f" stroke="#333" stroke-width="1.5"/>
<text x="293.4" y="837.5" font-size="19.5" fill="#000" text-anchor="start" textLength="129" lengthAdjust="spacingAndGlyphs">Marinimicrobia</text>
<circle cx="262.7" cy="886" r="18.3" fill="#0000ff" stroke="#333" stroke-width="1.5"/>
<text x="293.4" y="893.5" font-size="19.5" fill="#000" text-anchor="start" textLength="113.9" lengthAdjust="spacingAndGlyphs">Bacteroidales</text>
<circle cx="262.7" cy="942.6" r="18.3" fill="#0be3a0" stroke="#333" stroke-width="1.5"/>
<text x="293.4" y="950.1" font-size="19.5" fill="#000" text-anchor="start" textLength="202.9" lengthAdjust="spacingAndGlyphs" font-style="italic">Ectothiorhodospiraceae</text>
<circle cx="262.7" cy="997.8" r="18.3" fill="#ffff00" stroke="#333" stroke-width="1.5"/>
<text x="293.4" y="1005.3" font-size="19.5" fill="#000" text-anchor="start" textLength="168.3" lengthAdjust="spacingAndGlyphs" font-style="italic">Desulfobacteraceae</text>
<rect x="759" y="1" width="577.5" height="587" fill="#fff" stroke="#333" stroke-width="1.6"/>
<line x1="752.4" y1="109.4" x2="759" y2="109.4" stroke="#333" stroke-width="1.6"/>
<text x="747" y="117.0" font-size="21" fill="#4d4d4d" text-anchor="end">0.6</text>
<line x1="752.4" y1="252.5" x2="759" y2="252.5" stroke="#333" stroke-width="1.6"/>
<text x="747" y="260.1" font-size="21" fill="#4d4d4d" text-anchor="end">0.5</text>
<line x1="752.4" y1="395.6" x2="759" y2="395.6" stroke="#333" stroke-width="1.6"/>
<text x="747" y="403.2" font-size="21" fill="#4d4d4d" text-anchor="end">0.4</text>
<line x1="752.4" y1="538.7" x2="759" y2="538.7" stroke="#333" stroke-width="1.6"/>
<text x="747" y="546.3" font-size="21" fill="#4d4d4d" text-anchor="end">0.3</text>
<line x1="782.2" y1="588" x2="782.2" y2="594.5" stroke="#333" stroke-width="1.6"/>
<text x="782.2" y="616" font-size="21" fill="#4d4d4d" text-anchor="middle">0</text>
<line x1="908.0" y1="588" x2="908.0" y2="594.5" stroke="#333" stroke-width="1.6"/>
<text x="908.0" y="616" font-size="21" fill="#4d4d4d" text-anchor="middle">50</text>
<line x1="1033.8" y1="588" x2="1033.8" y2="594.5" stroke="#333" stroke-width="1.6"/>
<text x="1033.8" y="616" font-size="21" fill="#4d4d4d" text-anchor="middle">100</text>
<line x1="1159.5" y1="588" x2="1159.5" y2="594.5" stroke="#333" stroke-width="1.6"/>
<text x="1159.5" y="616" font-size="21" fill="#4d4d4d" text-anchor="middle">150</text>
<line x1="1285.3" y1="588" x2="1285.3" y2="594.5" stroke="#333" stroke-width="1.6"/>
<text x="1285.3" y="616" font-size="21" fill="#4d4d4d" text-anchor="middle">200</text>
<text x="974" y="644.8" font-size="25.4" fill="#000" text-anchor="start" textLength="147" lengthAdjust="spacingAndGlyphs">Node degree</text>
<text transform="translate(705,415.7) rotate(-90)" font-size="26" fill="#000" textLength="236.6" lengthAdjust="spacingAndGlyphs">Closeness centrality</text>
<text transform="translate(786.5,51.5) scale(0.83,1)" font-size="46.5" fill="#000" stroke="#000" stroke-width="0.6">b<tspan dx="6.1" dy="-2.5">)</tspan></text>
<polygon points="1201.1,99.4 1192.1,114.8 1210.1,114.8" fill="#aaaaaa" fill-opacity="0.62"/>
<circle cx="1212.2" cy="82.1" r="16.5" fill="#aaaaaa" fill-opacity="0.62"/>
<polygon points="862.1,292.3 856.0,302.6 868.1,302.6" fill="#aaaaaa" fill-opacity="0.62"/>
<rect x="848.6" y="316.4" width="10.2" height="10.2" fill="#aaaaaa" fill-opacity="0.62"/>
<circle cx="818.5" cy="344.4" r="17.3" fill="#aaaaaa" fill-opacity="0.62"/>
<circle cx="1272.0" cy="49.5" r="6.0" fill="#aaaaaa" fill-opacity="0.62"/>
<polygon points="1180.3,97.9 1174.6,107.6 1185.9,107.6" fill="#aaaaaa" fill-opacity="0.62"/>
<circle cx="832.8" cy="325.9" r="5.8" fill="#aaaaaa" fill-opacity="0.62"/>
<polygon points="1150.5,132.8 1143.8,144.3 1157.2,144.3" fill="#aaaaaa" fill-opacity="0.62"/>
<rect x="1108.9" y="145.6" width="14.6" height="14.6" fill="#aaaaaa" fill-opacity="0.62"/>
<rect x="936.2" y="250.0" width="31.7" height="31.7" fill="#aaaaaa" fill-opacity="0.62"/>
<circle cx="1079.0" cy="188.8" r="7.2" fill="#aaaaaa" fill-opacity="0.62"/>
<circle cx="1270.2" cy="49.0" r="10.5" fill="#aaaaaa" fill-opacity="0.62"/>
<rect x="871.4" y="280.5" width="9.5" height="9.5" fill="#aaaaaa" fill-opacity="0.62"/>
<circle cx="1239.4" cy="56.7" r="5.5" fill="#aaaaaa" fill-opacity="0.62"/>
<polygon points="849.3,288.7 841.1,302.7 857.5,302.7" fill="#aaaaaa" fill-opacity="0.62"/>
<circle cx="853.1" cy="284.9" r="9.0" fill="#aaaaaa" fill-opacity="0.62"/>
<polygon points="923.6,244.6 915.5,258.5 931.7,258.5" fill="#aaaaaa" fill-opacity="0.62"/>
<rect x="898.7" y="270.2" width="17.1" height="17.1" fill="#aaaaaa" fill-opacity="0.62"/>
<rect x="1157.6" y="124.7" width="19.7" height="19.7" fill="#aaaaaa" fill-opacity="0.62"/>
<rect x="1263.9" y="58.2" width="9.5" height="9.5" fill="#aaaaaa" fill-opacity="0.62"/>
<rect x="814.9" y="325.4" width="20.9" height="20.9" fill="#aaaaaa" fill-opacity="0.62"/>
<polygon points="815.7,401.3 806.1,417.7 825.2,417.7" fill="#aaaaaa" fill-opacity="0.62"/>
<rect x="872.7" y="259.1" width="19.5" height="19.5" fill="#aaaaaa" fill-opacity="0.62"/>
<circle cx="828.1" cy="364.2" r="4.6" fill="#aaaaaa" fill-opacity="0.62"/>
<rect x="1233.0" y="58.7" width="17.7" height="17.7" fill="#aaaaaa" fill-opacity="0.62"/>
<rect x="1068.3" y="184.5" width="19.7" height="19.7" fill="#aaaaaa" fill-opacity="0.62"/>
<rect x="1184.1" y="112.4" width="17.1" height="17.1" fill="#aaaaaa" fill-opacity="0.62"/>
<polygon points="816.4,351.4 810.2,362.1 822.6,362.1" fill="#aaaaaa" fill-opacity="0.62"/>
<rect x="1170.4" y="101.8" width="17.0" height="17.0" fill="#aaaaaa" fill-opacity="0.62"/>
<polygon points="1073.8,194.6 1066.3,207.4 1081.3,207.4" fill="#aaaaaa" fill-opacity="0.62"/>
<circle cx="848.4" cy="333.7" r="9.9" fill="#aaaaaa" fill-opacity="0.62"/>
<polygon points="919.9,262.6 912.6,275.1 927.1,275.1" fill="#aaaaaa" fill-opacity="0.62"/>
<rect x="1119.5" y="160.3" width="16.7" height="16.7" fill="#aaaaaa" fill-opacity="0.62"/>
<circle cx="1194.1" cy="86.7" r="8.1" fill="#aaaaaa" fill-opacity="0.62"/>
<polygon points="928.7,248.5 924.2,256.2 933.2,256.2" fill="#aaaaaa" fill-opacity="0.62"/>
<rect x="826.3" y="293.0" width="21.6" height="21.6" fill="#aaaaaa" fill-opacity="0.62"/>
<polygon points="1095.0,159.5 1086.3,174.4 1103.7,174.4" fill="#aaaaaa" fill-opacity="0.62"/>
<rect x="936.7" y="228.6" width="21.3" height="21.3" fill="#aaaaaa" fill-opacity="0.62"/>
<circle cx="1183.9" cy="113.2" r="7.8" fill="#aaaaaa" fill-opacity="0.62"/>
<rect x="885.9" y="276.6" width="21.4" height="21.4" fill="#aaaaaa" fill-opacity="0.62"/>
<rect x="928.4" y="255.3" width="14.5" height="14.5" fill="#aaaaaa" fill-opacity="0.62"/>
<circle cx="892.0" cy="267.3" r="8.3" fill="#aaaaaa" fill-opacity="0.62"/>
<polygon points="960.3,224.7 949.4,243.5 971.2,243.5" fill="#aaaaaa" fill-opacity="0.62"/>
<rect x="936.9" y="250.3" width="14.0" height="14.0" fill="#aaaaaa" fill-opacity="0.62"/>
<circle cx="956.4" cy="246.7" r="8.2" fill="#aaaaaa" fill-opacity="0.62"/>
<rect x="1110.7" y="142.7" width="21.2" height="21.2" fill="#aaaaaa" fill-opacity="0.62"/>
<polygon points="1006.6,205.3 997.8,220.3 1015.3,220.3" fill="#aaaaaa" fill-opacity="0.62"/>
<circle cx="931.6" cy="269.0" r="7.4" fill="#aaaaaa" fill-opacity="0.62"/>
<rect x="885.8" y="256.7" width="11.7" height="11.7" fill="#aaaaaa" fill-opacity="0.62"/>
<rect x="1047.7" y="197.5" width="15.3" height="15.3" fill="#aaaaaa" fill-opacity="0.62"/>
<circle cx="1250.9" cy="52.3" r="6.1" fill="#aaaaaa" fill-opacity="0.62"/>
<rect x="862.1" y="285.8" width="12.9" height="12.9" fill="#aaaaaa" fill-opacity="0.62"/>
<polygon points="1003.1,208.2 995.5,221.1 1010.6,221.1" fill="#aaaaaa" fill-opacity="0.62"/>
<rect x="1129.2" y="119.5" width="16.3" height="16.3" fill="#aaaaaa" fill-opacity="0.62"/>
<rect x="1163.6" y="126.6" width="14.7" height="14.7" fill="#aaaaaa" fill-opacity="0.62"/>
<circle cx="1252.1" cy="66.4" r="9.8" fill="#aaaaaa" fill-opacity="0.62"/>
<rect x="1138.8" y="132.3" width="20.7" height="20.7" fill="#aaaaaa" fill-opacity="0.62"/>
<rect x="893.6" y="264.6" width="15.5" height="15.5" fill="#aaaaaa" fill-opacity="0.62"/>
<rect x="966.0" y="239.9" width="19.5" height="19.5" fill="#aaaaaa" fill-opacity="0.62"/>
<circle cx="968.3" cy="252.6" r="11.0" fill="#aaaaaa" fill-opacity="0.62"/>
<polygon points="825.3,313.8 808.8,341.9 841.7,341.9" fill="#aaaaaa" fill-opacity="0.62"/>
<rect x="1278.0" y="51.7" width="10.1" height="10.1" fill="#aaaaaa" fill-opacity="0.62"/>
<circle cx="851.0" cy="312.6" r="7.9" fill="#aaaaaa" fill-opacity="0.62"/>
<circle cx="1051.0" cy="206.5" r="9.2" fill="#aaaaaa" fill-opacity="0.62"/>
<polygon points="813.0,363.4 805.2,376.7 820.7,376.7" fill="#aaaaaa" fill-opacity="0.62"/>
<rect x="1252.3" y="49.0" width="10.1" height="10.1" fill="#aaaaaa" fill-opacity="0.62"/>
<polygon points="1255.9,57.6 1246.6,73.5 1265.2,73.5" fill="#aaaaaa" fill-opacity="0.62"/>
<circle cx="938.2" cy="251.7" r="9.7" fill="#aaaaaa" fill-opacity="0.62"/>
<circle cx="880.6" cy="269.0" r="13.7" fill="#aaaaaa" fill-opacity="0.62"/>
<polygon points="989.6,217.6 982.1,230.5 997.2,230.5" fill="#aaaaaa" fill-opacity="0.62"/>
<polygon points="955.2,234.0 950.8,241.6 959.6,241.6" fill="#aaaaaa" fill-opacity="0.62"/>
<polygon points="804.5,443.7 794.5,460.9 814.6,460.9" fill="#aaaaaa" fill-opacity="0.62"/>
<circle cx="827.3" cy="342.4" r="5.0" fill="#aaaaaa" fill-opacity="0.62"/>
<polygon points="860.6,281.0 851.2,297.1 869.9,297.1" fill="#aaaaaa" fill-opacity="0.62"/>
<rect x="914.3" y="250.3" width="19.3" height="19.3" fill="#aaaaaa" fill-opacity="0.62"/>
<polygon points="1128.2,149.2 1122.4,159.2 1134.0,159.2" fill="#aaaaaa" fill-opacity="0.62"/>
<circle cx="801.1" cy="389.7" r="4.3" fill="#aaaaaa" fill-opacity="0.62"/>
<rect x="922.7" y="242.5" width="12.2" height="12.2" fill="#aaaaaa" fill-opacity="0.62"/>
<circle cx="1065.1" cy="193.2" r="5.1" fill="#aaaaaa" fill-opacity="0.62"/>
<circle cx="880.1" cy="293.1" r="12.6" fill="#aaaaaa" fill-opacity="0.62"/>
<circle cx="1203.9" cy="102.7" r="11.8" fill="#aaaaaa" fill-opacity="0.62"/>
<polygon points="1079.9,197.9 1075.6,205.4 1084.3,205.4" fill="#aaaaaa" fill-opacity="0.62"/>
<rect x="1004.7" y="229.5" width="12.1" height="12.1" fill="#aaaaaa" fill-opacity="0.62"/>
<circle cx="1013.0" cy="216.1" r="8.0" fill="#aaaaaa" fill-opacity="0.62"/>
<polygon points="1256.3,65.0 1249.8,76.2 1262.8,76.2" fill="#aaaaaa" fill-opacity="0.62"/>
<circle cx="925.2" cy="268.4" r="9.4" fill="#aaaaaa" fill-opacity="0.62"/>
<polygon points="835.7,314.3 817.5,345.5 853.9,345.5" fill="#aaaaaa" fill-opacity="0.62"/>
<circle cx="823.4" cy="349.1" r="4.2" fill="#aaaaaa" fill-opacity="0.62"/>
<polygon points="1143.7,152.0 1139.0,160.1 1148.4,160.1" fill="#aaaaaa" fill-opacity="0.62"/>
<circle cx="951.6" cy="238.8" r="8.5" fill="#aaaaaa" fill-opacity="0.62"/>
<rect x="965.7" y="243.0" width="19.7" height="19.7" fill="#aaaaaa" fill-opacity="0.62"/>
<polygon points="829.1,307.6 820.2,322.8 838.1,322.8" fill="#aaaaaa" fill-opacity="0.62"/>
<circle cx="950.5" cy="261.6" r="7.8" fill="#aaaaaa" fill-opacity="0.62"/>
<circle cx="1238.4" cy="63.9" r="7.1" fill="#aaaaaa" fill-opacity="0.62"/>
<circle cx="929.9" cy="261.6" r="9.1" fill="#aaaaaa" fill-opacity="0.62"/>
<circle cx="888.4" cy="287.5" r="7.9" fill="#aaaaaa" fill-opacity="0.62"/>
<rect x="925.2" y="248.0" width="12.4" height="12.4" fill="#aaaaaa" fill-opacity="0.62"/>
<rect x="796.6" y="355.1" width="21.5" height="21.5" fill="#aaaaaa" fill-opacity="0.62"/>
<polygon points="894.0,262.0 888.4,271.7 899.7,271.7" fill="#aaaaaa" fill-opacity="0.62"/>
<rect x="836.1" y="306.4" width="13.3" height="13.3" fill="#aaaaaa" fill-opacity="0.62"/>
<circle cx="808.6" cy="437.5" r="8.0" fill="#aaaaaa" fill-opacity="0.62"/>
<polygon points="1173.0,130.8 1168.5,138.6 1177.6,138.6" fill="#aaaaaa" fill-opacity="0.62"/>
<rect x="819.7" y="352.0" width="8.9" height="8.9" fill="#aaaaaa" fill-opacity="0.62"/>
<circle cx="917.9" cy="260.6" r="7.8" fill="#aaaaaa" fill-opacity="0.62"/>
<circle cx="965.4" cy="247.6" r="6.5" fill="#aaaaaa" fill-opacity="0.62"/>
<polygon points="817.5,382.8 806.1,402.4 829.0,402.4" fill="#aaaaaa" fill-opacity="0.62"/>
<rect x="1149.6" y="98.7" width="30.6" height="30.6" fill="#aaaaaa" fill-opacity="0.62"/>
<rect x="940.6" y="243.9" width="16.6" height="16.6" fill="#aaaaaa" fill-opacity="0.62"/>
<rect x="999.1" y="212.0" width="26.2" height="26.2" fill="#aaaaaa" fill-opacity="0.62"/>
<circle cx="1096.3" cy="156.1" r="4.2" fill="#aaaaaa" fill-opacity="0.62"/>
<circle cx="944.6" cy="252.0" r="5.4" fill="#aaaaaa" fill-opacity="0.62"/>
<circle cx="897.1" cy="281.7" r="6.6" fill="#aaaaaa" fill-opacity="0.62"/>
<circle cx="1175.5" cy="132.2" r="8.3" fill="#aaaaaa" fill-opacity="0.62"/>
<circle cx="825.0" cy="349.5" r="4.7" fill="#aaaaaa" fill-opacity="0.62"/>
<rect x="1044.1" y="211.8" width="14.7" height="14.7" fill="#aaaaaa" fill-opacity="0.62"/>
<polygon points="989.6,223.3 985.3,230.6 993.9,230.6" fill="#aaaaaa" fill-opacity="0.62"/>
<rect x="1011.3" y="209.4" width="17.5" height="17.5" fill="#aaaaaa" fill-opacity="0.62"/>
<polygon points="1122.9,149.7 1115.8,161.9 1130.0,161.9" fill="#aaaaaa" fill-opacity="0.62"/>
<polygon points="1260.3,64.3 1255.6,72.3 1264.9,72.3" fill="#aaaaaa" fill-opacity="0.62"/>
<polygon points="954.6,230.3 948.9,240.1 960.3,240.1" fill="#aaaaaa" fill-opacity="0.62"/>
<polygon points="823.2,354.8 816.0,367.2 830.4,367.2" fill="#aaaaaa" fill-opacity="0.62"/>
<circle cx="827.9" cy="324.4" r="9.3" fill="#aaaaaa" fill-opacity="0.62"/>
<polygon points="1251.6,64.8 1242.9,79.6 1260.2,79.6" fill="#aaaaaa" fill-opacity="0.62"/>
<rect x="831.1" y="286.9" width="21.6" height="21.6" fill="#aaaaaa" fill-opacity="0.62"/>
<circle cx="830.4" cy="327.5" r="9.3" fill="#aaaaaa" fill-opacity="0.62"/>
<rect x="913.3" y="256.7" width="9.5" height="9.5" fill="#aaaaaa" fill-opacity="0.62"/>
<circle cx="1192.5" cy="100.4" r="5.5" fill="#aaaaaa" fill-opacity="0.62"/>
<circle cx="910.9" cy="278.9" r="4.5" fill="#aaaaaa" fill-opacity="0.62"/>
<polygon points="915.3,257.7 905.0,275.4 925.6,275.4" fill="#aaaaaa" fill-opacity="0.62"/>
<polygon points="1095.5,162.3 1086.9,177.0 1104.1,177.0" fill="#aaaaaa" fill-opacity="0.62"/>
<rect x="832.5" y="333.1" width="17.0" height="17.0" fill="#aaaaaa" fill-opacity="0.62"/>
<circle cx="816.9" cy="381.6" r="7.0" fill="#aaaaaa" fill-opacity="0.62"/>
<circle cx="823.6" cy="343.3" r="4.4" fill="#aaaaaa" fill-opacity="0.62"/>
<rect x="1262.6" y="45.2" width="17.0" height="17.0" fill="#aaaaaa" fill-opacity="0.62"/>
<rect x="904.8" y="257.2" width="31.6" height="31.6" fill="#aaaaaa" fill-opacity="0.62"/>
<rect x="983.0" y="215.9" width="26.6" height="26.6" fill="#aaaaaa" fill-opacity="0.62"/>
<circle cx="1199.3" cy="110.9" r="9.0" fill="#aaaaaa" fill-opacity="0.62"/>
<circle cx="1163.2" cy="143.4" r="6.6" fill="#aaaaaa" fill-opacity="0.62"/>
<polygon points="872.1,263.8 860.7,283.5 883.6,283.5" fill="#aaaaaa" fill-opacity="0.62"/>
<circle cx="952.4" cy="251.0" r="4.8" fill="#aaaaaa" fill-opacity="0.62"/>
<rect x="901.9" y="248.4" width="34.0" height="34.0" fill="#aaaaaa" fill-opacity="0.62"/>
<circle cx="1194.4" cy="96.0" r="9.7" fill="#aaaaaa" fill-opacity="0.62"/>
<circle cx="1023.5" cy="214.7" r="6.0" fill="#aaaaaa" fill-opacity="0.62"/>
<rect x="1209.6" y="84.4" width="13.7" height="13.7" fill="#aaaaaa" fill-opacity="0.62"/>
<circle cx="813.0" cy="364.3" r="5.9" fill="#aaaaaa" fill-opacity="0.62"/>
<rect x="818.1" y="330.4" width="21.8" height="21.8" fill="#aaaaaa" fill-opacity="0.62"/>
<rect x="943.6" y="232.2" width="15.7" height="15.7" fill="#aaaaaa" fill-opacity="0.62"/>
<circle cx="1005.8" cy="238.7" r="5.8" fill="#aaaaaa" fill-opacity="0.62"/>
<circle cx="897.2" cy="261.4" r="5.4" fill="#aaaaaa" fill-opacity="0.62"/>
<polygon points="815.6,399.6 804.4,418.8 826.8,418.8" fill="#aaaaaa" fill-opacity="0.62"/>
<polygon points="977.2,230.7 969.8,243.4 984.6,243.4" fill="#aaaaaa" fill-opacity="0.62"/>
<circle cx="1169.7" cy="127.2" r="5.5" fill="#aaaaaa" fill-opacity="0.62"/>
<rect x="1213.6" y="85.1" width="20.8" height="20.8" fill="#aaaaaa" fill-opacity="0.62"/>
<circle cx="1205.8" cy="109.5" r="6.1" fill="#aaaaaa" fill-opacity="0.62"/>
<rect x="978.0" y="227.8" width="13.9" height="13.9" fill="#aaaaaa" fill-opacity="0.62"/>
<circle cx="867.2" cy="298.8" r="9.4" fill="#aaaaaa" fill-opacity="0.62"/>
<rect x="810.4" y="323.2" width="20.4" height="20.4" fill="#aaaaaa" fill-opacity="0.62"/>
<polygon points="824.8,371.9 817.3,384.9 832.4,384.9" fill="#aaaaaa" fill-opacity="0.62"/>
<circle cx="810.9" cy="401.9" r="5.3" fill="#aaaaaa" fill-opacity="0.62"/>
<circle cx="928.0" cy="258.5" r="5.1" fill="#aaaaaa" fill-opacity="0.62"/>
<circle cx="1188.2" cy="93.7" r="4.7" fill="#aaaaaa" fill-opacity="0.62"/>
<rect x="937.1" y="244.5" width="21.5" height="21.5" fill="#aaaaaa" fill-opacity="0.62"/>
<polygon points="1045.5,201.6 1038.5,213.7 1052.5,213.7" fill="#aaaaaa" fill-opacity="0.62"/>
<circle cx="978.2" cy="226.7" r="6.9" fill="#aaaaaa" fill-opacity="0.62"/>
<polygon points="1217.7,65.2 1211.7,75.4 1223.6,75.4" fill="#aaaaaa" fill-opacity="0.62"/>
<rect x="1205.2" y="86.1" width="14.3" height="14.3" fill="#aaaaaa" fill-opacity="0.62"/>
<polygon points="1080.4,176.9 1071.9,191.5 1088.9,191.5" fill="#aaaaaa" fill-opacity="0.62"/>
<polygon points="879.1,274.3 861.4,304.6 896.8,304.6" fill="#aaaaaa" fill-opacity="0.62"/>
<rect x="921.0" y="258.8" width="9.4" height="9.4" fill="#aaaaaa" fill-opacity="0.62"/>
<rect x="1074.8" y="174.0" width="12.9" height="12.9" fill="#aaaaaa" fill-opacity="0.62"/>
<circle cx="1027.4" cy="216.2" r="14.7" fill="#aaaaaa" fill-opacity="0.62"/>
<rect x="1074.2" y="170.1" width="14.8" height="14.8" fill="#aaaaaa" fill-opacity="0.62"/>
<rect x="800.8" y="353.4" width="13.4" height="13.4" fill="#aaaaaa" fill-opacity="0.62"/>
<rect x="853.8" y="299.9" width="20.8" height="20.8" fill="#aaaaaa" fill-opacity="0.62"/>
<rect x="1131.1" y="142.9" width="25.4" height="25.4" fill="#aaaaaa" fill-opacity="0.62"/>
<polygon points="824.7,345.7 820.2,353.4 829.2,353.4" fill="#aaaaaa" fill-opacity="0.62"/>
<polygon points="821.6,358.3 813.2,372.7 830.1,372.7" fill="#aaaaaa" fill-opacity="0.62"/>
<polygon points="1189.4,106.7 1181.6,120.1 1197.2,120.1" fill="#aaaaaa" fill-opacity="0.62"/>
<polygon points="914.4,266.1 904.0,283.9 924.7,283.9" fill="#aaaaaa" fill-opacity="0.62"/>
<rect x="1043.0" y="195.9" width="11.6" height="11.6" fill="#aaaaaa" fill-opacity="0.62"/>
<rect x="815.5" y="350.5" width="14.5" height="14.5" fill="#aaaaaa" fill-opacity="0.62"/>
<circle cx="864.2" cy="313.2" r="7.2" fill="#aaaaaa" fill-opacity="0.62"/>
<polygon points="1168.0,112.1 1159.0,127.5 1176.9,127.5" fill="#aaaaaa" fill-opacity="0.62"/>
<rect x="804.2" y="384.2" width="21.1" height="21.1" fill="#aaaaaa" fill-opacity="0.62"/>
<polygon points="813.0,382.2 804.9,396.2 821.2,396.2" fill="#aaaaaa" fill-opacity="0.62"/>
<rect x="1165.4" y="105.5" width="19.7" height="19.7" fill="#aaaaaa" fill-opacity="0.62"/>
<polygon points="807.8,382.5 801.6,393.1 813.9,393.1" fill="#aaaaaa" fill-opacity="0.62"/>
<circle cx="1270.8" cy="48.7" r="10.2" fill="#aaaaaa" fill-opacity="0.62"/>
<circle cx="1234.4" cy="80.1" r="9.4" fill="#aaaaaa" fill-opacity="0.62"/>
<circle cx="810.0" cy="417.2" r="6.9" fill="#aaaaaa" fill-opacity="0.62"/>
<rect x="790.9" y="429.9" width="22.0" height="22.0" fill="#aaaaaa" fill-opacity="0.62"/>
<circle cx="802.1" cy="372.8" r="9.5" fill="#aaaaaa" fill-opacity="0.62"/>
<circle cx="993.9" cy="232.6" r="7.0" fill="#aaaaaa" fill-opacity="0.62"/>
<rect x="1161.2" y="116.6" width="21.1" height="21.1" fill="#aaaaaa" fill-opacity="0.62"/>
<circle cx="843.4" cy="331.1" r="13.3" fill="#aaaaaa" fill-opacity="0.62"/>
<circle cx="1175.7" cy="113.7" r="5.9" fill="#aaaaaa" fill-opacity="0.62"/>
<polygon points="1099.1,148.3 1087.6,167.8 1110.5,167.8" fill="#aaaaaa" fill-opacity="0.62"/>
<polygon points="1018.8,203.9 1010.7,217.7 1026.9,217.7" fill="#aaaaaa" fill-opacity="0.62"/>
<rect x="820.3" y="330.4" width="15.7" height="15.7" fill="#aaaaaa" fill-opacity="0.62"/>
<polygon points="1043.1,190.4 1037.1,200.8 1049.2,200.8" fill="#aaaaaa" fill-opacity="0.62"/>
<circle cx="1156.6" cy="119.8" r="7.2" fill="#aaaaaa" fill-opacity="0.62"/>
<circle cx="1104.7" cy="157.5" r="8.3" fill="#aaaaaa" fill-opacity="0.62"/>
<circle cx="910.6" cy="278.0" r="9.6" fill="#aaaaaa" fill-opacity="0.62"/>
<polygon points="945.1,253.8 940.5,261.7 949.6,261.7" fill="#aaaaaa" fill-opacity="0.62"/>
<polygon points="822.9,337.5 815.2,350.8 830.7,350.8" fill="#aaaaaa" fill-opacity="0.62"/>
<polygon points="1129.4,147.9 1122.8,159.3 1136.1,159.3" fill="#aaaaaa" fill-opacity="0.62"/>
<circle cx="812.6" cy="380.5" r="6.0" fill="#aaaaaa" fill-opacity="0.62"/>
<circle cx="970.7" cy="244.2" r="6.2" fill="#aaaaaa" fill-opacity="0.62"/>
<polygon points="1096.8,178.8 1089.2,191.8 1104.4,191.8" fill="#aaaaaa" fill-opacity="0.62"/>
<circle cx="1066.5" cy="201.1" r="5.1" fill="#aaaaaa" fill-opacity="0.62"/>
<rect x="819.4" y="366.9" width="8.6" height="8.6" fill="#aaaaaa" fill-opacity="0.62"/>
<circle cx="845.5" cy="298.1" r="10.0" fill="#aaaaaa" fill-opacity="0.62"/>
<polygon points="1171.6,105.8 1161.0,123.9 1182.1,123.9" fill="#aaaaaa" fill-opacity="0.62"/>
<circle cx="1026.6" cy="209.3" r="9.2" fill="#aaaaaa" fill-opacity="0.62"/>
<rect x="861.9" y="291.0" width="15.8" height="15.8" fill="#aaaaaa" fill-opacity="0.62"/>
<rect x="1202.6" y="85.3" width="24.7" height="24.7" fill="#aaaaaa" fill-opacity="0.62"/>
<circle cx="890.3" cy="267.6" r="4.7" fill="#aaaaaa" fill-opacity="0.62"/>
<polygon points="934.4,253.6 929.6,261.7 939.1,261.7" fill="#aaaaaa" fill-opacity="0.62"/>
<polygon points="1159.1,120.2 1150.4,135.1 1167.8,135.1" fill="#aaaaaa" fill-opacity="0.62"/>
<rect x="1149.7" y="102.3" width="21.9" height="21.9" fill="#aaaaaa" fill-opacity="0.62"/>
<rect x="800.0" y="350.8" width="20.4" height="20.4" fill="#aaaaaa" fill-opacity="0.62"/>
<circle cx="834.4" cy="302.2" r="9.1" fill="#aaaaaa" fill-opacity="0.62"/>
<polygon points="828.6,358.5 823.0,368.1 834.2,368.1" fill="#aaaaaa" fill-opacity="0.62"/>
<rect x="1000.7" y="235.1" width="14.4" height="14.4" fill="#aaaaaa" fill-opacity="0.62"/>
<circle cx="1239.6" cy="80.5" r="10.1" fill="#aaaaaa" fill-opacity="0.62"/>
<polygon points="1095.2,172.0 1086.9,186.3 1103.6,186.3" fill="#aaaaaa" fill-opacity="0.62"/>
<polygon points="1198.1,83.4 1192.1,93.7 1204.1,93.7" fill="#aaaaaa" fill-opacity="0.62"/>
<circle cx="1022.4" cy="221.5" r="10.5" fill="#aaaaaa" fill-opacity="0.62"/>
<rect x="1072.5" y="167.0" width="10.5" height="10.5" fill="#aaaaaa" fill-opacity="0.62"/>
<polygon points="1268.1,57.4 1259.9,71.6 1276.4,71.6" fill="#aaaaaa" fill-opacity="0.62"/>
<circle cx="1066.0" cy="210.5" r="7.4" fill="#aaaaaa" fill-opacity="0.62"/>
<rect x="1189.1" y="92.4" width="11.7" height="11.7" fill="#aaaaaa" fill-opacity="0.62"/>
<rect x="1061.8" y="206.4" width="10.4" height="10.4" fill="#aaaaaa" fill-opacity="0.62"/>
<rect x="932.2" y="246.0" width="9.5" height="9.5" fill="#aaaaaa" fill-opacity="0.62"/>
<polygon points="1117.3,128.5 1103.6,152.0 1131.0,152.0" fill="#aaaaaa" fill-opacity="0.62"/>
<circle cx="1092.4" cy="169.4" r="6.2" fill="#aaaaaa" fill-opacity="0.62"/>
<polygon points="815.6,336.6 805.0,354.8 826.2,354.8" fill="#aaaaaa" fill-opacity="0.62"/>
<circle cx="814.6" cy="409.5" r="7.1" fill="#aaaaaa" fill-opacity="0.62"/>
<polygon points="888.4,256.1 880.4,269.8 896.4,269.8" fill="#aaaaaa" fill-opacity="0.62"/>
<rect x="1142.1" y="111.0" width="19.3" height="19.3" fill="#aaaaaa" fill-opacity="0.62"/>
<rect x="942.8" y="229.2" width="20.2" height="20.2" fill="#aaaaaa" fill-opacity="0.62"/>
<rect x="803.5" y="417.4" width="12.6" height="12.6" fill="#aaaaaa" fill-opacity="0.62"/>
<circle cx="943.3" cy="243.0" r="10.2" fill="#aaaaaa" fill-opacity="0.62"/>
<polygon points="945.6,247.1 937.7,260.7 953.6,260.7" fill="#aaaaaa" fill-opacity="0.62"/>
<polygon points="1106.7,162.6 1097.2,179.0 1116.3,179.0" fill="#aaaaaa" fill-opacity="0.62"/>
<circle cx="801.9" cy="401.5" r="6.1" fill="#aaaaaa" fill-opacity="0.62"/>
<rect x="1146.9" y="119.2" width="10.0" height="10.0" fill="#aaaaaa" fill-opacity="0.62"/>
<circle cx="1151.7" cy="142.7" r="7.2" fill="#aaaaaa" fill-opacity="0.62"/>
<circle cx="1052.5" cy="208.7" r="7.0" fill="#aaaaaa" fill-opacity="0.62"/>
<polygon points="1131.6,157.0 1121.1,175.0 1142.1,175.0" fill="#aaaaaa" fill-opacity="0.62"/>
<rect x="1224.5" y="53.5" width="22.0" height="22.0" fill="#aaaaaa" fill-opacity="0.62"/>
<rect x="802.5" y="357.4" width="21.2" height="21.2" fill="#aaaaaa" fill-opacity="0.62"/>
<circle cx="941.4" cy="270.5" r="5.0" fill="#aaaaaa" fill-opacity="0.62"/>
<rect x="1072.1" y="170.8" width="8.1" height="8.1" fill="#aaaaaa" fill-opacity="0.62"/>
<polygon points="855.3,273.4 842.5,295.3 868.1,295.3" fill="#aaaaaa" fill-opacity="0.62"/>
<rect x="849.5" y="283.1" width="11.4" height="11.4" fill="#aaaaaa" fill-opacity="0.62"/>
<polygon points="1123.7,163.6 1117.2,174.6 1130.1,174.6" fill="#aaaaaa" fill-opacity="0.62"/>
<circle cx="1012.8" cy="239.2" r="8.6" fill="#aaaaaa" fill-opacity="0.62"/>
<rect x="847.1" y="311.2" width="19.0" height="19.0" fill="#aaaaaa" fill-opacity="0.62"/>
<circle cx="834.2" cy="306.2" r="4.8" fill="#aaaaaa" fill-opacity="0.62"/>
<polygon points="827.0,343.7 818.5,358.2 835.5,358.2" fill="#aaaaaa" fill-opacity="0.62"/>
<rect x="867.7" y="277.1" width="12.3" height="12.3" fill="#aaaaaa" fill-opacity="0.62"/>
<rect x="947.9" y="254.1" width="14.6" height="14.6" fill="#aaaaaa" fill-opacity="0.62"/>
<polygon points="822.4,368.0 816.6,378.0 828.2,378.0" fill="#aaaaaa" fill-opacity="0.62"/>
<circle cx="814.5" cy="395.5" r="7.2" fill="#aaaaaa" fill-opacity="0.62"/>
<polygon points="807.4,382.7 799.6,396.1 815.2,396.1" fill="#aaaaaa" fill-opacity="0.62"/>
<rect x="1146.1" y="122.5" width="12.9" height="12.9" fill="#aaaaaa" fill-opacity="0.62"/>
<rect x="931.2" y="251.5" width="16.1" height="16.1" fill="#aaaaaa" fill-opacity="0.62"/>
<rect x="1029.5" y="192.2" width="9.2" height="9.2" fill="#aaaaaa" fill-opacity="0.62"/>
<polygon points="914.1,254.7 908.8,263.7 919.3,263.7" fill="#aaaaaa" fill-opacity="0.62"/>
<polygon points="818.2,369.1 809.6,383.8 826.8,383.8" fill="#aaaaaa" fill-opacity="0.62"/>
<polygon points="869.8,274.8 864.2,284.4 875.4,284.4" fill="#aaaaaa" fill-opacity="0.62"/>
<rect x="983.0" y="235.4" width="15.9" height="15.9" fill="#aaaaaa" fill-opacity="0.62"/>
<circle cx="964.7" cy="231.7" r="8.2" fill="#aaaaaa" fill-opacity="0.62"/>
<polygon points="866.3,282.7 857.6,297.6 874.9,297.6" fill="#aaaaaa" fill-opacity="0.62"/>
<polygon points="901.2,270.9 896.3,279.4 906.2,279.4" fill="#aaaaaa" fill-opacity="0.62"/>
<circle cx="815.0" cy="364.9" r="5.4" fill="#aaaaaa" fill-opacity="0.62"/>
<polygon points="937.5,244.5 930.7,256.1 944.3,256.1" fill="#aaaaaa" fill-opacity="0.62"/>
<rect x="957.1" y="228.0" width="19.3" height="19.3" fill="#aaaaaa" fill-opacity="0.62"/>
<circle cx="981.9" cy="236.8" r="6.8" fill="#aaaaaa" fill-opacity="0.62"/>
<rect x="1251.8" y="35.9" width="26.5" height="26.5" fill="#aaaaaa" fill-opacity="0.62"/>
<polygon points="1175.2,106.5 1169.7,115.9 1180.7,115.9" fill="#aaaaaa" fill-opacity="0.62"/>
<rect x="1171.0" y="93.8" width="17.9" height="17.9" fill="#aaaaaa" fill-opacity="0.62"/>
<polygon points="1034.9,208.1 1025.9,223.6 1044.0,223.6" fill="#aaaaaa" fill-opacity="0.62"/>
<polygon points="1095.5,167.7 1090.0,177.1 1101.0,177.1" fill="#aaaaaa" fill-opacity="0.62"/>
<circle cx="893.8" cy="279.3" r="10.9" fill="#aaaaaa" fill-opacity="0.62"/>
<rect x="1262.2" y="39.3" width="17.1" height="17.1" fill="#aaaaaa" fill-opacity="0.62"/>
<rect x="1230.6" y="51.9" width="17.8" height="17.8" fill="#aaaaaa" fill-opacity="0.62"/>
<circle cx="803.4" cy="370.8" r="9.9" fill="#aaaaaa" fill-opacity="0.62"/>
<rect x="837.8" y="280.8" width="15.4" height="15.4" fill="#aaaaaa" fill-opacity="0.62"/>
<circle cx="1241.2" cy="80.7" r="7.5" fill="#aaaaaa" fill-opacity="0.62"/>
<polygon points="1142.6,118.7 1136.0,129.9 1149.1,129.9" fill="#aaaaaa" fill-opacity="0.62"/>
<rect x="794.9" y="436.8" width="21.6" height="21.6" fill="#aaaaaa" fill-opacity="0.62"/>
<rect x="1093.8" y="141.1" width="20.5" height="20.5" fill="#aaaaaa" fill-opacity="0.62"/>
<circle cx="863.7" cy="289.8" r="6.2" fill="#aaaaaa" fill-opacity="0.62"/>
<rect x="857.9" y="272.5" width="18.7" height="18.7" fill="#aaaaaa" fill-opacity="0.62"/>
<polygon points="816.8,348.7 808.7,362.5 824.8,362.5" fill="#aaaaaa" fill-opacity="0.62"/>
<rect x="817.5" y="323.0" width="12.2" height="12.2" fill="#aaaaaa" fill-opacity="0.62"/>
<circle cx="1031.9" cy="209.3" r="4.3" fill="#aaaaaa" fill-opacity="0.62"/>
<polygon points="830.4,309.1 820.9,325.3 839.9,325.3" fill="#aaaaaa" fill-opacity="0.62"/>
<rect x="957.1" y="237.0" width="9.9" height="9.9" fill="#aaaaaa" fill-opacity="0.62"/>
<rect x="1072.1" y="198.7" width="11.9" height="11.9" fill="#aaaaaa" fill-opacity="0.62"/>
<polygon points="962.4,235.5 951.2,254.7 973.5,254.7" fill="#aaaaaa" fill-opacity="0.62"/>
<rect x="926.3" y="249.1" width="9.5" height="9.5" fill="#aaaaaa" fill-opacity="0.62"/>
<circle cx="1125.0" cy="149.9" r="8.7" fill="#aaaaaa" fill-opacity="0.62"/>
<circle cx="1079.2" cy="171.5" r="4.2" fill="#aaaaaa" fill-opacity="0.62"/>
<polygon points="954.8,243.8 948.9,253.9 960.7,253.9" fill="#aaaaaa" fill-opacity="0.62"/>
<rect x="851.5" y="311.1" width="11.5" height="11.5" fill="#aaaaaa" fill-opacity="0.62"/>
<polygon points="1274.1,50.2 1266.7,62.8 1281.5,62.8" fill="#aaaaaa" fill-opacity="0.62"/>
<circle cx="837.0" cy="306.2" r="7.0" fill="#aaaaaa" fill-opacity="0.62"/>
<circle cx="1027.9" cy="208.5" r="9.4" fill="#aaaaaa" fill-opacity="0.62"/>
<polygon points="952.9,257.9 945.1,271.3 960.7,271.3" fill="#aaaaaa" fill-opacity="0.62"/>
<rect x="823.6" y="358.3" width="9.6" height="9.6" fill="#aaaaaa" fill-opacity="0.62"/>
<rect x="804.0" y="386.4" width="19.7" height="19.7" fill="#aaaaaa" fill-opacity="0.62"/>
<polygon points="983.8,225.1 976.9,237.0 990.8,237.0" fill="#aaaaaa" fill-opacity="0.62"/>
<circle cx="1201.6" cy="93.4" r="9.9" fill="#aaaaaa" fill-opacity="0.62"/>
<circle cx="908.5" cy="267.5" r="8.2" fill="#aaaaaa" fill-opacity="0.62"/>
<circle cx="970.1" cy="256.7" r="9.4" fill="#aaaaaa" fill-opacity="0.62"/>
<polygon points="898.3,274.6 888.8,290.9 907.8,290.9" fill="#aaaaaa" fill-opacity="0.62"/>
<circle cx="858.5" cy="282.9" r="6.6" fill="#aaaaaa" fill-opacity="0.62"/>
<rect x="843.0" y="291.5" width="14.9" height="14.9" fill="#aaaaaa" fill-opacity="0.62"/>
<rect x="1251.7" y="39.7" width="20.1" height="20.1" fill="#aaaaaa" fill-opacity="0.62"/>
<circle cx="955.6" cy="238.0" r="8.3" fill="#aaaaaa" fill-opacity="0.62"/>
<rect x="911.4" y="257.9" width="14.1" height="14.1" fill="#aaaaaa" fill-opacity="0.62"/>
<polygon points="1162.1,116.8 1148.3,140.4 1175.8,140.4" fill="#aaaaaa" fill-opacity="0.62"/>
<polygon points="1126.9,153.6 1120.3,164.9 1133.5,164.9" fill="#aaaaaa" fill-opacity="0.62"/>
<rect x="790.1" y="430.0" width="21.2" height="21.2" fill="#aaaaaa" fill-opacity="0.62"/>
<polygon points="997.1,222.2 985.7,241.9 1008.6,241.9" fill="#aaaaaa" fill-opacity="0.62"/>
<circle cx="1169.3" cy="115.5" r="8.3" fill="#aaaaaa" fill-opacity="0.62"/>
<polygon points="825.0,328.9 817.8,341.1 832.1,341.1" fill="#aaaaaa" fill-opacity="0.62"/>
<rect x="1053.6" y="170.2" width="17.2" height="17.2" fill="#aaaaaa" fill-opacity="0.62"/>
<circle cx="1173.1" cy="111.6" r="15.3" fill="#aaaaaa" fill-opacity="0.62"/>
<circle cx="812.2" cy="400.0" r="10.0" fill="#aaaaaa" fill-opacity="0.62"/>
<rect x="878.6" y="271.9" width="12.5" height="12.5" fill="#aaaaaa" fill-opacity="0.62"/>
<polygon points="940.1,261.3 931.3,276.5 948.9,276.5" fill="#aaaaaa" fill-opacity="0.62"/>
<polygon points="1190.7,101.1 1186.0,109.1 1195.4,109.1" fill="#aaaaaa" fill-opacity="0.62"/>
<circle cx="1153.2" cy="125.4" r="6.7" fill="#aaaaaa" fill-opacity="0.62"/>
<polygon points="1030.1,217.0 1025.3,225.2 1034.8,225.2" fill="#aaaaaa" fill-opacity="0.62"/>
<polygon points="787.4,522.6 782.1,531.6 792.6,531.6" fill="#aaaaaa" fill-opacity="0.62"/>
<rect x="788.9" y="530.6" width="8.0" height="8.0" fill="#aaaaaa" fill-opacity="0.62"/>
<rect x="781.1" y="536.5" width="7.0" height="7.0" fill="#aaaaaa" fill-opacity="0.62"/>
<polygon points="787.4,545.0 782.7,553.1 792.1,553.1" fill="#aaaaaa" fill-opacity="0.62"/>
<rect x="788.5" y="558.5" width="7.0" height="7.0" fill="#aaaaaa" fill-opacity="0.62"/>
<rect x="790.9" y="489.7" width="13.0" height="13.0" fill="#aaaaaa" fill-opacity="0.62"/>
<rect x="788.5" y="493.5" width="7.0" height="7.0" fill="#aaaaaa" fill-opacity="0.62"/>
<polygon points="789.8,479.3 785.1,487.4 794.5,487.4" fill="#aaaaaa" fill-opacity="0.62"/>
<rect x="785.8" y="471.0" width="8.0" height="8.0" fill="#aaaaaa" fill-opacity="0.62"/>
<circle cx="810.2" cy="471.5" r="5.0" fill="#aaaaaa" fill-opacity="0.62"/>
<rect x="785.2" y="411.7" width="19.0" height="19.0" fill="#aaaaaa" fill-opacity="0.62"/>
<circle cx="792.3" cy="404.7" r="3.5" fill="#aaaaaa" fill-opacity="0.62"/>
<circle cx="800.0" cy="450.0" r="6.0" fill="#aaaaaa" fill-opacity="0.62"/>
<polygon points="812.0,437.2 804.6,449.8 819.4,449.8" fill="#aaaaaa" fill-opacity="0.62"/>
<rect x="800.0" y="456.0" width="12.0" height="12.0" fill="#aaaaaa" fill-opacity="0.62"/>
<circle cx="803.0" cy="430.0" r="7.0" fill="#aaaaaa" fill-opacity="0.62"/>
<polygon points="796.0,452.4 790.8,461.4 801.2,461.4" fill="#aaaaaa" fill-opacity="0.62"/>
<rect x="805.0" y="422.0" width="16.0" height="16.0" fill="#aaaaaa" fill-opacity="0.62"/>
<circle cx="808.0" cy="440.0" r="6.0" fill="#aaaaaa" fill-opacity="0.62"/>
<polygon points="790.0,439.4 784.8,448.4 795.2,448.4" fill="#aaaaaa" fill-opacity="0.62"/>
<circle cx="1312.4" cy="27.7" r="11.5" fill="#aaaaaa" fill-opacity="0.62"/>
<circle cx="1303.7" cy="31.6" r="11.0" fill="#aaaaaa" fill-opacity="0.62"/>
<circle cx="1286.0" cy="42.0" r="10.0" fill="#aaaaaa" fill-opacity="0.62"/>
<polygon points="835.0,281.5 821.4,304.9 848.6,304.9" fill="#aaaaaa" fill-opacity="0.62"/>
<circle cx="1238.0" cy="56.0" r="10.0" fill="#aaaaaa" fill-opacity="0.62"/>
<circle cx="1220.0" cy="66.0" r="10.0" fill="#aaaaaa" fill-opacity="0.62"/>
<circle cx="1170.0" cy="98.0" r="10.0" fill="#aaaaaa" fill-opacity="0.62"/>
<circle cx="1130.0" cy="130.0" r="11.0" fill="#aaaaaa" fill-opacity="0.62"/>
<circle cx="1080.0" cy="170.0" r="10.0" fill="#aaaaaa" fill-opacity="0.62"/>
<circle cx="1040.0" cy="186.0" r="10.0" fill="#aaaaaa" fill-opacity="0.62"/>
<circle cx="1000.0" cy="208.0" r="11.0" fill="#aaaaaa" fill-opacity="0.62"/>
<circle cx="960.0" cy="222.0" r="10.0" fill="#aaaaaa" fill-opacity="0.62"/>
<circle cx="925.0" cy="240.0" r="11.0" fill="#aaaaaa" fill-opacity="0.62"/>
<circle cx="874.4" cy="278.0" r="12.0" fill="#e2a72e" fill-opacity="0.85"/>
<rect x="886.3" y="264.7" width="24.0" height="24.0" fill="#9446b5" fill-opacity="0.85"/>
<circle cx="923.2" cy="264.2" r="8.0" fill="#d4482e" fill-opacity="0.85"/>
<rect x="849.0" y="292.7" width="22.0" height="22.0" fill="#9446b5" fill-opacity="0.85"/>
<polygon points="839.3,306.2 829.8,322.4 848.8,322.4" fill="#12464a" fill-opacity="0.85"/>
<rect x="835.8" y="304.0" width="15.0" height="15.0" fill="#955a1e" fill-opacity="0.85"/>
<rect x="852.0" y="311.8" width="18.0" height="18.0" fill="#4a8fc0" fill-opacity="0.85"/>
<polygon points="870.4,314.5 861.5,329.8 879.3,329.8" fill="#bcd97a" fill-opacity="0.85"/>
<circle cx="817.5" cy="341.0" r="5.0" fill="#4a8fc0" fill-opacity="0.85"/>
<polygon points="837.7,337.3 831.4,348.1 844.0,348.1" fill="#bcd97a" fill-opacity="0.85"/>
<polygon points="837.7,348.9 826.2,368.7 849.2,368.7" fill="#bcd97a" fill-opacity="0.85"/>
<polygon points="814.4,367.4 807.0,380.0 821.8,380.0" fill="#bcd97a" fill-opacity="0.85"/>
<circle cx="805.0" cy="381.4" r="4.5" fill="#e2a72e" fill-opacity="0.85"/>
<polygon points="805.0,392.0 800.3,400.1 809.7,400.1" fill="#12464a" fill-opacity="0.85"/>
<circle cx="807.6" cy="407.9" r="6.0" fill="#e2a72e" fill-opacity="0.85"/>
<rect x="823.5" y="413.8" width="13.0" height="13.0" fill="#9446b5" fill-opacity="0.85"/>
<rect x="814.0" y="416.8" width="10.0" height="10.0" fill="#4a8fc0" fill-opacity="0.85"/>
<rect x="790.8" y="437.4" width="8.0" height="8.0" fill="#d4482e" fill-opacity="0.85"/>
<rect x="811.0" y="452.6" width="13.0" height="13.0" fill="#9446b5" fill-opacity="0.85"/>
<polygon points="805.0,471.2 800.3,479.3 809.7,479.3" fill="#bcd97a" fill-opacity="0.85"/>
<rect x="911.4" y="287.3" width="8.0" height="8.0" fill="#9446b5" fill-opacity="0.85"/>
<circle cx="875.0" cy="291.3" r="5.0" fill="#4a8fc0" fill-opacity="0.85"/>
<circle cx="858.0" cy="318.6" r="5.0" fill="#4a8fc0" fill-opacity="0.85"/>
<circle cx="872.8" cy="312.0" r="4.0" fill="#4a8fc0" fill-opacity="0.85"/>
<polygon points="959.0,234.7 949.5,250.9 968.5,250.9" fill="#12464a" fill-opacity="0.85"/>
<polygon points="960.8,248.2 952.9,261.7 968.7,261.7" fill="#4a8fc0" fill-opacity="0.85"/>
<circle cx="969.7" cy="250.2" r="6.0" fill="#4a8fc0" fill-opacity="0.85"/>
<rect x="976.1" y="243.2" width="14.0" height="14.0" fill="#d4482e" fill-opacity="0.85"/>
<circle cx="993.3" cy="238.8" r="6.0" fill="#4a8fc0" fill-opacity="0.85"/>
<circle cx="981.0" cy="233.2" r="9.0" fill="#bcd97a" fill-opacity="0.85"/>
<rect x="995.5" y="218.6" width="16.0" height="16.0" fill="#d4482e" fill-opacity="0.85"/>
<circle cx="1011.5" cy="213.0" r="7.5" fill="#4a8fc0" fill-opacity="0.85"/>
<circle cx="1019.0" cy="216.3" r="8.0" fill="#4a8fc0" fill-opacity="0.85"/>
<polygon points="1018.9,181.6 1006.3,203.2 1031.5,203.2" fill="#12464a" fill-opacity="0.85"/>
<circle cx="1034.6" cy="203.0" r="8.0" fill="#955a1e" fill-opacity="0.85"/>
<circle cx="1041.1" cy="203.0" r="9.0" fill="#bcd97a" fill-opacity="0.85"/>
<rect x="1030.0" y="229.2" width="8.0" height="8.0" fill="#f0e050" fill-opacity="0.85"/>
<rect x="1040.0" y="222.6" width="8.0" height="8.0" fill="#f0e050" fill-opacity="0.85"/>
<circle cx="1069.1" cy="184.2" r="10.0" fill="#e2a72e" fill-opacity="0.85"/>
<circle cx="1066.6" cy="195.0" r="7.0" fill="#4a8fc0" fill-opacity="0.85"/>
<rect x="1062.1" y="201.1" width="9.0" height="9.0" fill="#9446b5" fill-opacity="0.85"/>
<circle cx="1086.7" cy="171.9" r="10.0" fill="#4a8fc0" fill-opacity="0.85"/>
<circle cx="1087.7" cy="170.4" r="8.0" fill="#4a8fc0" fill-opacity="0.85"/>
<polygon points="1083.9,167.3 1075.5,181.7 1092.3,181.7" fill="#e2a72e" fill-opacity="0.85"/>
<rect x="1097.0" y="161.5" width="14.0" height="14.0" fill="#955a1e" fill-opacity="0.85"/>
<rect x="1096.2" y="177.0" width="10.0" height="10.0" fill="#9446b5" fill-opacity="0.85"/>
<circle cx="1094.3" cy="153.8" r="9.0" fill="#4a8fc0" fill-opacity="0.85"/>
<polygon points="1111.9,135.2 1101.4,153.2 1122.4,153.2" fill="#12464a" fill-opacity="0.85"/>
<circle cx="1119.3" cy="153.8" r="7.0" fill="#e2a72e" fill-opacity="0.85"/>
<circle cx="1121.8" cy="157.9" r="9.0" fill="#4a8fc0" fill-opacity="0.85"/>
<rect x="1125.8" y="137.2" width="15.0" height="15.0" fill="#955a1e" fill-opacity="0.85"/>
<rect x="1142.0" y="142.9" width="12.0" height="12.0" fill="#9446b5" fill-opacity="0.85"/>
<rect x="1143.4" y="139.3" width="12.0" height="12.0" fill="#9446b5" fill-opacity="0.85"/>
<circle cx="1153.3" cy="128.0" r="10.0" fill="#e2a72e" fill-opacity="0.85"/>
<circle cx="1154.2" cy="130.0" r="8.0" fill="#9446b5" fill-opacity="0.85"/>
<rect x="1162.7" y="126.8" width="14.0" height="14.0" fill="#9446b5" fill-opacity="0.85"/>
<circle cx="1159.6" cy="113.5" r="10.0" fill="#4a8fc0" fill-opacity="0.85"/>
<rect x="1173.3" y="111.3" width="14.0" height="14.0" fill="#9446b5" fill-opacity="0.85"/>
<rect x="1172.3" y="120.0" width="16.0" height="16.0" fill="#9446b5" fill-opacity="0.85"/>
<rect x="1164.0" y="116.0" width="16.0" height="16.0" fill="#9446b5" fill-opacity="0.85"/>
<rect x="1154.0" y="128.0" width="16.0" height="16.0" fill="#9446b5" fill-opacity="0.85"/>
<rect x="1189.7" y="118.2" width="10.0" height="10.0" fill="#7ed6a8" fill-opacity="0.85"/>
<rect x="1172.8" y="93.5" width="15.0" height="15.0" fill="#9446b5" fill-opacity="0.85"/>
<circle cx="1191.8" cy="93.3" r="7.0" fill="#955a1e" fill-opacity="0.85"/>
<rect x="1195.9" y="72.3" width="15.0" height="15.0" fill="#9446b5" fill-opacity="0.85"/>
<rect x="1201.0" y="67.8" width="20.0" height="20.0" fill="#9446b5" fill-opacity="0.85"/>
<rect x="1206.0" y="86.2" width="18.0" height="18.0" fill="#9446b5" fill-opacity="0.85"/>
<circle cx="1226.5" cy="70.1" r="10.0" fill="#9446b5" fill-opacity="0.85"/>
<circle cx="1239.1" cy="81.7" r="9.0" fill="#e2a72e" fill-opacity="0.85"/>
<rect x="1220.4" y="45.7" width="20.0" height="20.0" fill="#9446b5" fill-opacity="0.85"/>
<rect x="1236.8" y="45.7" width="18.0" height="18.0" fill="#955a1e" fill-opacity="0.85"/>
<circle cx="1259.3" cy="53.7" r="11.0" fill="#4a8fc0" fill-opacity="0.85"/>
<circle cx="1260.3" cy="56.6" r="11.0" fill="#e2a72e" fill-opacity="0.85"/>
<rect x="1262.8" y="38.9" width="20.0" height="20.0" fill="#9446b5" fill-opacity="0.85"/>
<circle cx="1263.2" cy="74.0" r="9.0" fill="#4a8fc0" fill-opacity="0.85"/>
<circle cx="1250.0" cy="70.0" r="8.0" fill="#4a8fc0" fill-opacity="0.85"/>
<circle cx="1280.0" cy="62.0" r="8.0" fill="#955a1e" fill-opacity="0.85"/>
<rect x="1189.0" y="98.0" width="16.0" height="16.0" fill="#9446b5" fill-opacity="0.85"/>
<rect x="1183.0" y="105.0" width="14.0" height="14.0" fill="#9446b5" fill-opacity="0.85"/>
<rect x="1214.0" y="78.0" width="16.0" height="16.0" fill="#9446b5" fill-opacity="0.85"/>
<rect x="1224.0" y="68.0" width="16.0" height="16.0" fill="#9446b5" fill-opacity="0.85"/>
<path d="M952.3 255.3h17.0M960.8 246.8v17.0M954.8 249.3l12.0 12.0M954.8 261.3l12.0 -12.0M974.6 250.2h17.0M983.1 241.7v17.0M977.1 244.2l12.0 12.0M977.1 256.2l12.0 -12.0M977.2 267.5h17.0M985.7 259.0v17.0M979.7 261.5l12.0 12.0M979.7 273.5l12.0 -12.0M1042.5 222.3h17.0M1051.0 213.8v17.0M1045.0 216.3l12.0 12.0M1045.0 228.3l12.0 -12.0M1051.4 218.4h17.0M1059.9 209.9v17.0M1053.9 212.4l12.0 12.0M1053.9 224.4l12.0 -12.0M1075.5 198.1h17.0M1084.0 189.6v17.0M1078.0 192.1l12.0 12.0M1078.0 204.1l12.0 -12.0M1083.1 193.0h17.0M1091.6 184.5v17.0M1085.6 187.0l12.0 12.0M1085.6 199.0l12.0 -12.0M1103.3 172.3h17.0M1111.8 163.8v17.0M1105.8 166.3l12.0 12.0M1105.8 178.3l12.0 -12.0M1125.5 144.4h17.0M1134.0 135.9v17.0M1128.0 138.4l12.0 12.0M1128.0 150.4l12.0 -12.0M1166.0 137.6h17.0M1174.5 129.1v17.0M1168.5 131.6l12.0 12.0M1168.5 143.6l12.0 -12.0M1188.2 108.7h17.0M1196.7 100.2v17.0M1190.7 102.7l12.0 12.0M1190.7 114.7l12.0 -12.0M1198.8 114.5h17.0M1207.3 106.0v17.0M1201.3 108.5l12.0 12.0M1201.3 120.5l12.0 -12.0M1223.8 96.0h17.0M1232.3 87.5v17.0M1226.3 90.0l12.0 12.0M1226.3 102.0l12.0 -12.0M1231.5 82.7h17.0M1240.0 74.2v17.0M1234.0 76.7l12.0 12.0M1234.0 88.7l12.0 -12.0M1244.1 72.0h17.0M1252.6 63.5v17.0M1246.6 66.0l12.0 12.0M1246.6 78.0l12.0 -12.0M1248.9 70.5h17.0M1257.4 62.0v17.0M1251.4 64.5l12.0 12.0M1251.4 76.5l12.0 -12.0M1269.1 58.6h17.0M1277.6 50.1v17.0M1271.6 52.6l12.0 12.0M1271.6 64.6l12.0 -12.0M1276.9 53.7h17.0M1285.4 45.2v17.0M1279.4 47.7l12.0 12.0M1279.4 59.7l12.0 -12.0" stroke="#000" stroke-width="2" fill="none"/>
<text x="897" y="404.7" font-size="23.3" fill="#000" text-anchor="start" textLength="240" lengthAdjust="spacingAndGlyphs">Betweenness centrality</text>
<circle cx="915.4" cy="435.8" r="4" fill="#a6a6a6"/>
<text x="946" y="442.1" font-size="18.3" fill="#000" text-anchor="start" textLength="45.6" lengthAdjust="spacingAndGlyphs">0.000</text>
<circle cx="915.4" cy="469.4" r="11" fill="#a6a6a6"/>
<text x="946" y="475.7" font-size="18.3" fill="#000" text-anchor="start" textLength="45.6" lengthAdjust="spacingAndGlyphs">0.005</text>
<circle cx="915.4" cy="502.7" r="13.7" fill="#a6a6a6"/>
<text x="946" y="509.0" font-size="18.3" fill="#000" text-anchor="start" textLength="45.6" lengthAdjust="spacingAndGlyphs">0.010</text>
<circle cx="915.4" cy="538.4" r="15.5" fill="#a6a6a6"/>
<text x="946" y="544.7" font-size="18.3" fill="#000" text-anchor="start" textLength="45.6" lengthAdjust="spacingAndGlyphs">0.015</text>
<text x="1190" y="404.7" font-size="23.3" fill="#000" text-anchor="start" textLength="123.6" lengthAdjust="spacingAndGlyphs">Subnetwork</text>
<rect x="1196" y="425" width="21" height="21" fill="#a6a6a6"/>
<polygon points="1206.5,452.8 1192,478 1221,478" fill="#a6a6a6"/>
<circle cx="1206.7" cy="503" r="11" fill="#a6a6a6"/>
<text x="1235.5" y="442.4" font-size="18.2" fill="#000" text-anchor="start" textLength="57.5" lengthAdjust="spacingAndGlyphs">SNET1</text>
<text x="1235.5" y="476.0" font-size="18.2" fill="#000" text-anchor="start" textLength="57.5" lengthAdjust="spacingAndGlyphs">SNET2</text>
<text x="1235.5" y="509.6" font-size="18.2" fill="#000" text-anchor="start" textLength="57.5" lengthAdjust="spacingAndGlyphs">SNET3</text>
</svg></body></html>
